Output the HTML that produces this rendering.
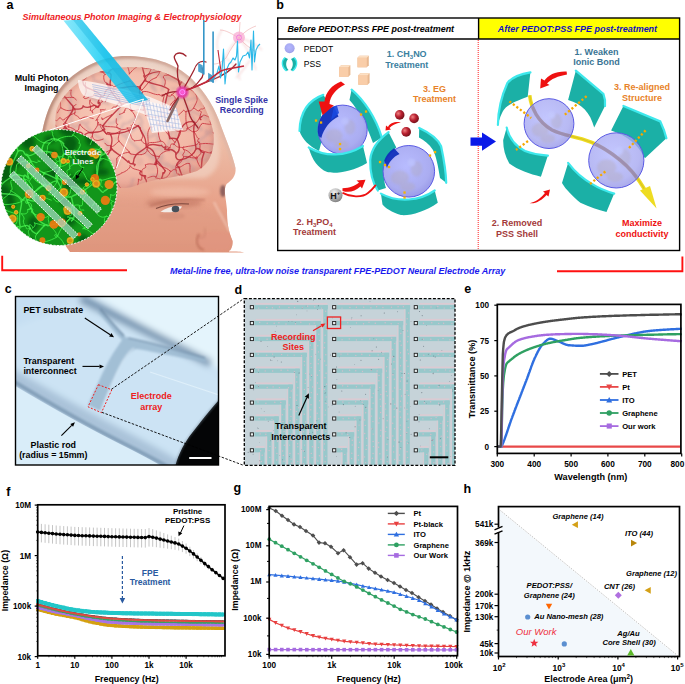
<!DOCTYPE html>
<html><head><meta charset="utf-8"><style>
html,body{margin:0;padding:0;background:#fff;}
body{width:685px;height:684px;overflow:hidden;}
svg{display:block;font-family:"Liberation Sans",sans-serif;}
</style></head><body>
<svg width="685" height="684" viewBox="0 0 685 684" font-family="Liberation Sans, sans-serif">
<defs>
<radialGradient id="sph" cx="0.45" cy="0.4" r="0.62"><stop offset="0" stop-color="#b4b8ff"/><stop offset="0.75" stop-color="#a6a8f0"/><stop offset="1" stop-color="#9494e6"/></radialGradient>
<radialGradient id="redball" cx="0.35" cy="0.35" r="0.7"><stop offset="0" stop-color="#f08080"/><stop offset="0.5" stop-color="#b82030"/><stop offset="1" stop-color="#701018"/></radialGradient>
<radialGradient id="grayball" cx="0.4" cy="0.3" r="0.75"><stop offset="0" stop-color="#f0f0f0"/><stop offset="0.6" stop-color="#b0b0b0"/><stop offset="1" stop-color="#7a7a7a"/></radialGradient>
<radialGradient id="neuron" cx="0.5" cy="0.5" r="0.5"><stop offset="0" stop-color="#ff60e0"/><stop offset="0.6" stop-color="#e040a0"/><stop offset="1" stop-color="#e040a0" stop-opacity="0"/></radialGradient>
<linearGradient id="cbg" x1="0" y1="0" x2="1" y2="1"><stop offset="0" stop-color="#c6e0f4"/><stop offset="0.5" stop-color="#cfe6f6"/><stop offset="1" stop-color="#b8d4ea"/></linearGradient>
<linearGradient id="beam" x1="0" y1="0" x2="1" y2="0"><stop offset="0" stop-color="#50dcf8" stop-opacity="0.8"/><stop offset="0.5" stop-color="#10ccf4"/><stop offset="1" stop-color="#14b8e6" stop-opacity="0.9"/></linearGradient>
<linearGradient id="skin" x1="0" y1="56" x2="0" y2="252" gradientUnits="userSpaceOnUse"><stop offset="0" stop-color="#e8d0c4"/><stop offset="0.45" stop-color="#edbca6"/><stop offset="0.72" stop-color="#e8a48c"/><stop offset="1" stop-color="#e0947a"/></linearGradient>
<linearGradient id="skinshade" x1="0" y1="0" x2="0" y2="1"><stop offset="0" stop-color="#b07a68" stop-opacity="0.25"/><stop offset="0.3" stop-color="#fff" stop-opacity="0"/></linearGradient>
<radialGradient id="brain" cx="0.45" cy="0.4" r="0.65"><stop offset="0" stop-color="#f8ccbc"/><stop offset="0.7" stop-color="#f2b8a6"/><stop offset="1" stop-color="#e6a090"/></radialGradient>
<linearGradient id="rimg" x1="0" y1="0" x2="1" y2="0"><stop offset="0" stop-color="#a87868"/><stop offset="0.5" stop-color="#c09080"/><stop offset="1" stop-color="#e0b8a8"/></linearGradient>
<filter id="blur3" x="-20%" y="-20%" width="140%" height="140%"><feGaussianBlur stdDeviation="3"/></filter>
<filter id="blur2" x="-20%" y="-20%" width="140%" height="140%"><feGaussianBlur stdDeviation="2"/></filter>
<filter id="blur05" x="-20%" y="-20%" width="140%" height="140%"><feGaussianBlur stdDeviation="0.6"/></filter>
<filter id="blur1" x="-20%" y="-20%" width="140%" height="140%"><feGaussianBlur stdDeviation="1"/></filter>
</defs>
<text x="6.4" y="9.3" font-size="12.5" font-weight="bold" text-anchor="start" fill="#000" >a</text>
<clipPath id="headclip"><path d="M70 252 C56 232,42 205,40 175 C38 140,44 108,62 86 C80 66,104 56,126 56 C150 56,174 62,192 79 C206 93,216 110,221 126 C227 142,233 156,235.5 168 C236.5 176,231 181,226.6 184 C223 190,226 197,227 210 C227 222,228 230,232.6 241 C233 246,231 250,229 251.5 C236 251.5,242 251.5,244 252.5 Z"/></clipPath>
<path d="M70 252 C56 232,42 205,40 175 C38 140,44 108,62 86 C80 66,104 56,126 56 C150 56,174 62,192 79 C206 93,216 110,221 126 C227 142,233 156,235.5 168 C236.5 176,231 181,226.6 184 C223 190,226 197,227 210 C227 222,228 230,232.6 241 C233 246,231 250,229 251.5 C236 251.5,242 251.5,244 252.5 Z" fill="url(#skin)"/>
<g clip-path="url(#headclip)">
<path d="M30 200 C30 140,40 100,62 80 C82 60,104 50,126 50 C150 50,176 56,196 76 C212 92,222 112,228 130 L240 130 L240 20 L20 20 L20 200 Z" fill="none"/>
<path d="M40 175 C38 140,44 108,62 86 C80 66,104 56,126 56 C150 56,174 62,192 79 C206 93,216 110,221 126 C227 142,233 156,235.5 168" fill="none" stroke="url(#rimg)" stroke-width="6" opacity="0.7" filter="url(#blur1)"/>
<path d="M52 120 C56 96,78 72,110 64 C140 58,170 66,190 84 C205 100,214 118,218 140 C222 160,218 172,205 178 L80 180 Z" fill="#f4dccf" opacity="0.55" filter="url(#blur2)"/>
<path d="M70 252 L70 200 C110 196,150 200,190 206 L232 215 L240 252 Z" fill="#dc9a84" opacity="0.35" filter="url(#blur3)"/>
<ellipse cx="174" cy="203" rx="28" ry="4.5" fill="#b86c58" opacity="0.5" filter="url(#blur2)"/>
<path d="M150 206 C165 200,185 198,205 200" fill="none" stroke="#a85a4a" stroke-width="1.5" opacity="0.5" filter="url(#blur1)"/>
<ellipse cx="180" cy="192" rx="30" ry="5" fill="#f4c4b0" opacity="0.5" filter="url(#blur2)"/>
<ellipse cx="172" cy="216" rx="13" ry="3.5" fill="#c98470" opacity="0.35" filter="url(#blur1)"/>
<path d="M160.5 211.8 C166 207.5,174 205.5,182 206.5 C180 211,172 213.5,160.5 211.8 Z" fill="#f2ece8"/>
<ellipse cx="175.5" cy="209" rx="3.8" ry="3.3" fill="#46505a"/>
<path d="M156 208.5 C164 205,176 203,189 204" fill="none" stroke="#6e3c34" stroke-width="1.1" opacity="0.85"/>
<ellipse cx="223" cy="191" rx="3" ry="6" fill="#6a4448" opacity="0.7" filter="url(#blur1)"/>
<path d="M214 202 C220 214,226 224,230 232" fill="none" stroke="#f6d0c0" stroke-width="2.5" opacity="0.55" filter="url(#blur1)"/>
<path d="M197 236 C196 244,199 249,206 250 C214 251,222 251,228 250 C232 246,233 240,231 234 C222 230,206 230,197 236 Z" fill="#e29480" opacity="0.6" filter="url(#blur1)"/>
<path d="M229 250.5 C236 250,241 251,244 252.5 L229 252.5 Z" fill="#f4d0c4"/>
<path d="M199 234 C195 241,197 248,204 250" fill="none" stroke="#b0604c" stroke-width="1.8" opacity="0.6" filter="url(#blur1)"/>
<path d="M205 228 C206 236,204 240,198 236" fill="none" stroke="#c07a66" stroke-width="2" opacity="0.3" filter="url(#blur1)"/>
</g>
<path d="M56 112 C62 92,84 74,110 69 C135 64,160 68,180 80 C198 92,209 110,213.5 133 C215 150,210 164,197 171 C178 178,155 178,135 186 C118 192,96 184,78 172 C62 160,53 135,56 112 Z" fill="url(#brain)"/>
<clipPath id="brainclip"><path d="M56 112 C62 92,84 74,110 69 C135 64,160 68,180 80 C198 92,209 110,213.5 133 C215 150,210 164,197 171 C178 178,155 178,135 186 C118 192,96 184,78 172 C62 160,53 135,56 112 Z"/></clipPath>
<g clip-path="url(#brainclip)">
<g fill="#c89090" opacity="0.2" filter="url(#blur1)"><ellipse cx="154.7" cy="157.5" rx="6.2" ry="4.8"/><ellipse cx="172.5" cy="178.8" rx="3.1" ry="3.4"/><ellipse cx="203.4" cy="146.6" rx="6.6" ry="2.3"/><ellipse cx="131.3" cy="99.1" rx="5.2" ry="3.7"/><ellipse cx="62.0" cy="95.6" rx="4.1" ry="4.7"/><ellipse cx="176.4" cy="88.8" rx="6.2" ry="2.4"/><ellipse cx="153.9" cy="85.0" rx="3.0" ry="4.6"/><ellipse cx="91.8" cy="95.4" rx="6.9" ry="4.6"/><ellipse cx="104.0" cy="183.5" rx="5.2" ry="4.0"/><ellipse cx="91.1" cy="181.0" rx="5.8" ry="4.9"/><ellipse cx="195.8" cy="105.3" rx="4.4" ry="2.5"/><ellipse cx="82.1" cy="77.7" rx="4.2" ry="3.8"/><ellipse cx="60.5" cy="150.0" rx="4.4" ry="2.9"/><ellipse cx="184.4" cy="126.7" rx="4.3" ry="3.4"/><ellipse cx="167.1" cy="76.7" rx="6.9" ry="2.1"/><ellipse cx="174.0" cy="169.7" rx="3.1" ry="4.4"/><ellipse cx="115.7" cy="138.3" rx="3.0" ry="2.1"/><ellipse cx="87.5" cy="182.7" rx="3.8" ry="4.3"/><ellipse cx="201.3" cy="181.2" rx="4.4" ry="3.1"/><ellipse cx="139.8" cy="161.5" rx="3.4" ry="4.2"/><ellipse cx="181.2" cy="171.4" rx="3.1" ry="4.8"/><ellipse cx="73.9" cy="110.2" rx="5.4" ry="4.8"/><ellipse cx="111.7" cy="179.1" rx="5.2" ry="2.9"/><ellipse cx="108.2" cy="90.9" rx="3.3" ry="2.4"/><ellipse cx="164.8" cy="187.6" rx="3.6" ry="2.1"/><ellipse cx="210.0" cy="133.0" rx="4.6" ry="2.7"/><ellipse cx="150.3" cy="167.5" rx="4.8" ry="3.3"/><ellipse cx="68.5" cy="178.1" rx="3.1" ry="3.5"/><ellipse cx="187.4" cy="85.4" rx="5.9" ry="4.8"/><ellipse cx="155.8" cy="163.0" rx="3.4" ry="3.3"/><ellipse cx="82.7" cy="169.7" rx="4.2" ry="3.4"/><ellipse cx="211.9" cy="170.6" rx="6.9" ry="3.4"/><ellipse cx="134.2" cy="156.1" rx="4.9" ry="2.9"/><ellipse cx="121.4" cy="87.3" rx="4.5" ry="5.0"/><ellipse cx="205.9" cy="144.0" rx="5.0" ry="3.0"/><ellipse cx="73.5" cy="102.1" rx="6.1" ry="4.6"/><ellipse cx="114.9" cy="162.8" rx="6.1" ry="4.1"/><ellipse cx="160.9" cy="159.6" rx="4.5" ry="4.1"/><ellipse cx="102.7" cy="127.3" rx="6.1" ry="4.1"/><ellipse cx="104.7" cy="181.6" rx="5.6" ry="3.7"/></g>
<g fill="none" stroke="#a88c98" stroke-width="3" opacity="0.28" filter="url(#blur1)"><path d="M96.0 178.7C92.0 177.9 92.6 187.3 95.0 187.8"/><path d="M192.9 66.8C192.3 68.8 188.8 77.5 186.3 83.6"/><path d="M203.2 98.6C202.6 94.2 187.2 102.5 186.4 97.8"/><path d="M186.4 97.8C183.3 96.0 184.9 102.2 186.2 97.6"/><path d="M157.9 174.4C155.7 179.4 156.0 174.0 150.0 175.9"/><path d="M163.7 179.4C166.8 178.4 162.4 190.6 158.3 190.7"/><path d="M158.3 190.7C154.2 193.8 158.0 188.0 154.4 191.3"/><path d="M154.4 191.3C151.3 186.6 152.2 189.5 153.5 191.1"/><path d="M162.2 163.0C167.0 167.4 169.7 167.6 166.4 162.4"/><path d="M176.4 183.2C173.8 175.2 176.3 174.2 174.4 169.0"/><path d="M176.4 183.2C168.1 178.8 172.2 181.7 163.7 179.4"/><path d="M166.4 162.4C165.0 163.6 175.8 168.3 174.4 169.0"/><path d="M160.3 160.4C150.3 156.8 149.4 153.6 139.4 151.0"/><path d="M160.3 160.4C161.5 157.4 157.6 166.9 162.2 163.0"/><path d="M184.0 189.5C185.0 187.2 178.9 188.2 176.4 183.2"/><path d="M131.0 187.6C133.7 180.3 129.8 178.6 135.0 179.6"/><path d="M153.5 191.1C153.1 197.0 151.4 191.1 146.4 194.7"/><path d="M127.7 190.2C133.7 187.8 125.0 187.2 131.0 187.6"/><path d="M157.0 91.4C150.2 87.8 149.4 78.8 150.0 77.1"/><path d="M150.0 77.1C148.9 71.9 151.3 74.9 152.6 70.9"/><path d="M161.9 77.6C165.4 81.0 162.0 88.6 161.7 90.8"/><path d="M161.9 77.6C161.4 75.1 152.8 69.5 153.8 71.1"/><path d="M153.8 71.1C155.8 75.5 154.9 71.8 152.6 70.9"/><path d="M134.9 97.3C127.2 90.7 123.5 84.4 123.3 79.8"/><path d="M152.6 70.9C152.2 67.8 144.9 66.8 144.9 60.5"/><path d="M144.9 60.5C145.1 57.3 139.8 67.4 135.5 65.0"/><path d="M135.1 99.4C127.9 99.8 126.5 101.0 117.4 103.5"/><path d="M109.2 103.3C106.7 105.2 102.4 99.2 105.5 100.9"/><path d="M109.4 84.2C107.9 89.8 111.1 93.1 105.5 100.9"/><path d="M165.8 126.9C164.4 126.6 162.2 121.8 167.7 126.8"/><path d="M156.9 133.8C157.0 142.6 161.8 142.2 163.0 147.9"/><path d="M174.1 127.2C168.7 135.1 172.2 141.4 166.1 147.8"/><path d="M163.3 148.1C160.1 146.7 163.5 152.3 163.0 147.9"/><path d="M139.5 150.8C147.5 153.4 153.3 147.7 163.0 147.9"/><path d="M139.5 150.8C140.0 147.9 138.6 153.9 139.5 150.6"/><path d="M148.0 136.2C146.5 140.0 155.8 132.8 156.9 133.8"/><path d="M160.3 160.4C164.2 151.9 159.8 152.1 163.3 148.1"/><path d="M139.4 151.0C135.9 146.4 137.6 146.3 139.5 150.8"/><path d="M82.4 167.4C79.9 165.3 73.0 159.6 73.7 162.9"/><path d="M82.4 167.4C87.5 167.2 93.5 169.2 99.4 167.4"/><path d="M73.7 162.9C76.2 164.4 70.5 158.0 71.3 160.5"/><path d="M75.0 129.7C67.6 137.1 73.2 141.3 66.1 149.7"/><path d="M106.3 165.1C110.4 164.2 109.1 154.9 105.4 156.7"/><path d="M79.7 181.4C80.1 175.7 84.7 174.4 82.4 167.4"/><path d="M63.7 184.1C69.4 181.1 69.6 170.5 73.7 162.9"/><path d="M96.0 178.7C96.6 171.3 99.1 174.9 99.4 167.4"/><path d="M75.3 127.2C70.6 124.9 70.7 123.4 72.5 123.9"/><path d="M75.3 127.2C74.4 126.1 72.8 128.3 75.0 129.7"/><path d="M72.2 123.8C70.7 120.7 69.6 121.5 72.5 123.9"/><path d="M107.4 165.7C103.7 168.1 102.7 168.2 106.3 165.1"/><path d="M156.0 70.1C159.3 62.0 159.9 65.2 167.9 58.3"/><path d="M186.3 83.6C178.0 80.1 171.9 79.4 161.9 77.6"/><path d="M135.1 99.4C133.3 103.0 135.8 102.4 135.4 99.7"/><path d="M147.4 100.0C145.5 104.4 145.3 102.2 138.4 102.6"/><path d="M135.4 99.7C139.1 98.3 137.9 104.5 138.4 102.6"/><path d="M166.0 111.4C165.1 113.8 168.2 106.6 162.1 107.8"/><path d="M162.1 107.8C159.3 110.7 163.2 104.5 164.1 102.4"/><path d="M164.1 102.4C170.6 97.4 169.2 96.3 172.5 98.0"/><path d="M182.5 97.8C175.5 101.7 174.4 96.9 172.5 98.0"/><path d="M156.4 116.0C161.5 111.6 160.2 112.2 162.1 107.8"/><path d="M186.4 97.8C183.0 103.4 188.8 105.8 186.5 108.4"/><path d="M175.6 127.1C179.3 122.2 181.3 127.3 178.1 125.4"/><path d="M156.4 116.0C154.7 112.4 142.9 107.6 140.9 109.9"/><path d="M140.9 109.9C138.1 103.0 137.2 108.2 138.4 102.6"/><path d="M116.6 60.8C119.7 57.2 117.9 56.1 125.5 60.2"/><path d="M110.2 67.6C114.4 69.9 115.4 66.4 112.0 68.3"/><path d="M117.6 78.5C116.8 79.4 112.4 70.9 112.0 68.3"/><path d="M75.3 127.2C82.6 122.7 79.9 120.1 85.7 123.9"/><path d="M105.4 156.7C110.8 153.4 104.1 150.6 108.7 144.6"/><path d="M85.7 123.9C89.4 134.9 102.7 137.6 108.7 144.6"/><path d="M93.5 74.3C92.0 73.4 94.6 79.5 93.0 79.7"/><path d="M93.5 74.3C90.6 70.5 80.6 66.1 70.9 63.8"/><path d="M70.3 65.4C70.4 77.7 64.7 80.1 68.7 87.9"/><path d="M109.4 84.2C108.5 82.4 94.3 82.2 93.0 79.7"/><path d="M105.5 100.9C104.8 103.9 100.1 101.9 98.0 101.7"/><path d="M98.0 101.7C88.7 94.9 90.7 98.0 84.2 89.1"/><path d="M72.5 123.9C69.9 117.3 69.5 100.8 71.3 90.0"/><path d="M85.7 123.9C84.8 125.6 90.7 119.9 86.4 123.5"/><path d="M95.3 70.4C95.7 69.5 89.4 77.4 93.5 74.3"/><path d="M37.5 89.6C49.1 85.1 62.3 87.5 68.7 87.9"/><path d="M175.6 127.1C176.2 126.8 180.3 127.4 175.8 128.0"/><path d="M166.1 147.8C171.0 153.0 167.2 148.0 172.7 150.5"/><path d="M175.8 128.0C175.8 134.2 177.6 139.2 172.7 150.5"/><path d="M174.4 169.0C178.1 163.8 181.5 160.1 186.0 159.4"/><path d="M191.0 171.7C193.9 169.8 195.2 165.7 191.8 169.5"/><path d="M186.0 159.4C184.5 159.0 190.4 162.0 191.8 169.5"/><path d="M139.5 150.6C132.3 141.8 132.1 143.8 124.4 135.6"/><path d="M148.0 136.2C141.0 128.6 142.3 132.6 140.5 123.5"/><path d="M140.5 123.5C139.0 124.7 129.5 133.4 124.4 135.6"/><path d="M140.5 123.5C143.4 124.0 141.8 121.5 139.6 115.5"/><path d="M118.3 117.9C120.4 115.4 117.6 113.6 121.4 118.1"/><path d="M118.3 117.9C115.8 120.7 115.6 123.4 108.7 123.3"/><path d="M125.5 123.0C120.0 124.3 121.3 133.5 121.5 134.4"/><path d="M108.7 123.3C109.7 122.3 107.2 122.2 108.6 123.4"/><path d="M117.4 103.5C120.9 105.8 118.0 115.5 118.3 117.9"/><path d="M139.6 115.5C131.8 122.1 125.4 124.3 125.5 123.0"/><path d="M124.4 135.6C122.4 133.1 126.1 136.9 121.5 134.4"/><path d="M175.8 154.0C178.1 152.4 184.0 152.1 185.1 154.8"/><path d="M186.0 159.4C189.6 161.2 186.1 159.0 185.3 155.5"/><path d="M185.1 154.8C180.5 153.0 183.8 157.6 185.3 155.5"/><path d="M185.3 155.5C190.3 161.2 199.5 158.8 207.6 159.0"/><path d="M216.0 161.5C217.2 160.8 209.2 158.3 210.1 157.6"/><path d="M210.1 157.6C205.0 161.4 206.5 162.8 207.6 159.0"/><path d="M216.9 112.6C223.0 111.8 226.6 108.2 228.5 113.5"/><path d="M215.3 138.9C211.4 143.5 213.4 149.7 209.4 155.5"/><path d="M209.4 155.5C207.3 155.5 196.5 152.2 196.0 145.6"/><path d="M207.3 133.1C205.6 129.3 206.2 129.7 210.2 134.1"/><path d="M207.3 133.1C208.5 137.0 197.6 138.0 196.1 145.3"/><path d="M196.1 145.3C196.5 142.8 200.2 144.7 196.0 145.6"/><path d="M228.5 113.5C222.5 117.9 213.2 122.4 210.2 134.1"/><path d="M210.1 157.6C208.1 159.2 213.0 155.2 209.4 155.5"/><path d="M186.1 152.8C191.6 151.8 191.3 145.0 196.0 145.6"/><path d="M187.0 108.8C193.5 118.6 196.5 125.3 202.2 130.1"/><path d="M187.0 108.8C197.2 112.6 202.1 116.5 207.1 118.9"/><path d="M186.5 108.4C188.6 108.6 191.0 105.5 187.0 108.8"/><path d="M187.1 130.5C192.1 126.4 193.4 125.5 202.2 130.1"/><path d="M207.3 133.1C206.7 128.0 206.5 136.6 206.1 131.3"/></g>
<g fill="none" stroke="#c82c3a" stroke-width="0.95" opacity="0.85" stroke-linecap="round"><path d="M218.0 109.7C216.4 116.0 213.6 115.5 211.9 118.4"/><path d="M218.0 109.7C213.8 109.0 215.8 110.4 213.1 107.3"/><path d="M204.5 108.1C199.5 111.3 202.6 106.0 199.3 110.5"/><path d="M199.3 110.5C203.4 113.1 201.0 110.5 200.5 114.7"/><path d="M211.9 118.4C205.0 115.4 203.1 113.5 201.8 116.7"/><path d="M256.9 105.4C243.5 109.6 231.1 109.4 218.0 109.7"/><path d="M213.1 107.3C212.1 101.2 206.8 99.9 206.3 90.2"/><path d="M206.3 90.2C212.2 90.6 211.2 85.5 215.9 86.4"/><path d="M142.0 92.8C141.4 95.2 141.4 95.8 142.4 91.9"/><path d="M142.0 92.8C138.6 96.2 146.5 104.1 143.8 110.1"/><path d="M142.4 91.9C147.2 89.4 154.6 95.9 159.2 94.6"/><path d="M151.2 194.3C157.7 191.5 153.7 182.6 159.5 179.7"/><path d="M147.7 178.1C147.9 178.2 153.0 174.8 156.2 176.8"/><path d="M156.2 176.8C154.4 178.6 155.5 177.5 159.7 178.8"/><path d="M162.1 178.3C167.7 180.4 171.5 183.4 171.6 189.4"/><path d="M54.6 120.2C59.1 120.5 54.7 122.5 59.6 117.8"/><path d="M67.3 132.1C66.4 128.8 64.8 125.5 68.7 127.0"/><path d="M67.3 132.1C63.3 134.0 62.3 133.9 61.3 135.4"/><path d="M64.2 122.0C65.6 124.3 70.1 122.8 68.7 127.0"/><path d="M61.3 135.4C63.6 131.6 58.3 133.7 60.6 130.0"/><path d="M53.2 122.6C51.1 127.1 56.8 125.1 54.0 125.1"/><path d="M54.0 125.1C51.3 122.5 58.7 125.1 55.4 128.3"/><path d="M64.2 119.5C60.7 121.6 61.9 116.7 59.6 117.8"/><path d="M60.6 130.0C55.4 127.2 57.6 131.7 55.4 128.3"/><path d="M211.9 118.4C209.9 123.7 209.0 118.5 211.1 124.3"/><path d="M201.4 124.3C201.1 121.7 206.8 124.9 211.1 124.3"/><path d="M159.2 123.8C167.5 133.8 170.9 137.7 174.9 142.4"/><path d="M159.2 123.8C160.8 120.6 164.4 128.1 172.7 125.3"/><path d="M174.9 142.4C180.6 134.8 179.9 134.7 180.8 131.0"/><path d="M180.8 131.0C176.7 133.1 172.0 127.6 172.7 125.3"/><path d="M200.5 114.7C199.4 121.1 193.6 126.1 187.7 128.3"/><path d="M201.4 124.3C197.7 128.1 199.5 132.0 193.7 131.5"/><path d="M193.7 131.5C194.0 133.3 190.3 130.4 187.7 128.3"/><path d="M187.7 128.3C188.3 129.2 184.3 129.4 187.7 128.3"/><path d="M147.1 149.3C148.2 152.8 142.4 154.7 141.4 154.6"/><path d="M147.1 149.3C150.6 154.4 151.8 156.1 159.2 156.5"/><path d="M145.4 165.0C148.7 162.7 153.8 164.7 155.6 164.5"/><path d="M159.2 156.5C161.9 156.8 153.9 159.4 157.1 163.3"/><path d="M157.1 163.3C154.2 161.1 159.3 165.4 155.6 164.5"/><path d="M156.2 176.8C159.1 171.3 157.1 166.2 155.6 164.5"/><path d="M162.1 178.3C167.3 179.2 170.7 172.6 170.4 171.2"/><path d="M170.4 171.2C164.5 165.7 161.5 168.6 157.1 163.3"/><path d="M199.3 110.5C199.0 113.4 193.6 106.4 193.4 108.3"/><path d="M187.7 128.3C185.3 120.4 185.9 118.0 186.0 111.4"/><path d="M193.4 108.3C189.4 112.1 192.3 110.0 186.0 111.4"/><path d="M190.2 74.8C184.5 80.9 186.8 82.1 184.3 88.1"/><path d="M184.3 88.1C184.3 87.2 191.6 88.3 195.8 94.1"/><path d="M195.8 94.1C195.4 90.8 195.6 94.3 200.9 92.8"/><path d="M200.9 92.8C203.7 93.2 206.9 94.8 206.1 90.2"/><path d="M206.3 90.2C203.8 90.0 203.6 86.3 206.1 90.2"/><path d="M189.6 73.1C191.5 71.1 188.2 73.0 190.2 74.8"/><path d="M204.5 108.1C203.5 103.9 204.2 97.1 200.9 92.8"/><path d="M193.4 108.3C197.4 100.3 198.4 100.6 195.8 94.1"/><path d="M134.6 189.8C140.5 199.4 143.5 203.1 149.5 208.9"/><path d="M105.7 225.2C113.3 216.6 115.8 202.0 121.3 188.6"/><path d="M134.6 189.8C138.4 187.4 138.8 180.5 138.4 179.3"/><path d="M138.4 179.3C143.4 181.8 141.1 179.1 142.0 175.6"/><path d="M145.4 165.0C147.5 170.2 141.7 166.3 141.7 171.9"/><path d="M142.0 175.6C142.3 176.5 141.7 169.4 141.7 171.9"/><path d="M106.8 187.0C102.9 202.1 103.4 211.1 105.7 225.2"/><path d="M106.8 187.0C105.7 180.1 110.5 180.6 112.2 174.7"/><path d="M121.3 188.6C120.5 187.9 116.5 183.6 114.2 175.7"/><path d="M114.2 175.7C115.0 176.6 120.4 174.1 121.8 173.0"/><path d="M141.7 171.9C138.3 168.4 133.1 170.7 130.2 165.9"/><path d="M121.8 173.0C122.3 173.5 131.2 168.5 130.2 165.9"/><path d="M141.4 154.6C135.5 154.6 134.3 154.9 130.7 153.8"/><path d="M106.8 187.0C101.3 189.3 98.0 193.7 89.9 196.3"/><path d="M57.4 112.9C60.1 107.7 60.0 108.8 60.8 107.8"/><path d="M47.7 96.2C54.7 95.2 54.7 95.0 58.5 98.9"/><path d="M58.5 98.9C61.8 105.1 59.9 103.4 60.8 107.8"/><path d="M68.7 87.8C70.4 82.9 67.5 80.2 63.5 82.1"/><path d="M61.1 136.4C61.8 136.8 66.2 136.4 67.2 141.2"/><path d="M67.2 141.2C67.4 138.6 71.6 133.4 76.8 133.1"/><path d="M129.2 151.8C125.3 147.2 121.7 144.9 119.0 141.1"/><path d="M120.8 129.8C124.1 129.4 128.0 129.5 127.3 128.1"/><path d="M134.5 140.8C130.0 138.5 132.2 135.5 127.3 128.1"/><path d="M119.0 141.1C117.9 141.2 117.5 138.4 120.1 131.1"/><path d="M58.2 139.7C47.2 135.9 43.8 134.3 33.8 134.5"/><path d="M60.9 136.5C55.8 137.7 48.9 133.4 47.4 133.1"/><path d="M51.0 150.5C49.6 144.5 57.3 146.6 58.2 139.7"/><path d="M61.1 136.4C58.0 136.5 63.1 136.5 60.9 136.5"/><path d="M55.4 128.3C50.3 126.4 46.9 127.8 47.4 133.1"/><path d="M54.0 125.1C51.6 128.3 46.0 127.9 46.3 133.1"/><path d="M123.1 103.8C125.9 106.8 117.5 99.5 119.6 102.6"/><path d="M124.4 112.2C124.2 113.8 123.3 110.8 124.8 110.6"/><path d="M124.4 112.2C122.2 113.7 117.3 115.2 119.5 114.3"/><path d="M119.6 102.6C115.8 103.7 119.0 104.8 115.9 107.0"/><path d="M198.8 138.7C194.9 143.0 201.2 142.6 198.9 142.1"/><path d="M199.7 144.1C200.5 142.7 199.9 142.8 198.9 142.1"/><path d="M199.7 144.1C208.3 142.0 215.2 145.8 218.0 143.7"/><path d="M218.0 143.7C218.9 139.1 217.9 139.1 213.1 132.3"/><path d="M193.7 131.5C197.5 136.0 196.3 138.1 198.8 138.7"/><path d="M234.2 160.8C222.8 153.3 210.7 154.8 200.6 150.1"/><path d="M200.6 150.1C198.2 151.7 201.4 144.8 199.7 144.1"/><path d="M206.1 174.8C203.5 169.8 199.0 168.2 196.7 159.0"/><path d="M200.6 150.1C200.9 154.9 201.9 151.7 196.7 158.2"/><path d="M196.7 159.0C198.6 156.8 195.9 154.9 196.7 158.2"/><path d="M143.6 110.3C136.4 108.4 138.9 110.9 131.7 110.5"/><path d="M133.6 123.0C136.6 119.4 136.2 115.9 131.5 110.8"/><path d="M131.7 110.5C128.2 111.4 133.6 107.1 131.5 110.8"/><path d="M132.6 100.3C129.6 103.5 129.4 107.1 131.7 110.5"/><path d="M132.6 100.3C132.2 101.4 138.3 95.5 142.0 92.8"/><path d="M143.8 110.1C142.6 108.5 144.9 110.7 143.6 110.3"/><path d="M124.8 110.6C125.4 106.8 127.2 107.1 131.5 110.8"/><path d="M132.9 124.5C132.3 127.2 135.3 119.9 133.6 123.0"/><path d="M132.6 100.3C133.0 98.1 129.5 102.1 123.1 103.8"/><path d="M141.3 140.0C144.7 133.8 140.7 135.1 140.2 127.4"/><path d="M141.3 140.0C143.2 145.2 148.2 143.6 147.9 144.1"/><path d="M148.1 144.0C148.5 135.9 146.0 132.8 150.4 126.9"/><path d="M134.5 140.8C138.1 140.2 137.1 140.9 141.3 140.0"/><path d="M127.3 128.1C130.8 127.4 133.8 129.8 131.1 125.2"/><path d="M132.9 124.5C133.2 122.4 140.9 128.7 140.2 127.4"/><path d="M129.2 151.8C128.1 150.3 130.8 153.0 129.4 152.8"/><path d="M147.1 149.3C148.4 149.6 145.1 143.8 147.9 144.1"/><path d="M130.7 153.8C133.6 156.5 126.2 149.6 129.4 152.8"/><path d="M180.7 66.7C179.3 63.9 176.3 64.1 173.7 68.0"/><path d="M175.0 91.7C178.5 91.5 180.2 89.1 184.3 88.1"/><path d="M173.7 68.0C175.3 72.4 169.7 68.3 172.8 73.0"/><path d="M159.2 94.6C162.0 96.8 160.5 94.0 164.5 94.5"/><path d="M164.5 94.5C161.1 105.1 163.7 111.7 157.3 122.4"/><path d="M150.4 126.9C154.7 128.8 154.5 123.0 157.5 122.7"/><path d="M160.5 141.0C156.4 131.8 159.6 129.2 158.4 123.6"/><path d="M160.5 141.0C154.7 144.2 148.8 140.7 148.1 144.0"/><path d="M158.4 123.6C154.8 121.7 159.6 124.5 157.5 122.7"/><path d="M189.2 163.4C191.8 166.1 187.8 172.6 191.6 174.7"/><path d="M199.7 176.5C200.3 179.4 197.6 174.8 191.6 174.7"/><path d="M176.2 170.0C175.5 169.9 177.1 176.3 178.8 174.2"/><path d="M176.2 170.0C174.4 168.1 175.5 167.4 176.8 167.7"/><path d="M189.2 163.4C184.2 162.4 181.4 168.6 176.8 167.7"/><path d="M191.6 174.7C190.0 175.0 180.5 176.4 178.8 174.2"/><path d="M118.9 52.4C123.9 51.6 132.5 58.8 139.1 61.6"/><path d="M119.7 59.2C126.7 65.3 128.6 65.5 129.4 73.9"/><path d="M129.4 73.9C134.8 67.8 132.3 70.2 138.8 65.6"/><path d="M139.1 61.6C135.7 64.0 136.0 66.2 138.8 65.6"/><path d="M79.7 188.4C78.3 181.4 83.2 179.0 81.7 174.1"/><path d="M89.7 195.5C90.5 189.3 96.8 187.1 94.7 180.8"/><path d="M94.7 180.8C90.7 180.4 87.7 179.7 81.7 174.1"/><path d="M110.8 173.5C115.4 169.9 117.6 166.1 116.7 158.8"/><path d="M110.8 173.5C112.1 176.7 108.3 172.9 105.3 172.3"/><path d="M105.3 172.3C107.5 171.3 104.2 168.8 104.5 171.3"/><path d="M104.5 171.3C106.8 165.9 98.6 160.2 99.6 158.2"/><path d="M99.6 158.2C101.7 159.3 103.6 151.3 110.9 150.2"/><path d="M112.2 174.7C114.0 171.7 107.8 173.6 110.8 173.5"/><path d="M129.4 152.8C128.5 151.1 117.8 154.3 116.7 158.8"/><path d="M82.0 165.5C90.3 165.3 94.5 167.6 104.5 171.3"/><path d="M93.5 152.8C94.0 154.9 100.1 156.2 99.6 158.2"/><path d="M111.2 146.3C112.4 144.0 107.3 147.9 104.9 143.2"/><path d="M111.2 146.3C108.8 144.0 114.6 151.4 110.9 150.2"/><path d="M119.0 141.1C116.6 143.0 112.0 148.5 111.2 146.3"/><path d="M93.5 152.8C90.4 148.6 91.3 151.1 90.6 151.9"/><path d="M80.7 160.5C82.8 163.1 78.8 161.1 82.0 165.5"/><path d="M80.7 160.5C79.8 161.8 82.8 158.2 83.7 155.4"/><path d="M90.6 151.9C86.4 153.3 83.2 156.4 83.7 155.4"/><path d="M105.2 74.2C107.2 76.1 100.3 71.0 102.9 72.1"/><path d="M99.7 61.6C97.5 65.0 101.6 72.3 102.9 72.1"/><path d="M58.5 98.9C66.3 96.9 70.8 97.4 73.5 97.6"/><path d="M68.7 87.8C66.3 91.2 68.1 89.8 71.3 90.2"/><path d="M73.5 97.6C70.0 97.8 70.5 91.2 71.3 90.2"/><path d="M73.6 181.3C74.7 180.4 75.1 177.5 77.5 173.4"/><path d="M68.5 145.7C70.7 149.9 76.3 147.8 76.2 146.9"/><path d="M83.7 155.4C82.9 150.5 79.2 149.4 76.2 146.9"/><path d="M51.0 150.5C56.0 149.9 57.2 152.3 58.8 155.7"/><path d="M67.2 141.2C68.0 141.1 66.8 143.4 68.5 145.7"/><path d="M58.8 155.7C58.3 152.7 63.5 153.1 63.1 153.8"/><path d="M120.1 131.1C116.0 133.9 109.6 135.7 106.3 134.1"/><path d="M120.2 128.9C115.1 124.9 106.0 128.6 100.0 124.4"/><path d="M106.3 134.1C100.9 128.7 99.4 124.6 100.0 124.4"/><path d="M77.0 130.7C73.5 134.9 76.3 132.4 76.9 133.1"/><path d="M77.0 130.7C80.1 131.2 78.0 125.1 79.9 124.4"/><path d="M79.9 124.4C80.3 126.5 90.0 134.1 92.7 133.2"/><path d="M76.9 133.1C79.4 135.3 75.5 134.4 80.6 137.0"/><path d="M80.6 137.0C84.9 134.5 85.7 138.4 89.8 138.9"/><path d="M89.8 138.9C93.2 138.9 88.7 139.1 92.3 136.0"/><path d="M92.3 136.0C92.8 133.9 92.6 131.3 92.7 133.2"/><path d="M68.7 127.0C75.3 128.4 75.9 132.2 77.0 130.7"/><path d="M76.2 146.9C78.7 141.2 75.8 138.3 80.6 137.0"/><path d="M90.6 151.9C91.9 146.2 93.5 142.1 89.8 138.9"/><path d="M103.2 139.1C96.6 141.9 93.0 140.3 92.3 136.0"/><path d="M100.0 124.4C99.8 124.4 96.8 126.6 98.0 122.7"/><path d="M98.0 122.7C98.7 127.0 91.4 132.3 92.7 133.2"/><path d="M129.8 80.8C122.4 83.5 121.9 82.5 113.9 87.1"/><path d="M105.2 74.2C102.3 73.4 103.7 84.1 106.8 83.1"/><path d="M113.9 87.1C112.8 84.2 110.5 86.4 106.8 83.1"/><path d="M170.4 171.2C173.1 173.2 170.4 168.0 176.2 170.0"/><path d="M159.2 156.5C159.7 153.6 166.4 150.0 169.2 150.6"/><path d="M176.8 167.7C174.8 167.4 175.2 167.2 176.4 165.2"/><path d="M174.9 142.4C171.8 146.7 175.3 143.5 174.3 144.3"/><path d="M180.8 131.0C184.1 131.6 187.5 131.2 187.7 128.3"/><path d="M198.9 142.1C197.4 146.7 190.8 145.1 182.5 147.6"/><path d="M174.3 144.3C177.6 148.7 180.0 146.7 182.5 147.6"/><path d="M160.5 141.0C166.9 141.7 163.3 147.2 170.0 147.6"/><path d="M158.4 123.6C160.5 124.4 160.9 122.1 159.2 123.8"/><path d="M174.3 144.3C169.4 142.4 171.0 146.5 170.0 147.6"/><path d="M169.2 150.6C165.9 151.2 170.0 146.5 170.0 147.6"/><path d="M129.8 80.8C132.4 81.2 133.3 89.1 140.2 88.3"/><path d="M151.5 67.3C148.6 69.7 142.4 68.6 138.8 65.6"/><path d="M151.7 67.5C148.4 77.6 140.8 83.7 140.2 88.3"/><path d="M119.6 102.6C121.3 95.0 113.7 93.8 113.8 91.7"/><path d="M113.9 87.1C110.4 91.8 116.4 89.4 113.8 91.7"/><path d="M141.7 90.4C141.8 86.1 136.9 92.2 140.2 88.3"/><path d="M164.2 86.3C163.9 86.9 167.5 80.3 163.4 77.6"/><path d="M156.1 77.7C160.1 72.8 160.4 71.6 158.5 70.3"/><path d="M175.0 91.7C171.3 95.7 176.8 91.3 171.8 94.6"/><path d="M172.8 73.0C167.2 77.6 162.9 72.9 163.4 77.6"/><path d="M166.5 94.1C166.7 97.5 173.0 96.2 171.8 94.6"/><path d="M164.5 94.5C168.7 93.9 162.4 92.0 166.5 94.1"/><path d="M141.7 90.4C148.2 83.7 148.8 79.8 156.1 77.7"/><path d="M168.8 65.1C169.5 63.7 166.7 67.4 163.8 63.9"/><path d="M163.8 63.9C159.7 63.7 163.4 68.0 158.0 68.1"/><path d="M158.0 68.1C152.6 71.7 153.3 67.9 151.7 67.5"/><path d="M168.9 112.5C167.1 109.4 170.8 102.7 174.3 100.8"/><path d="M168.9 112.5C167.4 112.8 174.6 114.5 174.4 118.5"/><path d="M174.4 118.5C175.0 118.9 184.5 109.2 183.8 110.2"/><path d="M171.8 94.6C174.6 95.8 176.9 98.7 174.3 100.8"/><path d="M172.7 125.3C174.4 121.9 175.1 123.0 174.4 118.5"/><path d="M186.0 111.4C185.3 113.8 186.0 110.8 183.8 110.2"/><path d="M195.1 181.4C187.1 183.8 181.7 182.5 179.0 181.8"/><path d="M178.8 174.2C181.0 179.0 181.3 177.1 179.0 181.8"/><path d="M140.4 57.6C141.4 59.8 146.9 56.9 150.2 62.2"/><path d="M151.5 67.3C152.8 66.2 153.6 61.3 150.2 62.2"/><path d="M116.4 118.8C116.4 120.2 115.4 124.9 117.7 124.3"/><path d="M111.7 114.6C109.2 116.6 108.0 115.8 102.6 119.5"/><path d="M115.9 107.0C110.6 106.4 113.7 108.9 111.1 109.5"/><path d="M120.2 128.9C116.1 130.0 115.9 123.9 117.7 124.3"/><path d="M93.8 95.0C94.7 98.0 86.8 95.7 88.6 97.1"/><path d="M88.6 97.1C84.9 100.8 82.0 96.8 84.1 96.8"/><path d="M84.1 96.8C88.5 89.2 84.7 89.3 85.5 82.6"/><path d="M102.9 72.1C96.2 71.1 93.6 71.2 91.4 71.7"/><path d="M195.3 157.7C193.6 159.3 185.4 155.1 183.8 156.8"/><path d="M195.3 157.7C189.3 154.6 190.9 151.1 183.5 149.4"/><path d="M183.5 149.4C187.5 152.8 180.0 153.6 183.8 156.8"/><path d="M196.7 158.2C192.7 156.8 197.3 160.8 195.3 157.7"/><path d="M176.4 165.2C181.9 162.1 180.4 162.4 183.8 156.8"/><path d="M182.5 147.6C185.1 146.0 182.0 146.3 183.5 149.4"/><path d="M87.8 68.9C85.3 66.8 85.8 69.3 88.3 69.9"/><path d="M88.3 69.9C86.2 77.3 86.4 79.7 83.3 80.2"/><path d="M78.2 79.4C76.5 81.2 80.5 78.1 83.3 80.2"/><path d="M73.5 97.6C77.8 100.1 73.5 98.1 76.3 100.0"/><path d="M76.8 161.6C70.2 164.7 67.6 166.8 60.3 164.5"/><path d="M68.8 167.9C65.1 163.4 66.2 164.2 60.3 164.5"/><path d="M77.5 173.4C75.5 169.9 72.3 171.3 70.9 173.4"/><path d="M58.8 155.7C55.1 156.0 58.3 159.7 58.9 161.2"/><path d="M90.1 100.1C88.3 105.3 91.6 104.0 90.4 110.2"/><path d="M64.2 119.5C67.0 116.4 74.2 113.0 74.8 113.0"/><path d="M80.3 119.1C76.2 113.4 72.8 116.1 74.8 113.0"/><path d="M60.8 107.8C68.0 112.2 68.6 110.3 74.9 109.6"/><path d="M74.8 113.0C72.6 113.4 76.2 114.3 74.9 109.6"/><path d="M74.9 109.6C73.2 109.0 72.4 105.7 76.0 104.6"/><path d="M113.8 91.7C107.5 94.2 106.8 98.5 105.4 101.8"/><path d="M93.8 95.0C96.5 94.6 100.8 97.4 102.3 101.7"/><path d="M90.4 110.2C90.5 108.3 92.6 113.7 92.7 113.0"/><path d="M80.3 119.1C86.2 115.1 88.0 117.6 93.2 118.5"/><path d="M90.1 100.1C88.4 102.3 94.6 104.4 95.8 106.9"/><path d="M92.7 113.0C91.7 107.2 93.5 112.1 95.8 106.9"/><path d="M102.3 101.7C99.1 104.7 97.2 104.7 98.4 106.6"/><path d="M95.8 106.9C100.3 105.7 98.1 110.2 98.4 106.6"/><path d="M105.3 109.6C104.7 110.6 101.4 109.0 100.5 109.7"/><path d="M100.5 109.7C102.0 112.3 100.8 113.1 96.1 120.3"/><path d="M97.9 122.1C95.8 120.4 100.5 118.1 96.1 120.3"/><path d="M102.6 119.5C100.4 115.6 102.8 118.7 102.3 119.6"/><path d="M98.0 122.7C99.1 122.9 98.9 122.8 97.9 122.1"/></g>
<g fill="none" stroke="#b82030" stroke-width="1.4" opacity="0.8" stroke-linecap="round"><path d="M202.6 91.2C203.1 89.3 197.0 91.4 199.3 86.3"/><path d="M64.6 124.6C65.0 125.8 61.9 120.8 65.2 127.9"/><path d="M65.2 127.9C65.1 123.6 66.5 126.4 61.9 130.5"/><path d="M83.1 106.1C90.7 111.0 93.9 101.3 97.2 107.3"/><path d="M98.4 103.4C98.0 100.0 103.0 104.4 97.2 107.3"/><path d="M101.4 96.4C95.9 103.9 98.8 101.7 98.4 103.4"/><path d="M101.4 96.4C95.0 87.6 83.4 90.6 82.7 81.1"/><path d="M72.5 105.6C72.5 111.4 84.3 109.0 83.1 106.1"/><path d="M72.5 105.6C68.7 101.4 58.5 91.3 58.4 84.6"/><path d="M70.5 83.9C62.9 89.2 67.1 83.3 58.4 84.6"/><path d="M64.6 124.6C66.7 116.9 75.8 110.6 72.5 105.6"/><path d="M176.9 49.0C186.0 60.2 183.0 72.1 186.2 82.8"/><path d="M201.6 116.7C198.0 118.9 201.7 120.0 200.7 119.5"/><path d="M194.6 123.7C196.9 121.6 190.2 120.8 186.2 122.9"/><path d="M168.7 89.5C164.0 84.9 154.8 85.5 144.6 80.3"/><path d="M180.1 83.3C179.6 77.8 174.0 80.1 162.2 70.3"/><path d="M162.2 70.3C161.1 72.3 149.3 71.5 145.2 76.6"/><path d="M145.2 76.6C140.9 72.7 148.4 82.3 144.6 80.3"/><path d="M176.9 49.0C176.1 50.7 164.2 60.7 162.2 70.3"/><path d="M186.2 82.8C180.2 77.8 180.2 87.9 180.1 83.3"/><path d="M57.5 142.9C65.3 146.6 64.2 156.4 72.0 154.8"/><path d="M57.5 142.9C56.2 142.0 45.9 156.4 45.3 157.1"/><path d="M48.8 159.3C60.7 159.9 62.7 159.1 70.9 157.5"/><path d="M70.9 157.5C69.0 157.0 69.0 158.9 72.0 154.8"/><path d="M69.2 188.4C76.4 175.8 73.8 176.4 74.5 167.8"/><path d="M74.5 167.8C74.3 161.4 71.0 166.4 70.9 157.5"/><path d="M110.7 87.3C106.0 82.8 105.3 82.3 109.9 88.4"/><path d="M110.7 87.3C116.3 91.8 132.3 83.0 140.4 87.5"/><path d="M109.9 88.4C111.8 93.9 114.6 95.5 122.0 105.0"/><path d="M145.2 113.2C146.1 105.2 136.5 98.6 140.4 87.5"/><path d="M101.4 96.4C107.5 97.2 101.2 90.6 109.9 88.4"/><path d="M102.6 126.3C105.2 121.7 112.6 114.5 122.0 105.0"/><path d="M108.0 72.8C100.0 70.0 100.8 74.7 100.7 68.5"/><path d="M108.0 72.8C116.5 64.7 130.3 50.6 133.4 46.7"/><path d="M145.2 76.6C141.3 69.5 142.9 54.4 133.4 46.7"/><path d="M144.6 80.3C143.5 83.4 136.5 88.9 140.4 87.5"/><path d="M110.7 87.3C108.0 80.3 114.8 72.9 108.0 72.8"/><path d="M169.8 116.5C171.3 115.8 167.9 110.6 164.8 116.2"/><path d="M168.7 89.5C166.3 98.5 164.1 105.8 163.7 115.8"/><path d="M163.7 115.8C154.8 118.0 155.7 118.1 145.9 115.2"/><path d="M194.6 123.7C191.9 130.7 195.4 142.0 196.1 148.8"/><path d="M186.2 122.9C178.1 128.0 179.9 136.2 177.0 139.0"/><path d="M196.1 148.8C194.3 154.0 188.9 158.2 180.6 159.8"/><path d="M180.6 159.8C181.4 160.0 174.5 160.9 176.0 153.9"/><path d="M176.0 153.9C177.7 152.8 182.2 149.8 177.0 139.0"/><path d="M203.8 180.9C201.6 170.2 199.8 162.7 204.1 152.6"/><path d="M244.4 142.8C238.5 148.9 221.6 144.6 210.8 152.5"/><path d="M196.1 148.8C201.2 146.6 199.5 153.0 204.1 152.6"/><path d="M187.9 179.9C182.0 181.0 179.7 168.4 178.8 167.0"/><path d="M180.6 159.8C175.8 164.4 175.8 165.8 178.8 167.0"/><path d="M165.2 170.7C163.0 176.7 163.4 171.4 163.1 172.9"/><path d="M165.2 170.7C159.6 163.4 158.0 161.2 156.4 160.5"/><path d="M140.7 171.1C136.5 176.3 148.7 176.6 144.8 175.7"/><path d="M165.6 205.3C158.9 199.8 165.6 188.6 162.0 184.9"/><path d="M162.0 184.9C157.5 178.6 162.2 181.6 163.1 172.9"/><path d="M102.5 162.2C100.8 160.9 111.8 152.9 110.6 147.7"/><path d="M90.2 163.5C87.9 153.6 87.9 154.4 81.3 143.7"/><path d="M110.6 147.7C114.2 136.9 109.7 132.6 107.8 132.6"/><path d="M103.2 129.7C99.7 135.1 86.5 128.9 83.8 136.5"/><path d="M103.2 129.7C106.0 132.1 105.9 135.3 107.8 132.6"/><path d="M83.8 136.5C80.2 137.1 79.7 142.8 81.3 143.7"/><path d="M108.1 181.0C101.1 169.5 104.5 170.6 102.5 162.2"/><path d="M128.1 162.0C117.0 151.7 116.4 154.6 110.6 147.7"/><path d="M74.5 167.8C75.6 161.6 90.2 165.4 90.2 163.5"/><path d="M72.0 154.8C77.4 153.8 78.5 142.3 81.3 143.7"/><path d="M133.2 163.3C134.1 152.4 140.1 153.0 146.3 147.3"/><path d="M133.2 163.3C127.6 165.4 129.7 158.4 128.1 162.0"/><path d="M138.3 125.7C144.6 137.7 145.7 136.7 146.3 147.3"/><path d="M138.3 125.7C132.9 128.4 122.8 136.0 107.8 132.6"/><path d="M65.2 127.9C76.7 136.0 81.1 127.7 83.8 136.5"/><path d="M102.6 126.3C104.2 128.7 106.1 130.3 103.2 129.7"/><path d="M156.4 160.5C156.9 165.1 152.9 166.5 156.4 160.5"/><path d="M176.0 153.9C176.7 155.2 175.5 149.1 168.3 149.2"/><path d="M133.2 163.3C129.7 164.6 137.7 163.2 134.3 165.7"/><path d="M156.4 160.5C154.1 150.4 151.8 148.2 146.5 147.3"/><path d="M164.9 119.2C166.8 130.4 168.3 127.6 169.7 138.6"/><path d="M161.4 145.4C164.4 149.1 167.0 148.1 165.3 146.7"/><path d="M164.8 116.2C164.0 115.8 164.8 115.4 164.9 119.2"/><path d="M146.5 147.3C151.0 141.1 160.3 147.1 161.4 145.4"/><path d="M177.0 139.0C177.4 141.6 178.0 137.3 169.7 138.6"/><path d="M168.3 149.2C161.4 150.4 167.3 148.4 165.3 146.7"/><path d="M148.9 185.2C143.8 179.4 148.8 183.8 144.6 177.5"/><path d="M144.8 175.7C139.4 174.7 148.6 176.9 144.6 177.5"/><path d="M162.0 184.9C156.3 186.5 154.4 187.4 148.9 185.2"/></g>
<path d="M56 112 C62 92,84 74,110 69 C135 64,160 68,180 80 C198 92,209 110,213.5 133 C215 150,210 164,197 171 C178 178,155 178,135 186 C118 192,96 184,78 172 C62 160,53 135,56 112 Z" fill="none" stroke="#d08878" stroke-width="4" opacity="0.5" filter="url(#blur2)"/>
</g>
<path d="M78 80 C100 82,128 90,150 97 L176 108 L183 130 L152 133 L146 115 C128 108,104 100,84 96 C80 92,78 86,78 80 Z" fill="#ffffff" opacity="0.7"/>
<g stroke="#7c9ad8" stroke-width="0.55" fill="none" opacity="0.85"><path d="M92.0 84.5 C112 88.0,132 94.0,150 99.0"/><path d="M92.5 86.7 C112 90.2,132 96.0,150 100.6"/><path d="M93.0 88.9 C112 92.4,132 98.0,150 102.2"/><path d="M93.5 91.1 C112 94.6,132 100.0,150 103.8"/><path d="M94.0 93.3 C112 96.8,132 102.0,150 105.4"/><path d="M94.5 95.5 C112 99.0,132 104.0,150 107.0"/></g>
<path d="M143 100 L176 108 L182 128 L154 132 Z" fill="#ffffff" opacity="0.55"/>
<g stroke="#7c9ad8" stroke-width="0.5" fill="none" opacity="0.75"><path d="M146.0 101.0 L152.0 131.5"/><path d="M149.4 101.8 L155.0 131.2"/><path d="M152.8 102.6 L158.0 130.9"/><path d="M156.2 103.4 L161.0 130.6"/><path d="M159.6 104.2 L164.0 130.3"/><path d="M163.0 105.0 L167.0 130.0"/><path d="M166.4 105.8 L170.0 129.7"/><path d="M169.8 106.6 L173.0 129.4"/><path d="M173.2 107.4 L176.0 129.1"/><path d="M176.6 108.2 L179.0 128.8"/><path d="M145.0 104 L177.0 111.0"/><path d="M146.2 109 L178.2 115.4"/><path d="M147.4 114 L179.4 119.8"/><path d="M148.6 119 L180.6 124.2"/><path d="M149.8 124 L181.8 128.6"/></g>
<path d="M63.4 20.4 L81.7 19.4 L148 100 L130 104 Z" fill="url(#beam)" opacity="0.85"/>
<path d="M73 20 L81.7 19.4 L148 100 L139 102 Z" fill="#08a8d8" opacity="0.3"/>
<line x1="143.5" y1="99" x2="50" y2="130" stroke="#fff" stroke-width="1"/>
<line x1="143.5" y1="99" x2="116.5" y2="168" stroke="#fff" stroke-width="1"/>
<line x1="178" y1="99" x2="167.5" y2="121" stroke="#8a6866" stroke-width="2.6" stroke-linecap="round"/>
<g fill="none" stroke="#a0242e" stroke-width="1.3" stroke-linecap="round"><path d="M182 92 C178 82,176 74,178 66 C176 60,172 58,176 54 C180 52,184 54,186 56"/><path d="M182 92 C186 84,190 78,194 70 C196 64,200 60,206 62"/><path d="M182 92 C190 90,196 86,200 80 C204 76,204 72,202 68"/><path d="M182 92 C192 88,202 84,212 80 C222 76,230 72,236 64"/><path d="M182 92 C174 91,168 92,162 96"/><path d="M182 92 C184 100,188 108,190 116 C192 122,196 124,198 128"/><path d="M182 92 C178 98,174 102,170 110"/></g>
<circle cx="182.3" cy="92.2" r="7.5" fill="url(#neuron)"/>
<circle cx="182.3" cy="92.2" r="2.6" fill="none" stroke="#ff90ff" stroke-width="1"/>
<g opacity="0.45" stroke="#e89090" stroke-width="1" fill="none"><path d="M239 38 C232 34,226 30,220 30 M239 38 C244 32,250 28,256 26 M239 38 C234 44,230 50,226 58 M239 38 C244 44,250 48,256 52 M239 38 L240 22 M226 58 C222 62,218 64,214 64"/></g>
<g opacity="0.35" stroke="#e8a0a0" stroke-width="1.4" fill="none" filter="url(#blur1)"><path d="M239 38 C232 44,226 52,222 66 C220 72,218 78,214 82 M239 38 C246 46,252 56,256 70 M239 38 C248 40,256 44,262 50 M226 58 C232 62,238 70,240 80 M250 60 C246 66,242 72,236 78 M222 30 C218 36,216 44,218 50"/></g>
<circle cx="239" cy="37.5" r="6" fill="#f8a8d0" opacity="0.7"/>
<circle cx="239" cy="37.5" r="2.5" fill="none" stroke="#f060e0" stroke-width="0.8" opacity="0.8"/>
<path d="M198.2 62.9 L202.6 65.2 L204 74.6 L198.2 71.6 Z" fill="#3a98c8" opacity="0.9"/>
<path d="M208.1 72.8 L211.9 75.1 L213.7 82.7 L208.1 80.7 Z" fill="#3a98c8" opacity="0.9"/>
<g fill="none" stroke="#3596c8" stroke-width="1.6"><path d="M203.8 74.6 L203.8 19.9"/><path d="M213.1 82.7 L213.1 31.6"/></g>
<g fill="none" stroke="#2ab8e8" stroke-width="1.1" stroke-linejoin="round"><path d="M213.5 79 L217 73 L219 66 L220.5 78 L222 70 L223.5 49 L225 84 L226.5 70 L229 64 L231 62 L233 58 L235 60 L236.5 56 L237.5 41 L238.5 72 L240 62 L243 56 L246 55 L248 52 L249.5 58 L251 40 L252 70 L253.5 31 L254.5 62 L256 50 L258 46 L260 44"/></g>
<path d="M186 90 C194 88,200 85,206 82 C212 78,216 74,221 71 C228 68,236 68,244 66" fill="none" stroke="#c0283a" stroke-width="1.6"/>
<path d="M221 71 C220 64,219 58,218 50" fill="none" stroke="#c0283a" stroke-width="1.1"/>
<clipPath id="gclip"><circle cx="59" cy="187.5" r="58"/></clipPath>
<g clip-path="url(#gclip)">
<rect x="0" y="128" width="120" height="120" fill="#12961a"/>
<g fill="#054808" opacity="0.7" filter="url(#blur2)"><ellipse cx="54.6" cy="172.7" rx="4.8" ry="7.3"/><ellipse cx="0.8" cy="187.8" rx="9.4" ry="3.4"/><ellipse cx="65.4" cy="201.1" rx="4.2" ry="4.9"/><ellipse cx="83.0" cy="181.9" rx="8.4" ry="3.8"/><ellipse cx="28.1" cy="142.0" rx="7.0" ry="7.6"/><ellipse cx="69.7" cy="219.6" rx="6.3" ry="6.7"/><ellipse cx="12.0" cy="163.1" rx="8.0" ry="6.6"/><ellipse cx="49.8" cy="139.3" rx="5.6" ry="4.0"/><ellipse cx="33.2" cy="223.7" rx="5.2" ry="7.4"/><ellipse cx="103.8" cy="135.4" rx="6.3" ry="5.5"/><ellipse cx="2.8" cy="178.7" rx="9.4" ry="3.6"/><ellipse cx="70.4" cy="143.2" rx="7.5" ry="7.5"/><ellipse cx="24.0" cy="130.0" rx="4.5" ry="5.7"/><ellipse cx="2.1" cy="138.9" rx="7.0" ry="7.6"/><ellipse cx="49.6" cy="175.6" rx="7.8" ry="3.5"/><ellipse cx="68.4" cy="149.2" rx="7.7" ry="7.8"/><ellipse cx="6.4" cy="193.9" rx="7.6" ry="3.7"/><ellipse cx="31.7" cy="245.4" rx="10.0" ry="3.6"/><ellipse cx="83.2" cy="240.3" rx="5.4" ry="6.1"/><ellipse cx="5.1" cy="171.8" rx="8.0" ry="6.0"/><ellipse cx="91.4" cy="139.1" rx="6.1" ry="7.3"/><ellipse cx="68.9" cy="181.8" rx="6.4" ry="7.9"/><ellipse cx="67.8" cy="131.1" rx="8.8" ry="4.6"/><ellipse cx="51.2" cy="154.0" rx="6.7" ry="4.6"/><ellipse cx="10.5" cy="202.7" rx="4.6" ry="6.9"/><ellipse cx="3.0" cy="220.3" rx="8.8" ry="5.5"/><ellipse cx="83.7" cy="158.0" rx="8.4" ry="5.1"/><ellipse cx="27.3" cy="241.8" rx="6.4" ry="4.9"/><ellipse cx="101.5" cy="172.2" rx="8.0" ry="3.9"/><ellipse cx="99.5" cy="159.3" rx="4.3" ry="7.9"/></g>
<g fill="none" stroke="#44f44c" stroke-width="0.9" opacity="0.9"><path d="M16.6 164.7C18.6 162.8 25.9 158.2 36.8 162.7"/><path d="M37.5 160.0C42.3 164.5 40.2 158.5 36.8 162.7"/><path d="M26.6 132.0C32.0 127.1 38.0 126.6 50.8 129.1"/><path d="M50.9 125.1C54.8 130.1 54.4 124.1 50.8 129.1"/><path d="M16.6 164.7C15.8 171.3 16.2 176.9 9.5 176.1"/><path d="M45.1 226.1C43.4 225.0 33.8 223.3 33.9 222.4"/><path d="M33.9 222.4C37.9 224.6 30.7 230.6 32.6 227.3"/><path d="M49.2 224.7C56.6 232.7 55.0 231.3 57.7 236.1"/><path d="M49.2 224.7C48.5 217.2 47.2 221.7 49.7 214.5"/><path d="M57.7 236.1C59.3 230.4 65.7 222.0 70.2 217.8"/><path d="M70.2 217.8C66.3 216.1 66.2 218.1 69.5 215.8"/><path d="M57.8 236.5C49.4 241.8 42.4 241.9 37.9 243.6"/><path d="M57.8 236.5C53.0 231.1 54.5 239.4 57.7 236.1"/><path d="M37.9 243.6C34.8 238.0 34.3 235.9 38.3 232.8"/><path d="M31.2 212.1C42.1 218.4 46.3 219.2 49.7 214.5"/><path d="M74.9 119.3C79.7 128.0 72.3 135.5 72.6 135.7"/><path d="M90.2 144.9C96.1 133.0 90.8 125.4 96.6 116.6"/><path d="M78.8 143.2C82.3 138.7 68.8 132.7 72.6 135.7"/><path d="M22.7 236.2C22.7 234.8 21.3 244.2 27.8 239.6"/><path d="M27.8 239.6C26.4 237.1 26.6 241.2 34.0 247.9"/><path d="M30.6 228.4C27.1 222.5 31.8 224.7 32.6 227.3"/><path d="M30.6 228.4C25.1 232.5 32.0 234.7 27.8 239.6"/><path d="M37.9 243.6C36.3 241.9 34.2 240.9 34.0 247.9"/><path d="M71.9 253.4C64.1 252.4 66.4 242.1 57.8 236.5"/><path d="M84.8 229.1C88.1 228.1 94.3 238.5 103.9 236.6"/><path d="M53.4 198.5C57.7 203.9 59.2 202.4 63.9 197.1"/><path d="M69.5 215.8C73.6 216.8 70.6 207.1 71.3 210.1"/><path d="M71.3 210.1C73.3 210.6 71.4 199.5 63.9 197.1"/><path d="M126.8 196.2C127.1 196.5 123.9 193.7 116.8 192.0"/><path d="M119.4 177.8C121.6 175.0 124.4 183.3 119.4 177.8"/><path d="M26.6 132.0C40.1 137.7 37.0 144.1 50.3 142.9"/><path d="M46.0 154.1C49.4 145.1 44.9 148.3 50.3 142.9"/><path d="M50.8 129.1C55.0 137.5 49.9 129.8 54.6 139.1"/><path d="M50.3 142.9C45.9 146.2 48.5 144.1 54.6 139.1"/><path d="M72.6 135.7C72.3 137.5 67.4 134.4 58.0 139.2"/><path d="M54.6 139.1C53.7 143.8 60.1 138.8 58.0 139.2"/><path d="M70.2 217.8C69.3 215.6 80.9 224.4 84.6 227.9"/><path d="M84.8 229.1C86.1 224.4 83.0 231.6 84.6 228.0"/><path d="M84.6 227.9C78.7 232.0 88.5 223.0 84.6 228.0"/><path d="M98.5 179.6C104.0 182.4 110.1 175.2 119.4 177.8"/><path d="M98.5 179.6C105.6 177.3 96.8 186.2 103.0 187.3"/><path d="M116.8 192.0C114.8 192.1 116.8 197.1 110.3 194.6"/><path d="M117.4 213.3C111.6 210.8 117.1 212.0 110.9 212.7"/><path d="M108.3 227.0C103.7 228.0 103.2 215.7 106.5 216.4"/><path d="M110.9 212.7C107.5 214.4 112.8 217.7 106.5 216.4"/><path d="M110.9 212.7C111.4 209.3 113.4 206.0 110.7 202.9"/><path d="M106.5 216.4C107.6 214.0 103.5 220.8 97.2 214.2"/><path d="M110.3 194.6C112.1 197.3 107.4 202.4 109.3 198.9"/><path d="M110.7 202.9C115.2 199.3 114.2 203.7 109.3 198.9"/><path d="M22.7 236.2C21.5 230.4 24.9 231.6 21.1 231.8"/><path d="M1.7 230.4C0.5 223.5 3.9 230.4 11.4 224.8"/><path d="M30.6 228.4C27.6 229.0 25.9 229.4 26.3 227.7"/><path d="M31.2 212.1C35.2 207.4 30.6 208.3 27.6 209.5"/><path d="M26.3 227.7C18.9 217.2 28.4 222.2 21.3 213.6"/><path d="M27.6 209.5C29.2 216.3 19.3 213.2 21.3 213.6"/><path d="M11.4 224.8C14.2 226.8 18.4 224.0 17.2 215.1"/><path d="M119.4 177.8C120.3 175.3 118.5 171.0 115.9 161.6"/><path d="M98.5 179.6C103.1 178.1 98.7 183.7 97.0 178.6"/><path d="M100.2 158.9C103.1 156.6 108.6 162.2 115.9 161.6"/><path d="M100.2 158.9C104.9 157.9 98.8 163.1 99.9 159.5"/><path d="M97.0 178.6C96.9 166.4 95.1 166.3 99.9 159.5"/><path d="M98.1 150.1C102.9 145.1 110.5 144.9 108.6 140.0"/><path d="M95.8 211.3C101.3 213.6 96.4 203.5 94.8 202.9"/><path d="M85.0 196.0C79.7 204.4 85.7 206.0 79.0 205.9"/><path d="M94.4 202.4C92.1 208.0 90.7 206.3 94.8 202.9"/><path d="M79.0 205.9C81.3 212.9 79.6 209.1 84.2 210.2"/><path d="M71.3 210.1C69.3 203.4 82.4 204.8 79.0 205.9"/><path d="M63.9 197.1C68.7 196.3 70.6 195.4 71.2 186.3"/><path d="M71.2 186.3C77.8 187.8 81.6 190.5 83.3 188.6"/><path d="M83.3 188.6C83.9 186.9 88.6 193.3 85.0 196.0"/><path d="M83.3 188.6C83.0 184.7 90.8 187.8 91.3 181.0"/><path d="M17.2 215.1C10.8 210.4 1.4 212.0 2.0 203.7"/><path d="M12.5 180.0C7.6 179.4 15.3 190.9 10.5 190.6"/><path d="M12.5 180.0C18.7 180.2 26.2 177.2 29.1 181.5"/><path d="M10.5 190.6C20.8 196.2 24.2 202.1 23.5 200.0"/><path d="M29.1 181.5C34.4 189.7 32.3 185.1 32.4 194.0"/><path d="M32.4 194.0C37.3 192.6 34.0 200.5 32.2 196.6"/><path d="M32.2 196.6C25.3 200.1 26.6 204.8 28.2 202.4"/><path d="M28.2 202.4C24.3 206.3 26.6 198.8 23.5 200.0"/><path d="M9.5 176.1C15.2 182.1 16.1 180.6 12.5 180.0"/><path d="M-1.4 201.7C3.8 198.3 12.4 192.5 10.5 190.6"/><path d="M38.1 169.5C35.1 174.1 33.3 174.5 29.1 181.5"/><path d="M2.0 203.7C4.0 205.8 21.2 203.6 23.5 200.0"/><path d="M45.5 187.2C48.9 182.7 38.5 182.2 44.0 173.5"/><path d="M45.5 187.2C42.6 183.7 39.5 186.2 32.4 194.0"/><path d="M43.2 172.7C39.2 171.3 48.5 176.2 44.0 173.5"/><path d="M51.7 200.3C42.8 197.7 40.0 192.3 32.2 196.6"/><path d="M27.6 209.5C33.5 210.2 32.3 202.3 28.2 202.4"/><path d="M45.5 187.2C50.6 190.7 48.0 185.4 50.5 190.4"/><path d="M55.6 179.1C59.1 180.2 55.2 185.5 50.5 190.4"/><path d="M53.4 198.5C57.3 195.5 54.4 193.9 52.8 196.0"/><path d="M52.8 196.0C46.4 191.3 48.7 197.3 50.5 190.4"/><path d="M67.0 179.9C60.1 185.6 59.0 174.8 61.1 179.6"/><path d="M61.1 179.6C65.5 181.4 64.2 179.2 58.8 179.1"/><path d="M60.0 166.3C58.9 171.9 54.9 162.7 58.4 165.5"/><path d="M60.0 166.3C57.8 175.5 62.5 174.2 67.4 177.0"/><path d="M67.4 177.0C72.3 172.2 71.6 173.9 67.4 178.1"/><path d="M56.9 167.1C51.7 169.8 54.0 162.5 58.4 165.5"/><path d="M91.3 181.0C85.8 183.4 85.7 172.5 81.0 170.7"/><path d="M81.0 170.7C72.5 169.8 77.4 181.1 67.4 178.1"/><path d="M52.8 196.0C61.3 185.2 63.2 187.5 61.1 179.6"/><path d="M55.6 179.1C60.8 174.3 54.1 174.7 58.8 179.1"/><path d="M43.2 172.7C48.3 171.3 50.7 171.9 56.9 167.1"/><path d="M46.0 154.1C51.9 149.7 47.4 153.0 54.4 157.5"/><path d="M58.0 139.2C60.6 140.3 63.0 146.9 63.3 153.6"/><path d="M63.3 153.6C62.8 160.2 53.7 154.4 54.4 157.5"/><path d="M58.4 165.5C54.6 158.5 54.1 166.7 57.5 161.4"/><path d="M54.4 157.5C60.7 158.8 51.0 157.8 57.5 161.4"/><path d="M68.6 159.9C68.0 154.3 68.5 156.9 70.6 156.0"/><path d="M68.6 159.9C67.9 156.6 62.8 165.4 68.3 163.1"/><path d="M73.7 154.2C71.7 150.2 69.2 156.1 70.6 156.0"/><path d="M73.7 154.2C75.8 163.1 78.6 156.7 80.5 163.7"/><path d="M80.5 163.7C81.5 165.5 82.8 159.3 79.9 165.7"/><path d="M79.9 165.7C80.1 162.4 67.7 164.1 69.9 169.0"/><path d="M69.9 169.0C68.6 164.8 70.4 161.1 68.3 163.1"/><path d="M63.3 153.6C67.8 154.9 73.7 160.4 70.6 156.0"/><path d="M57.5 161.4C59.2 161.3 65.5 158.8 68.6 159.9"/><path d="M60.0 166.3C59.1 164.9 61.0 168.7 68.3 163.1"/><path d="M78.8 143.2C83.0 142.6 78.0 151.7 73.7 154.2"/><path d="M81.0 170.7C85.1 164.0 85.6 170.8 79.9 165.7"/><path d="M67.4 177.0C68.8 171.4 63.7 171.3 69.9 169.0"/></g>
<g fill="none" stroke="#52ff5a" stroke-width="1.4" opacity="0.7"><path d="M71.0 221.2C76.5 216.2 70.5 216.5 65.4 224.1"/><path d="M65.4 224.1C67.6 220.0 56.1 224.5 48.1 225.7"/><path d="M48.1 225.7C44.1 223.5 45.6 224.7 36.4 234.0"/><path d="M19.7 227.2C12.2 223.5 18.6 233.6 20.3 227.2"/><path d="M36.4 234.0C24.8 227.9 33.5 222.5 20.3 227.2"/><path d="M103.8 191.4C107.0 189.7 111.5 186.0 119.2 178.6"/><path d="M103.8 191.4C102.0 195.8 96.7 181.5 91.2 185.2"/><path d="M91.2 185.2C102.0 174.4 93.6 171.1 102.2 153.3"/><path d="M119.2 178.6C118.6 176.1 107.3 159.1 106.5 152.7"/><path d="M106.5 152.7C99.2 157.2 97.2 156.2 102.2 153.3"/><path d="M71.0 221.2C78.3 218.5 71.4 200.0 71.5 196.7"/><path d="M71.5 196.7C78.5 193.0 77.8 195.5 91.2 185.2"/><path d="M57.2 180.9C60.4 175.8 53.0 171.9 57.1 179.1"/><path d="M57.2 180.9C49.7 180.9 47.6 188.8 45.8 184.7"/><path d="M57.1 179.1C43.3 171.9 34.6 170.7 31.4 162.6"/><path d="M45.8 184.7C34.9 185.3 30.4 169.6 27.5 173.7"/><path d="M31.4 162.6C27.6 161.0 27.8 165.7 27.5 173.7"/><path d="M94.0 149.1C95.9 149.2 100.9 148.6 102.2 153.3"/><path d="M28.3 155.4C22.7 151.5 30.7 158.0 31.4 162.6"/><path d="M28.3 155.4C32.6 157.3 44.4 145.5 40.8 151.1"/><path d="M57.1 179.1C52.4 172.8 60.3 174.0 60.2 165.7"/><path d="M60.2 165.7C61.2 152.9 52.7 151.3 40.8 151.1"/><path d="M71.5 196.7C59.3 198.9 66.1 194.0 57.2 180.9"/><path d="M94.0 149.1C80.6 158.0 76.6 145.2 69.2 153.3"/><path d="M60.2 165.7C63.1 161.1 60.7 151.4 69.2 153.3"/><path d="M69.2 153.3C66.3 143.9 64.0 150.1 62.9 143.1"/><path d="M11.0 177.2C6.0 180.8 -0.3 183.3 -2.7 192.9"/><path d="M11.0 177.2C14.8 170.2 24.0 179.0 25.2 174.9"/><path d="M25.2 174.9C19.9 179.0 28.8 181.0 32.3 193.9"/><path d="M-2.7 192.9C9.2 195.1 16.2 192.5 20.7 199.4"/><path d="M20.7 199.4C22.9 203.3 26.7 191.5 26.2 199.4"/><path d="M26.2 199.4C34.8 201.5 37.1 203.4 32.3 193.9"/><path d="M-7.6 193.9C-9.2 194.3 3.3 191.1 -2.7 192.9"/><path d="M10.6 139.3C18.7 143.4 17.7 154.2 18.2 150.7"/><path d="M18.2 150.7C12.5 165.0 8.5 166.3 11.0 177.2"/><path d="M18.2 150.7C27.1 149.2 21.6 155.6 28.3 155.4"/><path d="M27.5 173.7C29.7 181.1 29.6 179.6 25.2 174.9"/><path d="M45.8 184.7C39.1 186.6 36.6 191.3 32.3 193.9"/><path d="M20.3 227.2C16.7 211.0 24.3 205.0 20.7 199.4"/><path d="M48.1 225.7C34.7 222.2 29.9 204.9 26.2 199.4"/><path d="M43.3 144.6C45.8 139.2 54.4 139.6 50.7 139.2"/><path d="M62.9 143.1C66.3 146.5 58.7 136.5 50.7 139.2"/><path d="M40.8 151.1C43.2 154.2 40.4 151.2 43.3 144.6"/></g>
<g opacity="0.92"><circle cx="61.5" cy="222.8" r="4.5" fill="#f06a10"/><circle cx="61.5" cy="222.8" r="3.4" fill="none" stroke="#f0d020" stroke-width="0.8"/><circle cx="82.4" cy="192.1" r="2.7" fill="#f07a10"/><circle cx="82.4" cy="192.1" r="2.0" fill="none" stroke="#f0d020" stroke-width="0.8"/><circle cx="94.9" cy="178.3" r="4.2" fill="#f06a10"/><circle cx="80.0" cy="213.3" r="2.4" fill="#f07a10"/><circle cx="80.0" cy="213.3" r="1.8" fill="none" stroke="#f0d020" stroke-width="0.8"/><circle cx="92.2" cy="152.6" r="4.3" fill="#f08a18"/><circle cx="92.2" cy="152.6" r="3.2" fill="none" stroke="#f0d020" stroke-width="0.8"/><circle cx="16.1" cy="212.3" r="2.2" fill="#e89018"/><circle cx="16.1" cy="212.3" r="1.6" fill="none" stroke="#f0d020" stroke-width="0.8"/><circle cx="109.1" cy="184.5" r="4.6" fill="#f08a18"/><circle cx="48.6" cy="188.2" r="2.9" fill="#e89018"/><circle cx="48.6" cy="188.2" r="2.2" fill="none" stroke="#f0d020" stroke-width="0.8"/><circle cx="42.4" cy="240.3" r="3.0" fill="#f07a10"/><circle cx="29.2" cy="194.0" r="4.5" fill="#f06a10"/><circle cx="29.2" cy="194.0" r="3.4" fill="none" stroke="#f0d020" stroke-width="0.8"/><circle cx="9.3" cy="161.7" r="3.9" fill="#f08a18"/><circle cx="9.3" cy="161.7" r="3.0" fill="none" stroke="#f0d020" stroke-width="0.8"/><circle cx="37.1" cy="170.0" r="2.4" fill="#f07a10"/><circle cx="67.9" cy="161.3" r="2.0" fill="#f06a10"/><circle cx="67.9" cy="161.3" r="1.5" fill="none" stroke="#f0d020" stroke-width="0.8"/><circle cx="86.9" cy="184.5" r="2.1" fill="#f08a18"/><circle cx="86.9" cy="184.5" r="1.6" fill="none" stroke="#f0d020" stroke-width="0.8"/><circle cx="66.3" cy="208.9" r="3.0" fill="#e89018"/><circle cx="66.3" cy="208.9" r="2.3" fill="none" stroke="#f0d020" stroke-width="0.8"/><circle cx="79.1" cy="234.3" r="2.1" fill="#f06a10"/><circle cx="12.6" cy="218.7" r="4.2" fill="#e89018"/><circle cx="12.6" cy="218.7" r="3.1" fill="none" stroke="#f0d020" stroke-width="0.8"/><circle cx="63.8" cy="192.4" r="4.5" fill="#f08a18"/><circle cx="63.8" cy="192.4" r="3.4" fill="none" stroke="#f0d020" stroke-width="0.8"/><circle cx="32.2" cy="148.8" r="2.8" fill="#e89018"/><circle cx="32.2" cy="148.8" r="2.1" fill="none" stroke="#f0d020" stroke-width="0.8"/><circle cx="96.0" cy="155.6" r="3.1" fill="#e89018"/><circle cx="96.0" cy="155.6" r="2.3" fill="none" stroke="#f0d020" stroke-width="0.8"/><circle cx="54.4" cy="155.1" r="3.3" fill="#f08a18"/><circle cx="70.2" cy="240.6" r="3.5" fill="#e89018"/><circle cx="70.2" cy="240.6" r="2.6" fill="none" stroke="#f0d020" stroke-width="0.8"/><circle cx="28.3" cy="166.0" r="2.4" fill="#f08a18"/><circle cx="28.3" cy="166.0" r="1.8" fill="none" stroke="#f0d020" stroke-width="0.8"/><circle cx="42.5" cy="198.0" r="3.3" fill="#f07a10"/><circle cx="42.5" cy="198.0" r="2.5" fill="none" stroke="#f0d020" stroke-width="0.8"/><circle cx="67.6" cy="211.0" r="4.0" fill="#e89018"/><circle cx="67.6" cy="211.0" r="3.0" fill="none" stroke="#f0d020" stroke-width="0.8"/><circle cx="64.6" cy="182.1" r="2.8" fill="#f08a18"/><circle cx="96.2" cy="183.7" r="4.0" fill="#f08a18"/><circle cx="96.2" cy="183.7" r="3.0" fill="none" stroke="#f0d020" stroke-width="0.8"/><circle cx="13.2" cy="206.7" r="2.0" fill="#f07a10"/><circle cx="13.2" cy="206.7" r="1.5" fill="none" stroke="#f0d020" stroke-width="0.8"/><circle cx="105.3" cy="200.4" r="4.6" fill="#f07a10"/><circle cx="53.9" cy="224.4" r="4.4" fill="#f07a10"/><circle cx="92.5" cy="179.2" r="2.2" fill="#f07a10"/><circle cx="92.5" cy="179.2" r="1.6" fill="none" stroke="#f0d020" stroke-width="0.8"/><circle cx="63.4" cy="161.0" r="2.9" fill="#e89018"/><circle cx="63.4" cy="161.0" r="2.2" fill="none" stroke="#f0d020" stroke-width="0.8"/><circle cx="40.7" cy="217.1" r="4.2" fill="#f07a10"/></g>
<rect x="0" y="-3.2" width="90.8" height="6.4" fill="#a8dcc8" fill-opacity="0.7" stroke="#fff" stroke-width="0.9" stroke-dasharray="1.6,1" transform="translate(34.5,147.5) rotate(44.46)"/>
<rect x="0" y="-3.2" width="98.7" height="6.4" fill="#a8dcc8" fill-opacity="0.7" stroke="#fff" stroke-width="0.9" stroke-dasharray="1.6,1" transform="translate(19,158) rotate(43.89)"/>
<rect x="0" y="-3.2" width="90.0" height="6.4" fill="#a8dcc8" fill-opacity="0.7" stroke="#fff" stroke-width="0.9" stroke-dasharray="1.6,1" transform="translate(11.5,173.6) rotate(44.50)"/>
</g>
<circle cx="59" cy="187.5" r="58" fill="none" stroke="#fff" stroke-width="1" stroke-dasharray="2,1.5"/>
<text x="82.9" y="154.8" font-size="8" font-weight="bold" text-anchor="middle" fill="#f2f2f2" >Electrode</text>
<text x="82.9" y="164.0" font-size="8" font-weight="bold" text-anchor="middle" fill="#f2f2f2" >Lines</text>
<line x1="82.9" y1="168.1" x2="77.5" y2="176.5" stroke="#000" stroke-width="1"/><path d="M75.7 179.4 L75.9 174.6 L79.6 176.8 Z" fill="#000"/>
<text x="22.5" y="20.0" font-size="9" font-weight="bold" text-anchor="start" fill="#ee1c24" font-style="italic" >Simultaneous Photon Imaging &amp; Electrophysiology</text>
<text x="41.5" y="80.7" font-size="8.9" font-weight="bold" text-anchor="middle" fill="#000" >Multi Photon</text>
<text x="41.5" y="91.0" font-size="8.9" font-weight="bold" text-anchor="middle" fill="#000" >Imaging</text>
<text x="241.6" y="102.6" font-size="8.9" font-weight="bold" text-anchor="middle" fill="#3333a8" >Single Spike</text>
<text x="241.8" y="113.4" font-size="8.9" font-weight="bold" text-anchor="middle" fill="#3333a8" >Recording</text>
<text x="276.3" y="9.0" font-size="12.5" font-weight="bold" text-anchor="start" fill="#000" >b</text>
<rect x="478.6" y="18" width="201" height="21" fill="#ffff00"/>
<rect x="277.7" y="18" width="401.9" height="232.5" fill="none" stroke="#000" stroke-width="1.4"/>
<line x1="277.7" y1="39" x2="679.6" y2="39" stroke="#000" stroke-width="1.4"/>
<line x1="478.6" y1="18" x2="478.6" y2="39" stroke="#000" stroke-width="1.4"/>
<line x1="478.2" y1="40" x2="478.2" y2="250" stroke="#ff2020" stroke-width="1" stroke-dasharray="1,1"/>
<text x="287.4" y="31.9" font-size="8.95" font-weight="bold" text-anchor="start" fill="#000" font-style="italic" >Before PEDOT:PSS FPE post-treatment</text>
<text x="497.8" y="31.9" font-size="8.95" font-weight="bold" text-anchor="start" fill="#1010c0" font-style="italic" >After PEDOT:PSS FPE post-treatment</text>
<circle cx="289.6" cy="48.3" r="5" fill="url(#sph)"/>
<path d="M285 57.5 C281 61,281.5 67,286.5 71 L288.5 70 C285.5 66.5,285.5 62,288 59 Z" fill="#1bb0a6"/><path d="M285 57.5 C281 61,281.5 67,286.5 71" fill="none" stroke="#3ee8ec" stroke-width="1.3"/>
<path d="M294 57.5 C298 61,297.5 67,292.5 71 L290.5 70 C293.5 66.5,293.5 62,291 59 Z" fill="#1bb0a6"/><path d="M294 57.5 C298 61,297.5 67,292.5 71" fill="none" stroke="#3ee8ec" stroke-width="1.3"/>
<text x="303.7" y="52.1" font-size="8.6" font-weight="normal" text-anchor="start" fill="#000" >PEDOT</text>
<text x="303.7" y="67.0" font-size="8.6" font-weight="normal" text-anchor="start" fill="#000" >PSS</text>
<text x="406.7" y="57.4" font-size="9" font-weight="bold" text-anchor="middle" fill="#3a80a0">1. CH<tspan font-size="6" dy="2">3</tspan><tspan dy="-2">NO</tspan></text>
<text x="406.7" y="68.3" font-size="9" font-weight="bold" text-anchor="middle" fill="#3a80a0" >Treatment</text>
<text x="434.4" y="92.2" font-size="9" font-weight="bold" text-anchor="middle" fill="#e8822a" >3. EG</text>
<text x="434.4" y="102.4" font-size="9" font-weight="bold" text-anchor="middle" fill="#e8822a" >Treatment</text>
<text x="314.6" y="225.3" font-size="9" font-weight="bold" text-anchor="middle" fill="#a33a3a">2. H<tspan font-size="6" dy="2">3</tspan><tspan dy="-2">PO</tspan><tspan font-size="6" dy="2">4</tspan></text>
<text x="314.6" y="235.0" font-size="9" font-weight="bold" text-anchor="middle" fill="#a33a3a" >Treatment</text>
<text x="596.5" y="54.6" font-size="9" font-weight="bold" text-anchor="middle" fill="#3a7595" >1. Weaken</text>
<text x="596.5" y="65.2" font-size="9" font-weight="bold" text-anchor="middle" fill="#3a7595" >Ionic Bond</text>
<text x="642.1" y="90.2" font-size="9" font-weight="bold" text-anchor="middle" fill="#e8822a" >3. Re-aligned</text>
<text x="642.1" y="100.8" font-size="9" font-weight="bold" text-anchor="middle" fill="#e8822a" >Structure</text>
<text x="517.1" y="226.1" font-size="9" font-weight="bold" text-anchor="middle" fill="#a33a3a" >2. Removed</text>
<text x="517.1" y="236.8" font-size="9" font-weight="bold" text-anchor="middle" fill="#a33a3a" >PSS Shell</text>
<text x="642.0" y="226.1" font-size="9" font-weight="bold" text-anchor="middle" fill="#ee1111" >Maximize</text>
<text x="642.0" y="236.8" font-size="9" font-weight="bold" text-anchor="middle" fill="#ee1111" >conductivity</text>
<path d="M339.1 67.3 L341.1 65.3 L350.40000000000003 65.3 L350.40000000000003 74.8 L348.40000000000003 76.8 L339.1 76.8 Z" fill="#e8b890"/>
<rect x="339.1" y="67.3" width="9.3" height="9.5" fill="#f9cda8"/>
<path d="M339.1 67.3 L341.1 65.3 L350.40000000000003 65.3 L348.40000000000003 67.3 Z" fill="#fde0c4"/>
<path d="M357.5 57.8 L359.5 55.8 L368.8 55.8 L368.8 65.3 L366.8 67.3 L357.5 67.3 Z" fill="#e8b890"/>
<rect x="357.5" y="57.8" width="9.3" height="9.5" fill="#f9cda8"/>
<path d="M357.5 57.8 L359.5 55.8 L368.8 55.8 L366.8 57.8 Z" fill="#fde0c4"/>
<path d="M358.3 75.2 L360.3 73.2 L369.6 73.2 L369.6 82.7 L367.6 84.7 L358.3 84.7 Z" fill="#e8b890"/>
<rect x="358.3" y="75.2" width="9.3" height="9.5" fill="#f9cda8"/>
<path d="M358.3 75.2 L360.3 73.2 L369.6 73.2 L367.6 75.2 Z" fill="#fde0c4"/>
<circle cx="399.7" cy="114.9" r="4.8" fill="url(#redball)"/>
<circle cx="414.1" cy="118.4" r="4.8" fill="url(#redball)"/>
<circle cx="406.2" cy="131.9" r="4.8" fill="url(#redball)"/>
<path d="M351.6 89.6 C364 100,376 118,381.8 137.6 L373 143 C367 126,360 112,349.5 100 Z" fill="#1bb0a6"/><path d="M351.6 89.6 C364 100,376 118,381.8 137.6" fill="none" stroke="#3ee8ec" stroke-width="2.2" stroke-linecap="round"/>
<path d="M323.3 94.9 C309 100,300 112,299.5 131 C302 139,309 146,319 151 L322 140 C319 126,320 110,327 100 Z" fill="#1bb0a6"/><path d="M323.3 94.9 C309 100,300 112,299.5 131" fill="none" stroke="#3ee8ec" stroke-width="2.2" stroke-linecap="round"/>
<circle cx="342.6" cy="129.7" r="24.6" fill="url(#sph)" fill-opacity="0.95" stroke="#5a5ae4" stroke-width="1"/><clipPath id="sc1"><circle cx="342.6" cy="129.7" r="23.6"/></clipPath><g clip-path="url(#sc1)" filter="url(#blur1)" opacity="0.35"><ellipse cx="333.99" cy="135.85" rx="8.61" ry="6.888000000000001" fill="#b4a8b0"/><ellipse cx="349.98" cy="127.24" rx="5.412" ry="7.38" fill="#b0a8b8"/><ellipse cx="341.37" cy="144.45999999999998" rx="7.38" ry="4.428" fill="#b4aab4"/><circle cx="345.06" cy="121.08999999999999" r="3.69" fill="#c8d0ff"/></g>
<path d="M318.6 136 A24.6 24.6 0 0 1 334 106.6 L338.5 116.6 C330 121,324 128,321.3 138 Z" fill="#0c2cb8" opacity="0.92"/>
<path d="M334 106.6 A24.6 24.6 0 0 1 337 105.8 L339 113 C336 116,333 118,331 120 Z" fill="#1848e0" opacity="0.9"/>
<path d="M308.7 147.5 C325 157,345 157,363 146 L367 162.9 C352 172,335 174,327.2 172.1 C318 168,312 160,308.7 147.5 Z" fill="#1bb0a6"/><path d="M308.7 147.5 C325 157,345 157,363 146" fill="none" stroke="#3ee8ec" stroke-width="2.2" stroke-linecap="round"/>
<path d="M419.2 128 C430 133,438 139,441.1 146.3 C444 160,446 172,446.2 182.8 L440 178 C438 165,436 156,433 150 C429 144,424 140,419 137.5 Z" fill="#1bb0a6"/><path d="M419.2 128 C430 133,438 139,441.1 146.3 C444 160,446 172,446.2 182.8" fill="none" stroke="#3ee8ec" stroke-width="2.2" stroke-linecap="round"/>
<path d="M388.6 132.2 C378 140,371 150,370.2 160 C370 172,372 182,377.8 190.5 L386 188 C382 174,383 160,396.3 147.5 Z" fill="#1bb0a6"/><path d="M388.6 132.2 C378 140,371 150,370.2 160 C370 172,372 182,377.8 190.5" fill="none" stroke="#3ee8ec" stroke-width="2.2" stroke-linecap="round"/>
<circle cx="408.8" cy="171.3" r="25.8" fill="url(#sph)" fill-opacity="0.95" stroke="#5a5ae4" stroke-width="1"/><clipPath id="sc2"><circle cx="408.8" cy="171.3" r="24.8"/></clipPath><g clip-path="url(#sc2)" filter="url(#blur1)" opacity="0.35"><ellipse cx="399.77000000000004" cy="177.75" rx="9.03" ry="7.224000000000001" fill="#b4a8b0"/><ellipse cx="416.54" cy="168.72" rx="5.676" ry="7.74" fill="#b0a8b8"/><ellipse cx="407.51" cy="186.78" rx="7.74" ry="4.644" fill="#b4aab4"/><circle cx="411.38" cy="162.27" r="3.87" fill="#c8d0ff"/></g>
<path d="M384.2 160.5 A26.4 26.4 0 0 1 394 148.3 L399.5 154 C393 157,389 162,387 168 Z" fill="#0c2cb8" opacity="0.92"/>
<path d="M380.9 193.6 C398 203,420 201,434.7 190.5 L437.8 202.8 C425 212,410 216,400.9 215.1 C392 212,385 208,382.5 204.4 Z" fill="#1bb0a6"/><path d="M380.9 193.6 C398 203,420 201,434.7 190.5" fill="none" stroke="#3ee8ec" stroke-width="2.2" stroke-linecap="round"/>
<circle cx="335.5" cy="195.2" r="7" fill="url(#grayball)"/>
<text x="335.2" y="198.6" font-size="9" font-weight="bold" text-anchor="middle" fill="#111">H<tspan font-size="6" dy="-3.5">+</tspan></text>
<path d="M341 81.5 C332 85,325.5 92,324.5 101.5 L318.7 101.5 L322.6 115.3 L333.8 105.5 L329.5 104 C330 96,336 89,345 84.5 Z" fill="#ee1111"/>
<path d="M400.9 122.3 C394 121.5,390 123.5,388 127 L386 125.5 L385.5 130.5 L391 129.5 L389.5 128 C392 125,396 123.5,400.9 122.3 Z" fill="#ee1111"/>
<path d="M342.5 188.3 C350 188,355 186,359 182.5 L356.5 180.5 L365.5 179.8 L362 188.5 L360.5 186.5 C355 191.5,349 193,342.5 191 Z" fill="#ee1111"/>
<path d="M342.5 192.8 C350 197,362 198,368 193 C372 190,374 187,375.8 184.9" fill="none" stroke="#ee1111" stroke-width="1.8"/>
<rect x="314.9" y="119.4" width="2.3" height="2.3" fill="#f5b400"/>
<rect x="319.9" y="121.4" width="2.3" height="2.3" fill="#f5b400"/>
<rect x="359.9" y="113.4" width="2.3" height="2.3" fill="#f5b400"/>
<rect x="364.9" y="110.4" width="2.3" height="2.3" fill="#f5b400"/>
<rect x="338.9" y="142.9" width="2.3" height="2.3" fill="#f5b400"/>
<rect x="338.9" y="147.9" width="2.3" height="2.3" fill="#f5b400"/>
<rect x="378.9" y="160.9" width="2.3" height="2.3" fill="#f5b400"/>
<rect x="383.9" y="163.9" width="2.3" height="2.3" fill="#f5b400"/>
<rect x="387.9" y="165.9" width="2.3" height="2.3" fill="#f5b400"/>
<rect x="428.9" y="154.4" width="2.3" height="2.3" fill="#f5b400"/>
<rect x="433.9" y="150.9" width="2.3" height="2.3" fill="#f5b400"/>
<rect x="403.4" y="191.4" width="2.3" height="2.3" fill="#f5b400"/>
<rect x="403.4" y="196.4" width="2.3" height="2.3" fill="#f5b400"/>
<path d="M470.5 137.5 L482 137.5 L482 132.5 L496 141.6 L482 150.7 L482 145.7 L470.5 145.7 Z" fill="#0a1ae8"/>
<path d="M530.4 72.3 C520 74,512 77,507.5 82.8 C502 95,498 110,497.9 124.9 C500 116,503 110,505.8 107.4 C510 104,516 101,527.7 96.8 Z" fill="#1bb0a6"/><path d="M530.4 72.3 C520 74,512 77,507.5 82.8 C502 95,498 110,497.9 124.9" fill="none" stroke="#3ee8ec" stroke-width="2.2" stroke-linecap="round"/>
<path d="M575.8 70.7 L603.4 93.8 C605 98,605.5 102,605 106 L594.2 127.6 C590 112,582 104,568.1 99.9 Z" fill="#1bb0a6"/><path d="M575.8 70.7 L603.4 93.8 C605 98,605.5 102,605 106" fill="none" stroke="#3ee8ec" stroke-width="2.2" stroke-linecap="round"/>
<path d="M506.7 127.5 C509 138,515 146,525 151 C533 154,540 155,547.9 155.6 L540.9 176.7 C530 174,518 170,509.3 163.5 C505 156,503 148,503.2 140 Z" fill="#1bb0a6"/><path d="M506.7 127.5 C509 138,515 146,525 151 C533 154,540 155,547.9 155.6" fill="none" stroke="#3ee8ec" stroke-width="2.2" stroke-linecap="round"/>
<path d="M623.4 106 L660.3 121.4 C663 127,665 132,666.4 138.3 L644.9 158.3 C638 145,628 136,611.1 130.6 Z" fill="#1bb0a6"/><path d="M623.4 106 L660.3 121.4 C663 127,665 132,666.4 138.3" fill="none" stroke="#3ee8ec" stroke-width="2.2" stroke-linecap="round"/>
<path d="M568.1 162.9 C575 172,583 179,592.7 184.4 C600 189,607 191.5,614.2 193.6 L606.5 212 C598 210,590 207,580.4 202.8 C573 196,566 190,562 182.9 Z" fill="#1bb0a6"/><path d="M568.1 162.9 C575 172,583 179,592.7 184.4 C600 189,607 191.5,614.2 193.6" fill="none" stroke="#3ee8ec" stroke-width="2.2" stroke-linecap="round"/>
<path d="M529.7 95.3 C531 108,538 122,552 130 C562 135,572 136,582 139 C596 143,608 150,620 160 C630 168,638 178,645 190" fill="none" stroke="#eedc22" stroke-width="3.6"/>
<path d="M529.7 95.3 C531 108,538 122,552 130 C562 135,572 136,582 139 C596 143,608 150,620 160 C630 168,638 178,645 190" fill="none" stroke="#c8b020" stroke-width="1.2" opacity="0.5"/>
<circle cx="549" cy="123.6" r="24.9" fill="url(#sph)" fill-opacity="0.8" stroke="#5a5ae4" stroke-width="1"/><clipPath id="sc3"><circle cx="549" cy="123.6" r="23.9"/></clipPath><g clip-path="url(#sc3)" filter="url(#blur1)" opacity="0.35"><ellipse cx="540.285" cy="129.825" rx="8.714999999999998" ry="6.972" fill="#b4a8b0"/><ellipse cx="556.47" cy="121.11" rx="5.478" ry="7.469999999999999" fill="#b0a8b8"/><ellipse cx="547.755" cy="138.54" rx="7.469999999999999" ry="4.481999999999999" fill="#b4aab4"/><circle cx="551.49" cy="114.88499999999999" r="3.7349999999999994" fill="#c8d0ff"/></g>
<circle cx="616.3" cy="160.4" r="27.6" fill="url(#sph)" fill-opacity="0.8" stroke="#5a5ae4" stroke-width="1"/><clipPath id="sc4"><circle cx="616.3" cy="160.4" r="26.6"/></clipPath><g clip-path="url(#sc4)" filter="url(#blur1)" opacity="0.35"><ellipse cx="606.64" cy="167.3" rx="9.66" ry="7.7280000000000015" fill="#b4a8b0"/><ellipse cx="624.5799999999999" cy="157.64000000000001" rx="6.072" ry="8.28" fill="#b0a8b8"/><ellipse cx="614.92" cy="176.96" rx="8.28" ry="4.968" fill="#b4aab4"/><circle cx="619.06" cy="150.74" r="4.14" fill="#c8d0ff"/></g>
<g clip-path="url(#sc3)"><path d="M529.7 95.3 C531 108,538 122,552 130 C562 135,572 136,582 139 C596 143,608 150,620 160 C630 168,638 178,645 190" fill="none" stroke="#9078a0" stroke-width="3.4" opacity="0.6"/></g>
<g clip-path="url(#sc4)"><path d="M529.7 95.3 C531 108,538 122,552 130 C562 135,572 136,582 139 C596 143,608 150,620 160 C630 168,638 178,645 190" fill="none" stroke="#9078a0" stroke-width="3.4" opacity="0.6"/></g>
<path d="M640 190.5 L650 186 L656.6 208.4 Z" fill="#eedc22"/>
<path d="M509.4 101.3 L531.2 118" stroke="#f5a800" stroke-width="2.3" stroke-dasharray="2.2,2.2"/>
<path d="M564.8 114.7 L587.5 95.4" stroke="#f5a800" stroke-width="2.3" stroke-dasharray="2.2,2.2"/>
<path d="M528 141 L516 150" stroke="#f5a800" stroke-width="2.3" stroke-dasharray="2.2,2.2"/>
<path d="M629 148 L646 130" stroke="#f5a800" stroke-width="2.3" stroke-dasharray="2.2,2.2"/>
<path d="M590 184 L606 171" stroke="#f5a800" stroke-width="2.3" stroke-dasharray="2.2,2.2"/>
<path d="M566.6 71.5 C556 71,548 75,544.5 80.5 L541 78.5 L540.2 88.5 L549.5 85 L547 83.5 C551 79,558 76,567 74.5 Z" fill="#ee1111"/>
<path d="M529.6 203.2 C536 202,541 198,545 193 L543 191.5 L550 189.5 L548.5 196.5 L546.5 195 C542 200,536 204,529.6 203.2 Z" fill="#ee1111"/>
<path d="M2.2 255.8 L2.2 270.3 L127 270.3" fill="none" stroke="#ff1010" stroke-width="1.9"/>
<path d="M557 271.3 L682.4 271.3 L682.4 256.6" fill="none" stroke="#ff1010" stroke-width="1.9"/>
<text x="169.9" y="274.2" font-size="9.03" font-weight="bold" text-anchor="start" fill="#1a1aee" font-style="italic" >Metal-line free, ultra-low noise transparent FPE-PEDOT Neural Electrode Array</text>
<text x="4.8" y="292.8" font-size="12.5" font-weight="bold" text-anchor="start" fill="#000" >c</text>
<clipPath id="cclip"><rect x="15.5" y="296.5" width="203" height="168.5"/></clipPath>
<g clip-path="url(#cclip)">
<rect x="15.5" y="296.5" width="203" height="168.5" fill="#c9e0f2"/>
<g filter="url(#blur3)">
<path d="M84 290 L225 290 L225 372 Z" fill="#e4f4fc"/>
<path d="M84 300 L225 380 L225 420 L180 470 L120 470 L5 400 L5 330 Z" fill="#cde4f5" opacity="0.85"/>
<path d="M84 295 L212 360 L209 367 L78 302 Z" fill="#6f8daa" opacity="0.9"/>
<path d="M5 372 Q70 410 120 436 T 180 470" fill="none" stroke="#a6c0d6" stroke-width="14" opacity="0.9"/>
<path d="M5 290 L80 290 L60 310 L5 330 Z" fill="#c4ddf1" opacity="0.8"/>
</g>
<path d="M5 376 Q70 416 120 441.5 T 176 472" fill="none" stroke="#84a0ba" stroke-width="4" filter="url(#blur1)"/>
<path d="M5 380 Q70 419 120 444 T 172 474 L5 474 Z" fill="#d9edf9" filter="url(#blur05)"/>
<path d="M175 467 C178 455,184 443,192 433 C200 423,210 410,220 399 L222 467 Z" fill="#040506"/>
<path d="M175 467 C178 455,184 443,192 433 C200 423,210 410,220 399" fill="none" stroke="#6a7a88" stroke-width="1.2" opacity="0.7" filter="url(#blur1)"/>
<path d="M150 372 L222 396" stroke="#e6f4fc" stroke-width="1.2" opacity="0.7" filter="url(#blur05)"/>
<g filter="url(#blur1)">
<path d="M100 309 C108 318,116 328,124 336 L128 338 C140 340,160 345,205 358 L206 362 C170 356,146 350,136 349 C128 352,122 362,116 374 C110 388,104 400,100 411 L88 405 C94 392,100 378,106 366 C112 354,118 346,122 340 C114 332,106 322,98 312 Z" fill="#9bb8d0" opacity="0.85"/>
<path d="M104 404 C108 392,114 378,120 366 C124 358,128 352,134 348" fill="none" stroke="#d8eaf6" stroke-width="1.2" opacity="0.8"/>
<path d="M100 309 C108 318,116 328,124 336" fill="none" stroke="#5f7c98" stroke-width="2" opacity="0.7"/>
<path d="M128 338 C140 340,160 345,205 358" fill="none" stroke="#6f8ca8" stroke-width="1.5" opacity="0.8"/>
</g>
</g>
<rect x="15.5" y="296.5" width="203" height="168.5" fill="none" stroke="#000" stroke-width="1.4"/>
<line x1="189.2" y1="458" x2="211.5" y2="458" stroke="#fff" stroke-width="2"/>
<path d="M98.4 384.7 L111.8 389.8 L101.4 412.7 L88 406.8 Z" fill="none" stroke="#ee2020" stroke-width="1" stroke-dasharray="2,1.5"/>
<text x="23.4" y="313.0" font-size="8.9" font-weight="bold" text-anchor="start" fill="#000" >PET substrate</text>
<text x="23.4" y="363.6" font-size="8.9" font-weight="bold" text-anchor="start" fill="#000" >Transparent</text>
<text x="23.4" y="374.4" font-size="8.9" font-weight="bold" text-anchor="start" fill="#000" >interconnect</text>
<text x="53.3" y="447.6" font-size="8.9" font-weight="bold" text-anchor="middle" fill="#000" >Plastic rod</text>
<text x="53.3" y="458.1" font-size="8.9" font-weight="bold" text-anchor="middle" fill="#000" >(radius = 15mm)</text>
<text x="151.2" y="399.2" font-size="9" font-weight="bold" text-anchor="middle" fill="#ee2020" >Electrode</text>
<text x="151.2" y="410.2" font-size="9" font-weight="bold" text-anchor="middle" fill="#ee2020" >array</text>
<line x1="84.8" y1="318" x2="110.2" y2="334.7" stroke="#000" stroke-width="1.1"/><path d="M114 337.2 L109.1 336.4 L111.4 333.0 Z" fill="#000"/>
<line x1="82.5" y1="366.4" x2="99.5" y2="366.4" stroke="#000" stroke-width="1.1"/><path d="M104 366.4 L99.5 368.4 L99.5 364.4 Z" fill="#000"/>
<line x1="61.4" y1="435.7" x2="71.7" y2="425.4" stroke="#000" stroke-width="1.1"/><path d="M74.9 422.2 L73.1 426.8 L70.3 424.0 Z" fill="#000"/>
<line x1="111.4" y1="389.3" x2="244" y2="298.5" stroke="#000" stroke-width="0.9" stroke-dasharray="2.5,1.5"/>
<line x1="101.8" y1="412.3" x2="244" y2="465.5" stroke="#000" stroke-width="0.9" stroke-dasharray="2.5,1.5"/>
<text x="234.5" y="293.5" font-size="12.5" font-weight="bold" text-anchor="start" fill="#000" >d</text>
<clipPath id="dclip"><rect x="244.3" y="298.7" width="210.7" height="166.60000000000002"/></clipPath>
<g clip-path="url(#dclip)">
<rect x="244.3" y="298.7" width="210.7" height="166.60000000000002" fill="#c6d3d9"/>
<rect x="255.9" y="303.0" width="71.49999999999997" height="1.5" fill="#dccad2"/>
<rect x="254.4" y="305.09999999999997" width="73.49999999999997" height="4.2" fill="#98c8cb"/>
<rect x="323.29999999999995" y="305.09999999999997" width="4.2" height="163.10000000000002" fill="#98c8cb"/>
<rect x="321.7" y="309.2" width="1.3" height="163.10000000000002" fill="#dccad2" opacity="0.7"/>
<rect x="255.9" y="318.9" width="64.49999999999997" height="1.5" fill="#dccad2"/>
<rect x="254.4" y="320.99999999999994" width="66.49999999999997" height="4.2" fill="#98c8cb"/>
<rect x="316.29999999999995" y="320.99999999999994" width="4.2" height="147.20000000000005" fill="#98c8cb"/>
<rect x="314.7" y="325.09999999999997" width="1.3" height="147.20000000000005" fill="#dccad2" opacity="0.7"/>
<rect x="255.9" y="334.8" width="57.49999999999997" height="1.5" fill="#dccad2"/>
<rect x="254.4" y="336.9" width="59.49999999999997" height="4.2" fill="#98c8cb"/>
<rect x="309.29999999999995" y="336.9" width="4.2" height="131.3" fill="#98c8cb"/>
<rect x="307.7" y="341.0" width="1.3" height="131.3" fill="#dccad2" opacity="0.7"/>
<rect x="255.9" y="350.7" width="50.49999999999997" height="1.5" fill="#dccad2"/>
<rect x="254.4" y="352.79999999999995" width="52.49999999999997" height="4.2" fill="#98c8cb"/>
<rect x="302.29999999999995" y="352.79999999999995" width="4.2" height="115.40000000000003" fill="#98c8cb"/>
<rect x="300.7" y="356.9" width="1.3" height="115.40000000000003" fill="#dccad2" opacity="0.7"/>
<rect x="255.9" y="366.6" width="43.49999999999997" height="1.5" fill="#dccad2"/>
<rect x="254.4" y="368.7" width="45.49999999999997" height="4.2" fill="#98c8cb"/>
<rect x="295.29999999999995" y="368.7" width="4.2" height="99.5" fill="#98c8cb"/>
<rect x="293.7" y="372.8" width="1.3" height="99.5" fill="#dccad2" opacity="0.7"/>
<rect x="255.9" y="382.5" width="36.49999999999997" height="1.5" fill="#dccad2"/>
<rect x="254.4" y="384.59999999999997" width="38.49999999999997" height="4.2" fill="#98c8cb"/>
<rect x="288.29999999999995" y="384.59999999999997" width="4.2" height="83.60000000000002" fill="#98c8cb"/>
<rect x="286.7" y="388.7" width="1.3" height="83.60000000000002" fill="#dccad2" opacity="0.7"/>
<rect x="255.9" y="398.40000000000003" width="29.49999999999997" height="1.5" fill="#dccad2"/>
<rect x="254.4" y="400.5" width="31.49999999999997" height="4.2" fill="#98c8cb"/>
<rect x="281.29999999999995" y="400.5" width="4.2" height="67.69999999999999" fill="#98c8cb"/>
<rect x="279.7" y="404.6" width="1.3" height="67.69999999999999" fill="#dccad2" opacity="0.7"/>
<rect x="255.9" y="414.3" width="22.49999999999997" height="1.5" fill="#dccad2"/>
<rect x="254.4" y="416.4" width="24.49999999999997" height="4.2" fill="#98c8cb"/>
<rect x="274.29999999999995" y="416.4" width="4.2" height="51.80000000000001" fill="#98c8cb"/>
<rect x="272.7" y="420.5" width="1.3" height="51.80000000000001" fill="#dccad2" opacity="0.7"/>
<rect x="255.9" y="430.2" width="15.499999999999972" height="1.5" fill="#dccad2"/>
<rect x="254.4" y="432.29999999999995" width="17.49999999999997" height="4.2" fill="#98c8cb"/>
<rect x="267.29999999999995" y="432.29999999999995" width="4.2" height="35.900000000000034" fill="#98c8cb"/>
<rect x="265.7" y="436.4" width="1.3" height="35.900000000000034" fill="#dccad2" opacity="0.7"/>
<rect x="255.9" y="446.09999999999997" width="8.499999999999972" height="1.5" fill="#dccad2"/>
<rect x="254.4" y="448.19999999999993" width="10.499999999999972" height="4.2" fill="#98c8cb"/>
<rect x="260.29999999999995" y="448.19999999999993" width="4.2" height="20.000000000000057" fill="#98c8cb"/>
<rect x="258.7" y="452.29999999999995" width="1.3" height="20.000000000000057" fill="#dccad2" opacity="0.7"/>
<rect x="250.3" y="305.59999999999997" width="3.2" height="3.2" fill="#e8eeee" stroke="#222" stroke-width="0.9"/>
<rect x="250.3" y="321.49999999999994" width="3.2" height="3.2" fill="#e8eeee" stroke="#222" stroke-width="0.9"/>
<rect x="250.3" y="337.4" width="3.2" height="3.2" fill="#e8eeee" stroke="#222" stroke-width="0.9"/>
<rect x="250.3" y="353.29999999999995" width="3.2" height="3.2" fill="#e8eeee" stroke="#222" stroke-width="0.9"/>
<rect x="250.3" y="369.2" width="3.2" height="3.2" fill="#e8eeee" stroke="#222" stroke-width="0.9"/>
<rect x="250.3" y="385.09999999999997" width="3.2" height="3.2" fill="#e8eeee" stroke="#222" stroke-width="0.9"/>
<rect x="250.3" y="401.0" width="3.2" height="3.2" fill="#e8eeee" stroke="#222" stroke-width="0.9"/>
<rect x="250.3" y="416.9" width="3.2" height="3.2" fill="#e8eeee" stroke="#222" stroke-width="0.9"/>
<rect x="250.3" y="432.79999999999995" width="3.2" height="3.2" fill="#e8eeee" stroke="#222" stroke-width="0.9"/>
<rect x="250.3" y="448.69999999999993" width="3.2" height="3.2" fill="#e8eeee" stroke="#222" stroke-width="0.9"/>
<rect x="338.2" y="303.0" width="71.5" height="1.5" fill="#dccad2"/>
<rect x="336.7" y="305.09999999999997" width="73.5" height="4.2" fill="#98c8cb"/>
<rect x="405.59999999999997" y="305.09999999999997" width="4.2" height="163.10000000000002" fill="#98c8cb"/>
<rect x="404.0" y="309.2" width="1.3" height="163.10000000000002" fill="#dccad2" opacity="0.7"/>
<rect x="338.2" y="318.9" width="64.5" height="1.5" fill="#dccad2"/>
<rect x="336.7" y="320.99999999999994" width="66.5" height="4.2" fill="#98c8cb"/>
<rect x="398.59999999999997" y="320.99999999999994" width="4.2" height="147.20000000000005" fill="#98c8cb"/>
<rect x="397.0" y="325.09999999999997" width="1.3" height="147.20000000000005" fill="#dccad2" opacity="0.7"/>
<rect x="338.2" y="334.8" width="57.5" height="1.5" fill="#dccad2"/>
<rect x="336.7" y="336.9" width="59.5" height="4.2" fill="#98c8cb"/>
<rect x="391.59999999999997" y="336.9" width="4.2" height="131.3" fill="#98c8cb"/>
<rect x="390.0" y="341.0" width="1.3" height="131.3" fill="#dccad2" opacity="0.7"/>
<rect x="338.2" y="350.7" width="50.5" height="1.5" fill="#dccad2"/>
<rect x="336.7" y="352.79999999999995" width="52.5" height="4.2" fill="#98c8cb"/>
<rect x="384.59999999999997" y="352.79999999999995" width="4.2" height="115.40000000000003" fill="#98c8cb"/>
<rect x="383.0" y="356.9" width="1.3" height="115.40000000000003" fill="#dccad2" opacity="0.7"/>
<rect x="338.2" y="366.6" width="43.5" height="1.5" fill="#dccad2"/>
<rect x="336.7" y="368.7" width="45.5" height="4.2" fill="#98c8cb"/>
<rect x="377.59999999999997" y="368.7" width="4.2" height="99.5" fill="#98c8cb"/>
<rect x="376.0" y="372.8" width="1.3" height="99.5" fill="#dccad2" opacity="0.7"/>
<rect x="338.2" y="382.5" width="36.5" height="1.5" fill="#dccad2"/>
<rect x="336.7" y="384.59999999999997" width="38.5" height="4.2" fill="#98c8cb"/>
<rect x="370.59999999999997" y="384.59999999999997" width="4.2" height="83.60000000000002" fill="#98c8cb"/>
<rect x="369.0" y="388.7" width="1.3" height="83.60000000000002" fill="#dccad2" opacity="0.7"/>
<rect x="338.2" y="398.40000000000003" width="29.5" height="1.5" fill="#dccad2"/>
<rect x="336.7" y="400.5" width="31.5" height="4.2" fill="#98c8cb"/>
<rect x="363.59999999999997" y="400.5" width="4.2" height="67.69999999999999" fill="#98c8cb"/>
<rect x="362.0" y="404.6" width="1.3" height="67.69999999999999" fill="#dccad2" opacity="0.7"/>
<rect x="338.2" y="414.3" width="22.5" height="1.5" fill="#dccad2"/>
<rect x="336.7" y="416.4" width="24.5" height="4.2" fill="#98c8cb"/>
<rect x="356.59999999999997" y="416.4" width="4.2" height="51.80000000000001" fill="#98c8cb"/>
<rect x="355.0" y="420.5" width="1.3" height="51.80000000000001" fill="#dccad2" opacity="0.7"/>
<rect x="338.2" y="430.2" width="15.5" height="1.5" fill="#dccad2"/>
<rect x="336.7" y="432.29999999999995" width="17.5" height="4.2" fill="#98c8cb"/>
<rect x="349.59999999999997" y="432.29999999999995" width="4.2" height="35.900000000000034" fill="#98c8cb"/>
<rect x="348.0" y="436.4" width="1.3" height="35.900000000000034" fill="#dccad2" opacity="0.7"/>
<rect x="338.2" y="446.09999999999997" width="8.5" height="1.5" fill="#dccad2"/>
<rect x="336.7" y="448.19999999999993" width="10.5" height="4.2" fill="#98c8cb"/>
<rect x="342.59999999999997" y="448.19999999999993" width="4.2" height="20.000000000000057" fill="#98c8cb"/>
<rect x="341.0" y="452.29999999999995" width="1.3" height="20.000000000000057" fill="#dccad2" opacity="0.7"/>
<rect x="332.59999999999997" y="305.59999999999997" width="3.2" height="3.2" fill="#e8eeee" stroke="#222" stroke-width="0.9"/>
<rect x="332.59999999999997" y="321.49999999999994" width="3.2" height="3.2" fill="#e8eeee" stroke="#222" stroke-width="0.9"/>
<rect x="332.59999999999997" y="337.4" width="3.2" height="3.2" fill="#e8eeee" stroke="#222" stroke-width="0.9"/>
<rect x="332.59999999999997" y="353.29999999999995" width="3.2" height="3.2" fill="#e8eeee" stroke="#222" stroke-width="0.9"/>
<rect x="332.59999999999997" y="369.2" width="3.2" height="3.2" fill="#e8eeee" stroke="#222" stroke-width="0.9"/>
<rect x="332.59999999999997" y="385.09999999999997" width="3.2" height="3.2" fill="#e8eeee" stroke="#222" stroke-width="0.9"/>
<rect x="332.59999999999997" y="401.0" width="3.2" height="3.2" fill="#e8eeee" stroke="#222" stroke-width="0.9"/>
<rect x="332.59999999999997" y="416.9" width="3.2" height="3.2" fill="#e8eeee" stroke="#222" stroke-width="0.9"/>
<rect x="332.59999999999997" y="432.79999999999995" width="3.2" height="3.2" fill="#e8eeee" stroke="#222" stroke-width="0.9"/>
<rect x="332.59999999999997" y="448.69999999999993" width="3.2" height="3.2" fill="#e8eeee" stroke="#222" stroke-width="0.9"/>
<rect x="419.8" y="303.0" width="71.5" height="1.5" fill="#dccad2"/>
<rect x="418.3" y="305.09999999999997" width="73.5" height="4.2" fill="#98c8cb"/>
<rect x="487.2" y="305.09999999999997" width="4.2" height="163.10000000000002" fill="#98c8cb"/>
<rect x="485.6" y="309.2" width="1.3" height="163.10000000000002" fill="#dccad2" opacity="0.7"/>
<rect x="419.8" y="318.9" width="64.5" height="1.5" fill="#dccad2"/>
<rect x="418.3" y="320.99999999999994" width="66.5" height="4.2" fill="#98c8cb"/>
<rect x="480.2" y="320.99999999999994" width="4.2" height="147.20000000000005" fill="#98c8cb"/>
<rect x="478.6" y="325.09999999999997" width="1.3" height="147.20000000000005" fill="#dccad2" opacity="0.7"/>
<rect x="419.8" y="334.8" width="57.5" height="1.5" fill="#dccad2"/>
<rect x="418.3" y="336.9" width="59.5" height="4.2" fill="#98c8cb"/>
<rect x="473.2" y="336.9" width="4.2" height="131.3" fill="#98c8cb"/>
<rect x="471.6" y="341.0" width="1.3" height="131.3" fill="#dccad2" opacity="0.7"/>
<rect x="419.8" y="350.7" width="50.5" height="1.5" fill="#dccad2"/>
<rect x="418.3" y="352.79999999999995" width="52.5" height="4.2" fill="#98c8cb"/>
<rect x="466.2" y="352.79999999999995" width="4.2" height="115.40000000000003" fill="#98c8cb"/>
<rect x="464.6" y="356.9" width="1.3" height="115.40000000000003" fill="#dccad2" opacity="0.7"/>
<rect x="419.8" y="366.6" width="43.5" height="1.5" fill="#dccad2"/>
<rect x="418.3" y="368.7" width="45.5" height="4.2" fill="#98c8cb"/>
<rect x="459.2" y="368.7" width="4.2" height="99.5" fill="#98c8cb"/>
<rect x="457.6" y="372.8" width="1.3" height="99.5" fill="#dccad2" opacity="0.7"/>
<rect x="419.8" y="382.5" width="36.5" height="1.5" fill="#dccad2"/>
<rect x="418.3" y="384.59999999999997" width="38.5" height="4.2" fill="#98c8cb"/>
<rect x="452.2" y="384.59999999999997" width="4.2" height="83.60000000000002" fill="#98c8cb"/>
<rect x="450.6" y="388.7" width="1.3" height="83.60000000000002" fill="#dccad2" opacity="0.7"/>
<rect x="419.8" y="398.40000000000003" width="29.5" height="1.5" fill="#dccad2"/>
<rect x="418.3" y="400.5" width="31.5" height="4.2" fill="#98c8cb"/>
<rect x="445.2" y="400.5" width="4.2" height="67.69999999999999" fill="#98c8cb"/>
<rect x="443.6" y="404.6" width="1.3" height="67.69999999999999" fill="#dccad2" opacity="0.7"/>
<rect x="419.8" y="414.3" width="22.5" height="1.5" fill="#dccad2"/>
<rect x="418.3" y="416.4" width="24.5" height="4.2" fill="#98c8cb"/>
<rect x="438.2" y="416.4" width="4.2" height="51.80000000000001" fill="#98c8cb"/>
<rect x="436.6" y="420.5" width="1.3" height="51.80000000000001" fill="#dccad2" opacity="0.7"/>
<rect x="419.8" y="430.2" width="15.5" height="1.5" fill="#dccad2"/>
<rect x="418.3" y="432.29999999999995" width="17.5" height="4.2" fill="#98c8cb"/>
<rect x="431.2" y="432.29999999999995" width="4.2" height="35.900000000000034" fill="#98c8cb"/>
<rect x="429.6" y="436.4" width="1.3" height="35.900000000000034" fill="#dccad2" opacity="0.7"/>
<rect x="419.8" y="446.09999999999997" width="8.5" height="1.5" fill="#dccad2"/>
<rect x="418.3" y="448.19999999999993" width="10.5" height="4.2" fill="#98c8cb"/>
<rect x="424.2" y="448.19999999999993" width="4.2" height="20.000000000000057" fill="#98c8cb"/>
<rect x="422.6" y="452.29999999999995" width="1.3" height="20.000000000000057" fill="#dccad2" opacity="0.7"/>
<rect x="414.2" y="305.59999999999997" width="3.2" height="3.2" fill="#e8eeee" stroke="#222" stroke-width="0.9"/>
<rect x="414.2" y="321.49999999999994" width="3.2" height="3.2" fill="#e8eeee" stroke="#222" stroke-width="0.9"/>
<rect x="414.2" y="337.4" width="3.2" height="3.2" fill="#e8eeee" stroke="#222" stroke-width="0.9"/>
<rect x="414.2" y="353.29999999999995" width="3.2" height="3.2" fill="#e8eeee" stroke="#222" stroke-width="0.9"/>
<rect x="414.2" y="369.2" width="3.2" height="3.2" fill="#e8eeee" stroke="#222" stroke-width="0.9"/>
<rect x="414.2" y="385.09999999999997" width="3.2" height="3.2" fill="#e8eeee" stroke="#222" stroke-width="0.9"/>
<rect x="414.2" y="401.0" width="3.2" height="3.2" fill="#e8eeee" stroke="#222" stroke-width="0.9"/>
<rect x="414.2" y="416.9" width="3.2" height="3.2" fill="#e8eeee" stroke="#222" stroke-width="0.9"/>
<rect x="414.2" y="432.79999999999995" width="3.2" height="3.2" fill="#e8eeee" stroke="#222" stroke-width="0.9"/>
<rect x="414.2" y="448.69999999999993" width="3.2" height="3.2" fill="#e8eeee" stroke="#222" stroke-width="0.9"/>
<g fill="#e2bccc" opacity="0.8"><circle cx="325.7" cy="311.3" r="0.7"/><circle cx="324.9" cy="317.9" r="0.7"/><circle cx="326.0" cy="325.2" r="0.7"/><circle cx="326.3" cy="329.5" r="0.7"/><circle cx="325.2" cy="335.3" r="0.7"/><circle cx="324.7" cy="342.7" r="0.7"/><circle cx="324.3" cy="347.8" r="0.7"/><circle cx="325.8" cy="354.8" r="0.7"/><circle cx="324.7" cy="361.0" r="0.7"/><circle cx="326.1" cy="365.2" r="0.7"/><circle cx="326.1" cy="373.3" r="0.7"/><circle cx="325.0" cy="377.7" r="0.7"/><circle cx="326.5" cy="384.2" r="0.7"/><circle cx="324.4" cy="389.5" r="0.7"/><circle cx="326.2" cy="397.0" r="0.7"/><circle cx="326.1" cy="403.4" r="0.7"/><circle cx="325.5" cy="410.1" r="0.7"/><circle cx="325.1" cy="414.9" r="0.7"/><circle cx="326.2" cy="421.1" r="0.7"/><circle cx="326.3" cy="426.9" r="0.7"/><circle cx="325.9" cy="431.3" r="0.7"/><circle cx="324.7" cy="438.1" r="0.7"/><circle cx="324.4" cy="443.9" r="0.7"/><circle cx="324.4" cy="450.0" r="0.7"/><circle cx="325.7" cy="456.3" r="0.7"/><circle cx="325.1" cy="461.8" r="0.7"/><circle cx="258.7" cy="308.1" r="0.7"/><circle cx="266.8" cy="307.4" r="0.7"/><circle cx="272.4" cy="307.7" r="0.7"/><circle cx="279.4" cy="307.0" r="0.7"/><circle cx="288.9" cy="307.5" r="0.7"/><circle cx="294.6" cy="307.6" r="0.7"/><circle cx="302.4" cy="307.8" r="0.7"/><circle cx="307.6" cy="306.3" r="0.7"/><circle cx="314.8" cy="306.7" r="0.7"/><circle cx="321.5" cy="308.1" r="0.7"/><circle cx="319.3" cy="328.0" r="0.7"/><circle cx="318.8" cy="334.3" r="0.7"/><circle cx="319.4" cy="340.5" r="0.7"/><circle cx="317.8" cy="345.8" r="0.7"/><circle cx="318.5" cy="351.9" r="0.7"/><circle cx="318.6" cy="359.8" r="0.7"/><circle cx="318.2" cy="363.8" r="0.7"/><circle cx="319.6" cy="370.6" r="0.7"/><circle cx="317.4" cy="375.2" r="0.7"/><circle cx="317.5" cy="383.0" r="0.7"/><circle cx="319.1" cy="388.4" r="0.7"/><circle cx="317.4" cy="394.2" r="0.7"/><circle cx="319.6" cy="400.7" r="0.7"/><circle cx="319.5" cy="407.7" r="0.7"/><circle cx="317.2" cy="413.3" r="0.7"/><circle cx="318.8" cy="418.7" r="0.7"/><circle cx="317.8" cy="425.0" r="0.7"/><circle cx="317.5" cy="430.4" r="0.7"/><circle cx="318.3" cy="438.0" r="0.7"/><circle cx="319.3" cy="441.9" r="0.7"/><circle cx="318.4" cy="447.6" r="0.7"/><circle cx="319.4" cy="455.7" r="0.7"/><circle cx="317.9" cy="461.0" r="0.7"/><circle cx="259.7" cy="322.4" r="0.7"/><circle cx="267.2" cy="323.2" r="0.7"/><circle cx="274.2" cy="323.2" r="0.7"/><circle cx="278.9" cy="322.7" r="0.7"/><circle cx="286.0" cy="324.0" r="0.7"/><circle cx="295.5" cy="323.8" r="0.7"/><circle cx="300.8" cy="322.2" r="0.7"/><circle cx="309.5" cy="324.0" r="0.7"/><circle cx="314.2" cy="323.1" r="0.7"/><circle cx="310.4" cy="345.3" r="0.7"/><circle cx="312.0" cy="349.4" r="0.7"/><circle cx="311.3" cy="356.6" r="0.7"/><circle cx="310.8" cy="363.6" r="0.7"/><circle cx="311.2" cy="367.6" r="0.7"/><circle cx="311.5" cy="375.2" r="0.7"/><circle cx="310.7" cy="379.9" r="0.7"/><circle cx="312.6" cy="386.9" r="0.7"/><circle cx="311.3" cy="392.6" r="0.7"/><circle cx="310.5" cy="397.7" r="0.7"/><circle cx="311.0" cy="404.8" r="0.7"/><circle cx="310.8" cy="409.7" r="0.7"/><circle cx="310.4" cy="416.9" r="0.7"/><circle cx="310.7" cy="423.7" r="0.7"/><circle cx="312.3" cy="427.2" r="0.7"/><circle cx="310.8" cy="435.0" r="0.7"/><circle cx="310.7" cy="439.4" r="0.7"/><circle cx="312.4" cy="446.7" r="0.7"/><circle cx="311.3" cy="453.4" r="0.7"/><circle cx="312.1" cy="457.6" r="0.7"/><circle cx="310.4" cy="464.3" r="0.7"/><circle cx="259.2" cy="338.9" r="0.7"/><circle cx="267.1" cy="339.3" r="0.7"/><circle cx="274.9" cy="338.2" r="0.7"/><circle cx="280.1" cy="338.7" r="0.7"/><circle cx="288.5" cy="338.5" r="0.7"/><circle cx="293.5" cy="338.9" r="0.7"/><circle cx="301.2" cy="338.6" r="0.7"/><circle cx="307.6" cy="339.8" r="0.7"/><circle cx="304.3" cy="361.5" r="0.7"/><circle cx="304.5" cy="365.1" r="0.7"/><circle cx="305.6" cy="373.4" r="0.7"/><circle cx="305.5" cy="379.7" r="0.7"/><circle cx="305.2" cy="383.4" r="0.7"/><circle cx="304.4" cy="389.5" r="0.7"/><circle cx="304.2" cy="395.1" r="0.7"/><circle cx="304.1" cy="403.9" r="0.7"/><circle cx="303.8" cy="409.3" r="0.7"/><circle cx="304.3" cy="414.2" r="0.7"/><circle cx="305.5" cy="421.9" r="0.7"/><circle cx="304.5" cy="427.1" r="0.7"/><circle cx="303.6" cy="431.8" r="0.7"/><circle cx="305.5" cy="438.6" r="0.7"/><circle cx="304.5" cy="445.1" r="0.7"/><circle cx="303.3" cy="450.7" r="0.7"/><circle cx="304.4" cy="457.5" r="0.7"/><circle cx="303.6" cy="463.8" r="0.7"/><circle cx="258.1" cy="354.3" r="0.7"/><circle cx="266.7" cy="355.3" r="0.7"/><circle cx="272.6" cy="354.1" r="0.7"/><circle cx="281.6" cy="354.4" r="0.7"/><circle cx="287.7" cy="355.1" r="0.7"/><circle cx="294.2" cy="355.1" r="0.7"/><circle cx="301.5" cy="355.8" r="0.7"/><circle cx="296.7" cy="376.9" r="0.7"/><circle cx="296.8" cy="382.0" r="0.7"/><circle cx="297.8" cy="387.7" r="0.7"/><circle cx="297.0" cy="395.1" r="0.7"/><circle cx="296.4" cy="400.2" r="0.7"/><circle cx="298.6" cy="407.8" r="0.7"/><circle cx="296.4" cy="411.4" r="0.7"/><circle cx="296.8" cy="419.6" r="0.7"/><circle cx="298.3" cy="425.4" r="0.7"/><circle cx="297.1" cy="429.3" r="0.7"/><circle cx="298.2" cy="436.9" r="0.7"/><circle cx="297.7" cy="443.8" r="0.7"/><circle cx="297.8" cy="446.8" r="0.7"/><circle cx="298.2" cy="453.7" r="0.7"/><circle cx="297.8" cy="461.6" r="0.7"/><circle cx="258.3" cy="370.0" r="0.7"/><circle cx="265.2" cy="370.9" r="0.7"/><circle cx="272.7" cy="371.0" r="0.7"/><circle cx="281.1" cy="370.2" r="0.7"/><circle cx="287.8" cy="370.3" r="0.7"/><circle cx="294.4" cy="371.6" r="0.7"/><circle cx="291.2" cy="391.0" r="0.7"/><circle cx="290.2" cy="397.5" r="0.7"/><circle cx="289.2" cy="405.0" r="0.7"/><circle cx="290.7" cy="409.5" r="0.7"/><circle cx="291.0" cy="416.4" r="0.7"/><circle cx="290.2" cy="420.7" r="0.7"/><circle cx="289.4" cy="429.3" r="0.7"/><circle cx="291.4" cy="434.3" r="0.7"/><circle cx="291.2" cy="440.4" r="0.7"/><circle cx="289.6" cy="445.1" r="0.7"/><circle cx="289.9" cy="453.4" r="0.7"/><circle cx="291.1" cy="459.3" r="0.7"/><circle cx="291.4" cy="463.3" r="0.7"/><circle cx="258.6" cy="385.9" r="0.7"/><circle cx="267.2" cy="387.5" r="0.7"/><circle cx="273.1" cy="386.9" r="0.7"/><circle cx="279.4" cy="387.6" r="0.7"/><circle cx="288.5" cy="387.7" r="0.7"/><circle cx="284.1" cy="409.2" r="0.7"/><circle cx="282.3" cy="414.8" r="0.7"/><circle cx="283.0" cy="421.4" r="0.7"/><circle cx="284.1" cy="427.2" r="0.7"/><circle cx="284.1" cy="431.4" r="0.7"/><circle cx="284.1" cy="436.9" r="0.7"/><circle cx="284.3" cy="445.2" r="0.7"/><circle cx="282.7" cy="451.0" r="0.7"/><circle cx="283.3" cy="455.5" r="0.7"/><circle cx="284.1" cy="461.3" r="0.7"/><circle cx="258.0" cy="402.0" r="0.7"/><circle cx="265.9" cy="403.3" r="0.7"/><circle cx="274.8" cy="402.2" r="0.7"/><circle cx="280.8" cy="402.4" r="0.7"/><circle cx="277.6" cy="424.1" r="0.7"/><circle cx="277.5" cy="428.8" r="0.7"/><circle cx="277.5" cy="435.0" r="0.7"/><circle cx="277.5" cy="441.3" r="0.7"/><circle cx="275.5" cy="447.8" r="0.7"/><circle cx="276.9" cy="453.4" r="0.7"/><circle cx="276.7" cy="460.0" r="0.7"/><circle cx="259.1" cy="418.7" r="0.7"/><circle cx="265.7" cy="418.9" r="0.7"/><circle cx="271.9" cy="419.4" r="0.7"/><circle cx="269.5" cy="440.6" r="0.7"/><circle cx="270.0" cy="446.4" r="0.7"/><circle cx="269.1" cy="450.6" r="0.7"/><circle cx="269.8" cy="457.4" r="0.7"/><circle cx="269.0" cy="464.9" r="0.7"/><circle cx="260.1" cy="434.0" r="0.7"/><circle cx="265.8" cy="434.2" r="0.7"/><circle cx="262.2" cy="455.2" r="0.7"/><circle cx="261.5" cy="461.6" r="0.7"/><circle cx="260.7" cy="450.7" r="0.7"/><circle cx="408.7" cy="313.0" r="0.7"/><circle cx="407.2" cy="318.8" r="0.7"/><circle cx="406.5" cy="324.1" r="0.7"/><circle cx="407.5" cy="330.9" r="0.7"/><circle cx="408.1" cy="336.6" r="0.7"/><circle cx="407.6" cy="341.8" r="0.7"/><circle cx="407.6" cy="349.9" r="0.7"/><circle cx="408.4" cy="353.7" r="0.7"/><circle cx="406.7" cy="360.7" r="0.7"/><circle cx="408.0" cy="366.2" r="0.7"/><circle cx="408.5" cy="373.5" r="0.7"/><circle cx="408.1" cy="377.9" r="0.7"/><circle cx="407.0" cy="383.3" r="0.7"/><circle cx="407.1" cy="390.6" r="0.7"/><circle cx="408.5" cy="395.4" r="0.7"/><circle cx="407.5" cy="403.1" r="0.7"/><circle cx="407.0" cy="409.3" r="0.7"/><circle cx="407.7" cy="413.9" r="0.7"/><circle cx="408.1" cy="419.2" r="0.7"/><circle cx="408.3" cy="427.5" r="0.7"/><circle cx="406.8" cy="432.5" r="0.7"/><circle cx="406.9" cy="440.1" r="0.7"/><circle cx="407.7" cy="443.4" r="0.7"/><circle cx="407.1" cy="451.7" r="0.7"/><circle cx="407.6" cy="457.6" r="0.7"/><circle cx="408.1" cy="464.2" r="0.7"/><circle cx="342.0" cy="308.1" r="0.7"/><circle cx="349.9" cy="307.4" r="0.7"/><circle cx="356.4" cy="307.2" r="0.7"/><circle cx="363.7" cy="307.3" r="0.7"/><circle cx="370.9" cy="307.7" r="0.7"/><circle cx="376.6" cy="306.7" r="0.7"/><circle cx="382.9" cy="307.5" r="0.7"/><circle cx="391.5" cy="307.2" r="0.7"/><circle cx="398.1" cy="306.7" r="0.7"/><circle cx="403.4" cy="306.8" r="0.7"/><circle cx="400.2" cy="328.1" r="0.7"/><circle cx="400.8" cy="333.5" r="0.7"/><circle cx="400.1" cy="341.2" r="0.7"/><circle cx="401.2" cy="345.3" r="0.7"/><circle cx="400.5" cy="352.7" r="0.7"/><circle cx="400.5" cy="357.7" r="0.7"/><circle cx="400.5" cy="365.8" r="0.7"/><circle cx="400.9" cy="371.2" r="0.7"/><circle cx="401.6" cy="377.4" r="0.7"/><circle cx="400.4" cy="381.1" r="0.7"/><circle cx="400.3" cy="389.4" r="0.7"/><circle cx="401.5" cy="396.0" r="0.7"/><circle cx="400.5" cy="401.3" r="0.7"/><circle cx="400.8" cy="406.9" r="0.7"/><circle cx="400.0" cy="411.8" r="0.7"/><circle cx="400.5" cy="417.2" r="0.7"/><circle cx="400.3" cy="425.1" r="0.7"/><circle cx="400.5" cy="429.6" r="0.7"/><circle cx="400.6" cy="435.5" r="0.7"/><circle cx="401.0" cy="441.2" r="0.7"/><circle cx="400.4" cy="448.8" r="0.7"/><circle cx="399.6" cy="455.0" r="0.7"/><circle cx="399.8" cy="460.5" r="0.7"/><circle cx="340.4" cy="322.9" r="0.7"/><circle cx="347.8" cy="322.8" r="0.7"/><circle cx="356.5" cy="322.9" r="0.7"/><circle cx="363.5" cy="323.8" r="0.7"/><circle cx="369.0" cy="322.3" r="0.7"/><circle cx="375.3" cy="323.2" r="0.7"/><circle cx="385.2" cy="322.8" r="0.7"/><circle cx="391.2" cy="323.7" r="0.7"/><circle cx="398.2" cy="323.6" r="0.7"/><circle cx="394.8" cy="343.6" r="0.7"/><circle cx="392.5" cy="349.5" r="0.7"/><circle cx="392.8" cy="357.0" r="0.7"/><circle cx="393.9" cy="361.7" r="0.7"/><circle cx="394.2" cy="369.3" r="0.7"/><circle cx="392.9" cy="374.8" r="0.7"/><circle cx="394.3" cy="379.3" r="0.7"/><circle cx="394.5" cy="387.9" r="0.7"/><circle cx="392.8" cy="391.1" r="0.7"/><circle cx="393.2" cy="399.0" r="0.7"/><circle cx="394.8" cy="404.2" r="0.7"/><circle cx="394.2" cy="409.2" r="0.7"/><circle cx="394.2" cy="416.9" r="0.7"/><circle cx="392.7" cy="423.3" r="0.7"/><circle cx="394.5" cy="428.8" r="0.7"/><circle cx="392.8" cy="436.0" r="0.7"/><circle cx="394.4" cy="440.0" r="0.7"/><circle cx="393.5" cy="446.1" r="0.7"/><circle cx="393.7" cy="452.0" r="0.7"/><circle cx="394.5" cy="459.5" r="0.7"/><circle cx="392.8" cy="465.9" r="0.7"/><circle cx="342.1" cy="339.7" r="0.7"/><circle cx="349.3" cy="338.9" r="0.7"/><circle cx="356.4" cy="339.9" r="0.7"/><circle cx="362.0" cy="339.6" r="0.7"/><circle cx="369.8" cy="339.0" r="0.7"/><circle cx="376.5" cy="339.5" r="0.7"/><circle cx="383.0" cy="339.7" r="0.7"/><circle cx="391.7" cy="338.2" r="0.7"/><circle cx="387.6" cy="359.6" r="0.7"/><circle cx="386.6" cy="366.7" r="0.7"/><circle cx="386.4" cy="371.0" r="0.7"/><circle cx="387.5" cy="377.4" r="0.7"/><circle cx="386.0" cy="385.3" r="0.7"/><circle cx="386.3" cy="391.5" r="0.7"/><circle cx="387.2" cy="395.7" r="0.7"/><circle cx="385.5" cy="403.7" r="0.7"/><circle cx="385.7" cy="409.1" r="0.7"/><circle cx="386.7" cy="415.2" r="0.7"/><circle cx="387.2" cy="420.8" r="0.7"/><circle cx="386.7" cy="427.3" r="0.7"/><circle cx="385.7" cy="431.6" r="0.7"/><circle cx="387.2" cy="437.8" r="0.7"/><circle cx="386.9" cy="444.3" r="0.7"/><circle cx="386.8" cy="450.2" r="0.7"/><circle cx="387.3" cy="455.9" r="0.7"/><circle cx="387.2" cy="461.7" r="0.7"/><circle cx="341.0" cy="354.1" r="0.7"/><circle cx="347.8" cy="354.1" r="0.7"/><circle cx="355.8" cy="355.4" r="0.7"/><circle cx="361.8" cy="354.3" r="0.7"/><circle cx="369.7" cy="355.3" r="0.7"/><circle cx="378.1" cy="354.9" r="0.7"/><circle cx="383.0" cy="354.1" r="0.7"/><circle cx="379.0" cy="375.5" r="0.7"/><circle cx="378.9" cy="380.8" r="0.7"/><circle cx="379.8" cy="387.6" r="0.7"/><circle cx="380.8" cy="394.5" r="0.7"/><circle cx="380.2" cy="399.2" r="0.7"/><circle cx="380.6" cy="406.3" r="0.7"/><circle cx="380.6" cy="412.5" r="0.7"/><circle cx="379.6" cy="418.1" r="0.7"/><circle cx="378.9" cy="423.0" r="0.7"/><circle cx="380.8" cy="430.2" r="0.7"/><circle cx="380.5" cy="436.0" r="0.7"/><circle cx="378.7" cy="442.7" r="0.7"/><circle cx="378.6" cy="447.2" r="0.7"/><circle cx="379.9" cy="453.7" r="0.7"/><circle cx="380.9" cy="459.2" r="0.7"/><circle cx="342.5" cy="371.0" r="0.7"/><circle cx="349.6" cy="370.3" r="0.7"/><circle cx="355.8" cy="370.7" r="0.7"/><circle cx="362.5" cy="371.5" r="0.7"/><circle cx="371.2" cy="370.4" r="0.7"/><circle cx="377.1" cy="371.0" r="0.7"/><circle cx="373.3" cy="393.5" r="0.7"/><circle cx="372.0" cy="397.3" r="0.7"/><circle cx="373.1" cy="403.2" r="0.7"/><circle cx="371.9" cy="408.9" r="0.7"/><circle cx="371.5" cy="416.1" r="0.7"/><circle cx="372.9" cy="421.6" r="0.7"/><circle cx="372.1" cy="428.8" r="0.7"/><circle cx="373.2" cy="434.1" r="0.7"/><circle cx="373.1" cy="441.5" r="0.7"/><circle cx="373.4" cy="446.6" r="0.7"/><circle cx="373.1" cy="453.5" r="0.7"/><circle cx="372.5" cy="458.3" r="0.7"/><circle cx="373.1" cy="465.4" r="0.7"/><circle cx="342.7" cy="385.8" r="0.7"/><circle cx="347.7" cy="386.3" r="0.7"/><circle cx="356.4" cy="386.8" r="0.7"/><circle cx="362.1" cy="385.9" r="0.7"/><circle cx="370.3" cy="387.1" r="0.7"/><circle cx="366.8" cy="408.1" r="0.7"/><circle cx="365.7" cy="412.8" r="0.7"/><circle cx="364.6" cy="419.9" r="0.7"/><circle cx="365.3" cy="425.4" r="0.7"/><circle cx="364.7" cy="433.5" r="0.7"/><circle cx="366.5" cy="438.3" r="0.7"/><circle cx="366.8" cy="445.6" r="0.7"/><circle cx="366.1" cy="449.4" r="0.7"/><circle cx="364.6" cy="456.9" r="0.7"/><circle cx="365.6" cy="462.6" r="0.7"/><circle cx="342.9" cy="402.0" r="0.7"/><circle cx="349.0" cy="402.9" r="0.7"/><circle cx="355.7" cy="401.8" r="0.7"/><circle cx="362.2" cy="402.3" r="0.7"/><circle cx="359.1" cy="425.1" r="0.7"/><circle cx="358.3" cy="430.6" r="0.7"/><circle cx="358.2" cy="437.3" r="0.7"/><circle cx="359.5" cy="442.2" r="0.7"/><circle cx="358.6" cy="447.4" r="0.7"/><circle cx="358.3" cy="455.4" r="0.7"/><circle cx="358.5" cy="460.0" r="0.7"/><circle cx="343.2" cy="418.8" r="0.7"/><circle cx="348.8" cy="418.3" r="0.7"/><circle cx="354.8" cy="418.2" r="0.7"/><circle cx="352.3" cy="440.3" r="0.7"/><circle cx="352.3" cy="445.0" r="0.7"/><circle cx="351.8" cy="453.2" r="0.7"/><circle cx="351.6" cy="458.5" r="0.7"/><circle cx="350.8" cy="465.3" r="0.7"/><circle cx="342.0" cy="433.9" r="0.7"/><circle cx="347.7" cy="434.5" r="0.7"/><circle cx="344.8" cy="454.6" r="0.7"/><circle cx="345.9" cy="463.0" r="0.7"/><circle cx="341.6" cy="449.5" r="0.7"/><circle cx="490.1" cy="312.7" r="0.7"/><circle cx="489.8" cy="318.7" r="0.7"/><circle cx="488.8" cy="325.7" r="0.7"/><circle cx="490.5" cy="329.9" r="0.7"/><circle cx="489.4" cy="336.4" r="0.7"/><circle cx="490.3" cy="342.7" r="0.7"/><circle cx="490.2" cy="349.8" r="0.7"/><circle cx="488.8" cy="355.6" r="0.7"/><circle cx="489.1" cy="362.0" r="0.7"/><circle cx="489.3" cy="367.7" r="0.7"/><circle cx="488.8" cy="372.1" r="0.7"/><circle cx="489.5" cy="380.2" r="0.7"/><circle cx="489.3" cy="383.6" r="0.7"/><circle cx="489.4" cy="390.2" r="0.7"/><circle cx="489.4" cy="396.8" r="0.7"/><circle cx="489.2" cy="402.2" r="0.7"/><circle cx="488.6" cy="409.3" r="0.7"/><circle cx="489.5" cy="413.9" r="0.7"/><circle cx="490.0" cy="419.3" r="0.7"/><circle cx="489.9" cy="427.3" r="0.7"/><circle cx="490.0" cy="432.4" r="0.7"/><circle cx="489.7" cy="439.7" r="0.7"/><circle cx="490.5" cy="444.7" r="0.7"/><circle cx="488.2" cy="450.7" r="0.7"/><circle cx="489.5" cy="457.8" r="0.7"/><circle cx="490.2" cy="462.5" r="0.7"/><circle cx="423.4" cy="307.1" r="0.7"/><circle cx="431.0" cy="307.0" r="0.7"/><circle cx="437.8" cy="306.5" r="0.7"/><circle cx="444.2" cy="308.1" r="0.7"/><circle cx="450.8" cy="307.6" r="0.7"/><circle cx="458.7" cy="307.9" r="0.7"/><circle cx="466.4" cy="307.9" r="0.7"/><circle cx="471.9" cy="306.8" r="0.7"/><circle cx="480.0" cy="307.7" r="0.7"/><circle cx="487.4" cy="306.3" r="0.7"/><circle cx="481.3" cy="329.0" r="0.7"/><circle cx="483.3" cy="336.1" r="0.7"/><circle cx="482.9" cy="340.4" r="0.7"/><circle cx="481.3" cy="347.0" r="0.7"/><circle cx="483.2" cy="352.4" r="0.7"/><circle cx="482.8" cy="359.8" r="0.7"/><circle cx="481.2" cy="365.5" r="0.7"/><circle cx="481.8" cy="370.2" r="0.7"/><circle cx="481.4" cy="376.7" r="0.7"/><circle cx="482.5" cy="383.5" r="0.7"/><circle cx="481.5" cy="387.3" r="0.7"/><circle cx="483.2" cy="395.0" r="0.7"/><circle cx="481.7" cy="401.8" r="0.7"/><circle cx="481.4" cy="406.5" r="0.7"/><circle cx="481.7" cy="411.9" r="0.7"/><circle cx="481.1" cy="419.5" r="0.7"/><circle cx="483.3" cy="425.1" r="0.7"/><circle cx="481.5" cy="430.4" r="0.7"/><circle cx="481.9" cy="436.9" r="0.7"/><circle cx="482.6" cy="442.4" r="0.7"/><circle cx="481.7" cy="449.6" r="0.7"/><circle cx="481.6" cy="454.3" r="0.7"/><circle cx="482.3" cy="459.8" r="0.7"/><circle cx="423.5" cy="323.2" r="0.7"/><circle cx="431.8" cy="322.7" r="0.7"/><circle cx="438.7" cy="323.4" r="0.7"/><circle cx="443.6" cy="323.2" r="0.7"/><circle cx="451.9" cy="323.6" r="0.7"/><circle cx="456.9" cy="323.3" r="0.7"/><circle cx="465.3" cy="323.9" r="0.7"/><circle cx="471.7" cy="323.7" r="0.7"/><circle cx="479.6" cy="322.8" r="0.7"/><circle cx="475.6" cy="344.9" r="0.7"/><circle cx="475.7" cy="351.2" r="0.7"/><circle cx="475.7" cy="357.5" r="0.7"/><circle cx="475.6" cy="363.7" r="0.7"/><circle cx="475.7" cy="367.9" r="0.7"/><circle cx="475.2" cy="374.7" r="0.7"/><circle cx="475.9" cy="379.3" r="0.7"/><circle cx="474.8" cy="387.2" r="0.7"/><circle cx="474.5" cy="391.4" r="0.7"/><circle cx="475.4" cy="399.9" r="0.7"/><circle cx="475.4" cy="405.7" r="0.7"/><circle cx="476.1" cy="409.8" r="0.7"/><circle cx="476.1" cy="416.4" r="0.7"/><circle cx="476.0" cy="423.2" r="0.7"/><circle cx="474.9" cy="427.3" r="0.7"/><circle cx="476.4" cy="433.4" r="0.7"/><circle cx="476.4" cy="441.6" r="0.7"/><circle cx="475.8" cy="447.9" r="0.7"/><circle cx="476.4" cy="453.4" r="0.7"/><circle cx="475.0" cy="459.4" r="0.7"/><circle cx="474.1" cy="464.6" r="0.7"/><circle cx="423.2" cy="339.3" r="0.7"/><circle cx="430.8" cy="339.2" r="0.7"/><circle cx="438.3" cy="339.9" r="0.7"/><circle cx="443.1" cy="338.5" r="0.7"/><circle cx="449.9" cy="339.8" r="0.7"/><circle cx="458.5" cy="339.8" r="0.7"/><circle cx="464.5" cy="338.1" r="0.7"/><circle cx="473.3" cy="339.8" r="0.7"/><circle cx="467.8" cy="360.1" r="0.7"/><circle cx="467.4" cy="367.7" r="0.7"/><circle cx="467.8" cy="372.4" r="0.7"/><circle cx="467.3" cy="379.6" r="0.7"/><circle cx="467.4" cy="384.3" r="0.7"/><circle cx="468.7" cy="391.1" r="0.7"/><circle cx="469.4" cy="396.2" r="0.7"/><circle cx="468.9" cy="401.4" r="0.7"/><circle cx="468.1" cy="407.2" r="0.7"/><circle cx="468.3" cy="414.1" r="0.7"/><circle cx="469.4" cy="419.0" r="0.7"/><circle cx="468.0" cy="426.2" r="0.7"/><circle cx="469.4" cy="433.5" r="0.7"/><circle cx="467.3" cy="439.0" r="0.7"/><circle cx="468.4" cy="445.8" r="0.7"/><circle cx="468.0" cy="450.1" r="0.7"/><circle cx="467.6" cy="455.3" r="0.7"/><circle cx="469.1" cy="462.3" r="0.7"/><circle cx="423.8" cy="355.2" r="0.7"/><circle cx="430.6" cy="353.9" r="0.7"/><circle cx="438.2" cy="354.4" r="0.7"/><circle cx="443.2" cy="355.0" r="0.7"/><circle cx="450.0" cy="355.4" r="0.7"/><circle cx="457.4" cy="354.3" r="0.7"/><circle cx="466.4" cy="354.6" r="0.7"/><circle cx="460.5" cy="377.5" r="0.7"/><circle cx="460.1" cy="383.4" r="0.7"/><circle cx="460.4" cy="387.2" r="0.7"/><circle cx="460.7" cy="393.3" r="0.7"/><circle cx="461.7" cy="398.9" r="0.7"/><circle cx="460.1" cy="407.2" r="0.7"/><circle cx="460.7" cy="411.8" r="0.7"/><circle cx="460.5" cy="417.0" r="0.7"/><circle cx="461.9" cy="424.4" r="0.7"/><circle cx="461.9" cy="430.2" r="0.7"/><circle cx="462.0" cy="436.3" r="0.7"/><circle cx="460.4" cy="442.3" r="0.7"/><circle cx="462.4" cy="446.9" r="0.7"/><circle cx="462.0" cy="455.4" r="0.7"/><circle cx="461.4" cy="460.2" r="0.7"/><circle cx="424.7" cy="369.9" r="0.7"/><circle cx="430.2" cy="370.6" r="0.7"/><circle cx="437.9" cy="370.8" r="0.7"/><circle cx="445.5" cy="369.9" r="0.7"/><circle cx="450.0" cy="371.0" r="0.7"/><circle cx="457.0" cy="370.4" r="0.7"/><circle cx="454.6" cy="392.3" r="0.7"/><circle cx="453.9" cy="399.7" r="0.7"/><circle cx="454.4" cy="404.1" r="0.7"/><circle cx="454.6" cy="409.0" r="0.7"/><circle cx="454.8" cy="417.3" r="0.7"/><circle cx="454.7" cy="423.0" r="0.7"/><circle cx="454.8" cy="427.3" r="0.7"/><circle cx="454.2" cy="433.4" r="0.7"/><circle cx="453.9" cy="440.1" r="0.7"/><circle cx="454.1" cy="445.0" r="0.7"/><circle cx="454.1" cy="452.7" r="0.7"/><circle cx="454.0" cy="457.2" r="0.7"/><circle cx="455.3" cy="462.9" r="0.7"/><circle cx="424.3" cy="385.9" r="0.7"/><circle cx="429.1" cy="387.2" r="0.7"/><circle cx="438.2" cy="386.8" r="0.7"/><circle cx="444.6" cy="386.8" r="0.7"/><circle cx="450.8" cy="385.9" r="0.7"/><circle cx="446.9" cy="408.6" r="0.7"/><circle cx="447.9" cy="415.2" r="0.7"/><circle cx="447.8" cy="421.5" r="0.7"/><circle cx="447.5" cy="425.7" r="0.7"/><circle cx="447.5" cy="431.2" r="0.7"/><circle cx="447.7" cy="437.3" r="0.7"/><circle cx="446.4" cy="445.1" r="0.7"/><circle cx="447.0" cy="450.9" r="0.7"/><circle cx="447.5" cy="457.0" r="0.7"/><circle cx="448.1" cy="463.5" r="0.7"/><circle cx="424.3" cy="402.8" r="0.7"/><circle cx="430.7" cy="401.7" r="0.7"/><circle cx="438.6" cy="403.3" r="0.7"/><circle cx="443.6" cy="402.0" r="0.7"/><circle cx="440.8" cy="423.4" r="0.7"/><circle cx="439.9" cy="428.5" r="0.7"/><circle cx="441.2" cy="436.2" r="0.7"/><circle cx="440.1" cy="440.9" r="0.7"/><circle cx="440.6" cy="446.6" r="0.7"/><circle cx="440.9" cy="453.1" r="0.7"/><circle cx="440.1" cy="459.5" r="0.7"/><circle cx="422.9" cy="418.9" r="0.7"/><circle cx="431.1" cy="418.6" r="0.7"/><circle cx="436.1" cy="417.6" r="0.7"/><circle cx="432.5" cy="440.3" r="0.7"/><circle cx="433.7" cy="445.2" r="0.7"/><circle cx="433.7" cy="451.9" r="0.7"/><circle cx="433.2" cy="457.2" r="0.7"/><circle cx="433.9" cy="462.7" r="0.7"/><circle cx="423.1" cy="434.0" r="0.7"/><circle cx="430.8" cy="434.4" r="0.7"/><circle cx="426.7" cy="454.4" r="0.7"/><circle cx="426.0" cy="462.1" r="0.7"/><circle cx="421.8" cy="449.9" r="0.7"/></g>
<g fill="#3a4450" opacity="0.55"><circle cx="288.8" cy="321.6" r="0.38"/><circle cx="313.4" cy="300.0" r="0.52"/><circle cx="281.3" cy="362.0" r="0.51"/><circle cx="349.7" cy="437.5" r="0.54"/><circle cx="259.5" cy="442.3" r="0.31"/><circle cx="248.2" cy="452.2" r="0.56"/><circle cx="365.6" cy="394.2" r="0.51"/><circle cx="332.3" cy="317.9" r="0.31"/><circle cx="312.7" cy="432.2" r="0.49"/><circle cx="419.6" cy="451.9" r="0.33"/><circle cx="422.2" cy="339.2" r="0.48"/><circle cx="354.7" cy="364.6" r="0.39"/><circle cx="315.8" cy="354.2" r="0.35"/><circle cx="351.9" cy="317.7" r="0.45"/><circle cx="435.2" cy="356.9" r="0.52"/><circle cx="416.9" cy="434.5" r="0.37"/><circle cx="275.2" cy="331.6" r="0.48"/><circle cx="404.5" cy="407.9" r="0.35"/><circle cx="407.1" cy="381.0" r="0.53"/><circle cx="404.4" cy="373.5" r="0.58"/><circle cx="363.2" cy="404.5" r="0.49"/><circle cx="426.4" cy="403.2" r="0.35"/><circle cx="258.7" cy="372.4" r="0.39"/><circle cx="302.2" cy="308.1" r="0.45"/><circle cx="309.7" cy="374.0" r="0.32"/><circle cx="419.5" cy="311.5" r="0.56"/><circle cx="424.5" cy="401.2" r="0.45"/><circle cx="341.8" cy="391.0" r="0.54"/><circle cx="433.1" cy="373.6" r="0.54"/><circle cx="381.6" cy="352.3" r="0.44"/><circle cx="276.1" cy="309.0" r="0.33"/><circle cx="433.7" cy="355.9" r="0.51"/><circle cx="350.6" cy="327.4" r="0.37"/><circle cx="336.5" cy="371.9" r="0.46"/><circle cx="277.7" cy="360.8" r="0.38"/><circle cx="330.4" cy="355.1" r="0.48"/><circle cx="410.6" cy="406.5" r="0.32"/><circle cx="264.2" cy="411.7" r="0.39"/><circle cx="396.8" cy="408.1" r="0.57"/><circle cx="428.3" cy="354.2" r="0.47"/><circle cx="274.1" cy="357.0" r="0.59"/><circle cx="391.5" cy="364.0" r="0.48"/><circle cx="441.9" cy="350.3" r="0.41"/><circle cx="411.1" cy="434.2" r="0.50"/><circle cx="419.0" cy="421.8" r="0.51"/><circle cx="355.2" cy="406.3" r="0.43"/><circle cx="320.5" cy="359.1" r="0.35"/><circle cx="289.4" cy="456.6" r="0.45"/><circle cx="292.0" cy="321.6" r="0.32"/><circle cx="422.2" cy="315.6" r="0.53"/><circle cx="420.3" cy="445.9" r="0.31"/><circle cx="315.3" cy="426.4" r="0.34"/><circle cx="323.7" cy="325.7" r="0.55"/><circle cx="406.8" cy="433.5" r="0.35"/><circle cx="336.5" cy="367.1" r="0.50"/><circle cx="294.3" cy="372.7" r="0.39"/><circle cx="402.0" cy="373.5" r="0.46"/><circle cx="309.5" cy="433.4" r="0.44"/><circle cx="420.3" cy="360.0" r="0.58"/><circle cx="451.7" cy="375.6" r="0.38"/><circle cx="324.8" cy="386.6" r="0.59"/><circle cx="416.4" cy="432.2" r="0.34"/><circle cx="297.0" cy="405.5" r="0.56"/><circle cx="361.1" cy="315.8" r="0.55"/><circle cx="423.6" cy="346.2" r="0.53"/><circle cx="301.8" cy="449.5" r="0.34"/><circle cx="336.5" cy="456.4" r="0.37"/><circle cx="339.4" cy="356.9" r="0.31"/><circle cx="255.5" cy="382.3" r="0.37"/><circle cx="453.8" cy="361.2" r="0.31"/><circle cx="440.4" cy="438.5" r="0.49"/><circle cx="411.0" cy="321.6" r="0.39"/><circle cx="419.1" cy="414.7" r="0.34"/><circle cx="393.0" cy="373.4" r="0.30"/><circle cx="261.0" cy="341.3" r="0.55"/><circle cx="359.9" cy="419.9" r="0.46"/><circle cx="267.7" cy="346.7" r="0.39"/><circle cx="254.4" cy="368.6" r="0.54"/><circle cx="340.6" cy="317.2" r="0.57"/><circle cx="370.0" cy="301.4" r="0.45"/><circle cx="295.3" cy="322.6" r="0.43"/><circle cx="373.8" cy="338.8" r="0.42"/><circle cx="384.3" cy="313.0" r="0.59"/><circle cx="258.6" cy="386.3" r="0.45"/><circle cx="452.5" cy="391.0" r="0.42"/><circle cx="343.4" cy="404.6" r="0.59"/><circle cx="297.7" cy="301.4" r="0.54"/><circle cx="316.9" cy="420.8" r="0.49"/><circle cx="406.9" cy="421.2" r="0.40"/><circle cx="253.6" cy="389.7" r="0.54"/><circle cx="281.2" cy="428.5" r="0.44"/><circle cx="390.8" cy="403.9" r="0.54"/><circle cx="257.6" cy="428.0" r="0.44"/><circle cx="306.1" cy="306.0" r="0.36"/><circle cx="253.1" cy="454.2" r="0.45"/><circle cx="452.7" cy="389.2" r="0.38"/><circle cx="403.0" cy="330.5" r="0.41"/><circle cx="408.8" cy="442.9" r="0.40"/><circle cx="270.5" cy="360.0" r="0.57"/><circle cx="400.9" cy="447.7" r="0.42"/><circle cx="449.5" cy="381.4" r="0.45"/><circle cx="439.1" cy="385.2" r="0.54"/><circle cx="397.5" cy="311.8" r="0.48"/><circle cx="417.6" cy="389.6" r="0.40"/><circle cx="261.2" cy="408.8" r="0.39"/><circle cx="371.3" cy="369.7" r="0.51"/><circle cx="318.4" cy="305.8" r="0.56"/><circle cx="318.6" cy="465.0" r="0.38"/><circle cx="450.8" cy="456.6" r="0.32"/><circle cx="378.6" cy="359.2" r="0.54"/><circle cx="387.5" cy="457.4" r="0.34"/><circle cx="372.3" cy="428.9" r="0.31"/><circle cx="258.5" cy="428.4" r="0.41"/><circle cx="325.0" cy="393.2" r="0.48"/><circle cx="387.4" cy="456.8" r="0.41"/><circle cx="405.1" cy="394.3" r="0.46"/><circle cx="328.2" cy="406.9" r="0.37"/><circle cx="268.2" cy="421.3" r="0.45"/><circle cx="325.8" cy="392.3" r="0.38"/><circle cx="299.1" cy="373.0" r="0.60"/><circle cx="304.5" cy="451.4" r="0.45"/><circle cx="270.1" cy="440.8" r="0.44"/><circle cx="433.7" cy="372.9" r="0.33"/><circle cx="388.0" cy="439.6" r="0.40"/><circle cx="317.5" cy="309.5" r="0.46"/><circle cx="432.1" cy="440.5" r="0.51"/><circle cx="439.7" cy="404.9" r="0.54"/><circle cx="351.5" cy="318.9" r="0.36"/><circle cx="273.6" cy="430.4" r="0.31"/><circle cx="361.0" cy="360.2" r="0.54"/><circle cx="360.5" cy="400.7" r="0.33"/><circle cx="309.5" cy="465.2" r="0.52"/><circle cx="355.1" cy="426.8" r="0.55"/><circle cx="259.8" cy="460.7" r="0.49"/><circle cx="339.1" cy="412.0" r="0.40"/><circle cx="429.3" cy="428.7" r="0.49"/><circle cx="282.6" cy="459.7" r="0.43"/><circle cx="436.2" cy="307.9" r="0.34"/><circle cx="276.5" cy="326.1" r="0.40"/><circle cx="393.8" cy="356.3" r="0.58"/><circle cx="432.9" cy="439.6" r="0.38"/><circle cx="378.1" cy="390.5" r="0.34"/><circle cx="308.1" cy="387.6" r="0.45"/><circle cx="279.8" cy="455.6" r="0.35"/><circle cx="383.1" cy="418.8" r="0.48"/><circle cx="421.8" cy="392.6" r="0.55"/><circle cx="250.3" cy="306.3" r="0.49"/><circle cx="365.8" cy="407.2" r="0.53"/><circle cx="332.1" cy="405.2" r="0.45"/><circle cx="376.4" cy="347.0" r="0.59"/><circle cx="346.1" cy="432.8" r="0.51"/><circle cx="307.0" cy="310.9" r="0.32"/><circle cx="336.9" cy="379.4" r="0.36"/><circle cx="372.1" cy="350.8" r="0.52"/><circle cx="399.0" cy="442.1" r="0.59"/><circle cx="271.9" cy="360.4" r="0.47"/><circle cx="311.5" cy="376.4" r="0.38"/><circle cx="296.5" cy="314.8" r="0.39"/><circle cx="325.2" cy="401.2" r="0.37"/><circle cx="426.6" cy="325.3" r="0.40"/></g>
</g>
<rect x="244.3" y="298.7" width="210.7" height="166.60000000000002" fill="none" stroke="#000" stroke-width="1.3" stroke-dasharray="3,1.6"/>
<rect x="327.4" y="317" width="13.2" height="11.5" fill="none" stroke="#ee2020" stroke-width="1.3"/>
<line x1="313" y1="330.8" x2="321.5" y2="325.8" stroke="#ee2020" stroke-width="1.3"/><path d="M325.4 323.5 L322.5 327.5 L320.5 324.0 Z" fill="#ee2020"/>
<text x="293.3" y="339.5" font-size="9" font-weight="bold" text-anchor="middle" fill="#ee2020" >Recording</text>
<text x="293.3" y="350.2" font-size="9" font-weight="bold" text-anchor="middle" fill="#ee2020" >Sites</text>
<line x1="298.8" y1="415.4" x2="306.8" y2="397.8" stroke="#000" stroke-width="1.2"/><path d="M308.9 393.2 L308.9 398.7 L304.8 396.8 Z" fill="#000"/>
<text x="300.7" y="428.8" font-size="9" font-weight="bold" text-anchor="middle" fill="#000" >Transparent</text>
<text x="300.7" y="439.5" font-size="9" font-weight="bold" text-anchor="middle" fill="#000" >Interconnects</text>
<line x1="429.8" y1="457.3" x2="448.3" y2="457.3" stroke="#000" stroke-width="2"/>
<text x="464.2" y="292.5" font-size="12.5" font-weight="bold" text-anchor="start" fill="#000" >e</text>
<line x1="497.3" y1="446.6" x2="680.4" y2="446.6" stroke="#e84848" stroke-width="2.2"/>
<polyline points="497.3,446.6 497.7,446.6 498.0,446.6 498.4,446.6 498.8,446.6 499.1,446.6 499.5,446.6 499.9,446.6 500.3,446.6 500.6,446.6 501.0,446.6 501.4,446.6 501.7,446.1 502.1,445.2 502.5,444.4 502.8,443.5 503.2,442.7 503.6,441.7 503.9,440.8 504.3,439.9 504.7,438.9 505.0,437.9 505.4,436.8 505.8,435.8 506.2,434.8 506.5,433.7 506.9,432.6 507.3,431.5 507.6,430.4 508.0,429.3 508.4,428.2 508.7,427.1 509.1,426.0 509.5,425.0 509.8,423.9 510.2,422.8 510.6,421.7 510.9,420.7 511.3,419.6 511.7,418.6 512.1,417.6 512.4,416.6 512.8,415.6 513.2,414.7 513.5,413.7 513.9,412.7 514.3,411.7 514.6,410.7 515.0,409.8 515.4,408.8 515.7,407.8 516.1,406.9 516.5,405.9 516.8,405.0 517.2,404.0 517.6,403.0 518.0,402.1 518.3,401.1 518.7,400.2 519.1,399.2 519.4,398.3 519.8,397.3 520.2,396.4 520.5,395.4 520.9,394.5 521.3,393.5 521.6,392.6 522.0,391.6 522.4,390.7 522.7,389.7 523.1,388.8 523.5,387.8 523.9,386.8 524.2,385.9 524.6,384.9 525.0,384.0 525.3,383.0 525.7,382.1 526.1,381.1 526.4,380.1 526.8,379.2 527.2,378.2 527.5,377.2 527.9,376.2 528.3,375.2 528.6,374.1 529.0,373.1 529.4,372.1 529.8,371.0 530.1,370.0 530.5,369.0 530.9,367.9 531.2,366.9 531.6,365.9 532.0,364.9 532.3,364.0 532.7,363.0 533.1,362.1 533.4,361.2 533.8,360.3 534.2,359.4 534.5,358.5 534.9,357.7 535.3,357.0 535.7,356.2 536.0,355.4 536.4,354.7 536.8,353.9 537.1,353.2 537.5,352.4 537.9,351.7 538.2,351.0 538.6,350.3 539.0,349.7 539.3,349.0 539.7,348.4 540.1,347.8 540.4,347.2 540.8,346.7 541.2,346.1 541.6,345.7 541.9,345.2 542.3,344.8 542.7,344.4 543.0,344.0 543.4,343.6 543.8,343.2 544.1,342.8 544.5,342.4 544.9,342.0 545.2,341.6 545.6,341.3 546.0,340.9 546.4,340.6 546.7,340.3 547.1,340.0 547.5,339.7 547.8,339.5 548.2,339.3 548.6,339.1 548.9,339.0 549.3,338.8 549.7,338.8 550.0,338.7 550.4,338.7 550.8,338.7 551.1,338.8 551.5,338.8 551.9,338.9 552.3,339.0 552.6,339.1 553.0,339.2 553.4,339.3 553.7,339.5 554.1,339.6 554.5,339.8 554.8,339.9 555.2,340.1 555.6,340.2 555.9,340.4 556.3,340.5 556.7,340.7 557.0,340.8 557.4,341.0 557.8,341.1 558.2,341.3 558.5,341.4 558.9,341.5 559.3,341.7 559.6,341.8 560.0,342.0 560.4,342.2 560.7,342.3 561.1,342.5 561.5,342.7 561.8,342.9 562.2,343.0 562.6,343.2 562.9,343.4 563.3,343.5 563.7,343.7 564.1,343.9 564.4,344.0 564.8,344.2 565.2,344.3 565.5,344.5 565.9,344.6 566.3,344.7 566.6,344.8 567.0,344.9 567.4,345.0 567.7,345.1 568.1,345.2 568.5,345.2 568.8,345.2 569.2,345.3 569.6,345.3 570.0,345.3 570.3,345.3 570.7,345.4 571.1,345.4 571.4,345.4 571.8,345.4 572.2,345.5 572.5,345.5 572.9,345.5 573.3,345.5 573.6,345.6 574.0,345.6 574.4,345.6 574.7,345.6 575.1,345.6 575.5,345.7 575.9,345.7 576.2,345.7 576.6,345.7 577.0,345.7 577.3,345.7 577.7,345.7 578.1,345.7 578.4,345.7 578.8,345.8 579.2,345.8 579.5,345.8 579.9,345.8 580.3,345.8 580.6,345.8 581.0,345.8 581.4,345.8 581.8,345.8 582.1,345.8 582.5,345.7 582.9,345.7 583.2,345.7 583.6,345.7 584.0,345.6 584.3,345.6 584.7,345.5 585.1,345.5 585.4,345.4 585.8,345.3 586.2,345.3 586.5,345.2 586.9,345.1 587.3,345.1 587.7,345.0 588.0,344.9 588.4,344.8 588.8,344.8 589.1,344.7 589.5,344.6 589.9,344.5 590.2,344.4 590.6,344.4 591.0,344.3 591.3,344.2 591.7,344.2 592.1,344.1 592.5,344.0 592.8,343.9 593.2,343.9 593.6,343.8 593.9,343.7 594.3,343.6 594.7,343.5 595.0,343.4 595.4,343.3 595.8,343.3 596.1,343.2 596.5,343.1 596.9,343.0 597.2,342.9 597.6,342.8 598.0,342.7 598.4,342.6 598.7,342.5 599.1,342.4 599.5,342.3 599.8,342.2 600.2,342.1 600.6,342.0 600.9,341.9 601.3,341.8 601.7,341.7 602.0,341.6 602.4,341.5 602.8,341.4 603.1,341.3 603.5,341.3 603.9,341.2 604.3,341.1 604.6,341.0 605.0,340.9 605.4,340.8 605.7,340.7 606.1,340.6 606.5,340.5 606.8,340.4 607.2,340.2 607.6,340.1 607.9,340.0 608.3,339.9 608.7,339.8 609.0,339.7 609.4,339.6 609.8,339.5 610.2,339.4 610.5,339.3 610.9,339.2 611.3,339.1 611.6,339.0 612.0,338.9 612.4,338.9 612.7,338.8 613.1,338.7 613.5,338.6 613.8,338.5 614.2,338.4 614.6,338.3 614.9,338.2 615.3,338.1 615.7,338.0 616.1,337.9 616.4,337.8 616.8,337.7 617.2,337.6 617.5,337.6 617.9,337.5 618.3,337.4 618.6,337.3 619.0,337.2 619.4,337.1 619.7,337.0 620.1,336.9 620.5,336.8 620.8,336.7 621.2,336.7 621.6,336.6 622.0,336.5 622.3,336.4 622.7,336.3 623.1,336.2 623.4,336.1 623.8,336.0 624.2,336.0 624.5,335.9 624.9,335.8 625.3,335.7 625.6,335.6 626.0,335.5 626.4,335.4 626.7,335.3 627.1,335.2 627.5,335.1 627.9,335.1 628.2,335.0 628.6,334.9 629.0,334.8 629.3,334.7 629.7,334.6 630.1,334.5 630.4,334.4 630.8,334.4 631.2,334.3 631.5,334.2 631.9,334.1 632.3,334.0 632.6,333.9 633.0,333.8 633.4,333.8 633.8,333.7 634.1,333.6 634.5,333.5 634.9,333.4 635.2,333.4 635.6,333.3 636.0,333.2 636.3,333.1 636.7,333.1 637.1,333.0 637.4,332.9 637.8,332.8 638.2,332.8 638.6,332.7 638.9,332.6 639.3,332.6 639.7,332.5 640.0,332.4 640.4,332.4 640.8,332.3 641.1,332.2 641.5,332.2 641.9,332.1 642.2,332.0 642.6,332.0 643.0,331.9 643.3,331.8 643.7,331.8 644.1,331.7 644.5,331.6 644.8,331.6 645.2,331.5 645.6,331.5 645.9,331.4 646.3,331.4 646.7,331.3 647.0,331.3 647.4,331.2 647.8,331.2 648.1,331.1 648.5,331.1 648.9,331.0 649.2,331.0 649.6,331.0 650.0,330.9 650.4,330.9 650.7,330.8 651.1,330.8 651.5,330.8 651.8,330.7 652.2,330.7 652.6,330.6 652.9,330.6 653.3,330.6 653.7,330.5 654.0,330.5 654.4,330.5 654.8,330.4 655.1,330.4 655.5,330.4 655.9,330.4 656.3,330.3 656.6,330.3 657.0,330.3 657.4,330.2 657.7,330.2 658.1,330.2 658.5,330.1 658.8,330.1 659.2,330.1 659.6,330.1 659.9,330.0 660.3,330.0 660.7,330.0 661.0,330.0 661.4,329.9 661.8,329.9 662.2,329.9 662.5,329.9 662.9,329.8 663.3,329.8 663.6,329.8 664.0,329.8 664.4,329.7 664.7,329.7 665.1,329.7 665.5,329.7 665.8,329.6 666.2,329.6 666.6,329.6 666.9,329.6 667.3,329.5 667.7,329.5 668.1,329.5 668.4,329.5 668.8,329.5 669.2,329.4 669.5,329.4 669.9,329.4 670.3,329.4 670.6,329.3 671.0,329.3 671.4,329.3 671.7,329.3 672.1,329.3 672.5,329.2 672.8,329.2 673.2,329.2 673.6,329.2 674.0,329.2 674.3,329.1 674.7,329.1 675.1,329.1 675.4,329.1 675.8,329.1 676.2,329.0 676.5,329.0 676.9,329.0 677.3,329.0 677.6,329.0 678.0,329.0 678.4,328.9 678.7,328.9 679.1,328.9 679.5,328.9 679.9,328.9 680.2,328.9 680.6,328.9 681.0,328.8 681.3,328.8 681.7,328.8" fill="none" stroke="#2f6fe0" stroke-width="2.4" stroke-linejoin="round"/>
<polyline points="497.3,446.6 497.7,446.6 498.0,446.6 498.4,446.6 498.8,446.6 499.1,446.6 499.5,446.6 499.9,446.6 500.3,446.6 500.6,446.6 501.0,446.6 501.4,446.6 501.7,432.1 502.1,411.2 502.5,399.4 502.8,389.7 503.2,383.0 503.6,378.7 503.9,375.5 504.3,373.1 504.7,370.9 505.0,368.9 505.4,367.2 505.8,365.7 506.2,364.6 506.5,363.8 506.9,363.3 507.3,362.8 507.6,362.4 508.0,362.1 508.4,361.8 508.7,361.5 509.1,361.2 509.5,360.9 509.8,360.6 510.2,360.3 510.6,360.0 510.9,359.7 511.3,359.4 511.7,359.1 512.1,358.8 512.4,358.5 512.8,358.2 513.2,357.9 513.5,357.6 513.9,357.3 514.3,357.0 514.6,356.7 515.0,356.4 515.4,356.2 515.7,355.9 516.1,355.6 516.5,355.4 516.8,355.1 517.2,354.9 517.6,354.7 518.0,354.5 518.3,354.2 518.7,354.0 519.1,353.8 519.4,353.6 519.8,353.4 520.2,353.2 520.5,353.0 520.9,352.8 521.3,352.6 521.6,352.4 522.0,352.2 522.4,352.1 522.7,351.9 523.1,351.7 523.5,351.5 523.9,351.3 524.2,351.2 524.6,351.0 525.0,350.8 525.3,350.7 525.7,350.5 526.1,350.3 526.4,350.2 526.8,350.0 527.2,349.9 527.5,349.7 527.9,349.6 528.3,349.4 528.6,349.3 529.0,349.1 529.4,349.0 529.8,348.8 530.1,348.7 530.5,348.6 530.9,348.4 531.2,348.3 531.6,348.2 532.0,348.0 532.3,347.9 532.7,347.8 533.1,347.6 533.4,347.5 533.8,347.4 534.2,347.2 534.5,347.1 534.9,347.0 535.3,346.9 535.7,346.7 536.0,346.6 536.4,346.5 536.8,346.4 537.1,346.3 537.5,346.1 537.9,346.0 538.2,345.9 538.6,345.8 539.0,345.7 539.3,345.6 539.7,345.4 540.1,345.3 540.4,345.2 540.8,345.1 541.2,345.0 541.6,344.9 541.9,344.8 542.3,344.7 542.7,344.6 543.0,344.5 543.4,344.4 543.8,344.3 544.1,344.2 544.5,344.1 544.9,344.0 545.2,343.9 545.6,343.8 546.0,343.7 546.4,343.6 546.7,343.6 547.1,343.5 547.5,343.4 547.8,343.3 548.2,343.2 548.6,343.1 548.9,343.0 549.3,343.0 549.7,342.9 550.0,342.8 550.4,342.7 550.8,342.7 551.1,342.6 551.5,342.5 551.9,342.4 552.3,342.4 552.6,342.3 553.0,342.2 553.4,342.1 553.7,342.1 554.1,342.0 554.5,341.9 554.8,341.9 555.2,341.8 555.6,341.7 555.9,341.7 556.3,341.6 556.7,341.5 557.0,341.5 557.4,341.4 557.8,341.3 558.2,341.3 558.5,341.2 558.9,341.1 559.3,341.1 559.6,341.0 560.0,341.0 560.4,340.9 560.7,340.8 561.1,340.8 561.5,340.7 561.8,340.6 562.2,340.6 562.6,340.5 562.9,340.5 563.3,340.4 563.7,340.3 564.1,340.3 564.4,340.2 564.8,340.2 565.2,340.1 565.5,340.0 565.9,340.0 566.3,339.9 566.6,339.9 567.0,339.8 567.4,339.7 567.7,339.7 568.1,339.6 568.5,339.5 568.8,339.5 569.2,339.4 569.6,339.4 570.0,339.3 570.3,339.2 570.7,339.2 571.1,339.1 571.4,339.1 571.8,339.0 572.2,338.9 572.5,338.9 572.9,338.8 573.3,338.8 573.6,338.7 574.0,338.7 574.4,338.6 574.7,338.5 575.1,338.5 575.5,338.4 575.9,338.4 576.2,338.3 576.6,338.3 577.0,338.2 577.3,338.2 577.7,338.1 578.1,338.1 578.4,338.1 578.8,338.0 579.2,338.0 579.5,337.9 579.9,337.9 580.3,337.9 580.6,337.8 581.0,337.8 581.4,337.8 581.8,337.7 582.1,337.7 582.5,337.7 582.9,337.6 583.2,337.6 583.6,337.6 584.0,337.5 584.3,337.5 584.7,337.5 585.1,337.4 585.4,337.4 585.8,337.4 586.2,337.3 586.5,337.3 586.9,337.3 587.3,337.3 587.7,337.2 588.0,337.2 588.4,337.2 588.8,337.1 589.1,337.1 589.5,337.1 589.9,337.1 590.2,337.0 590.6,337.0 591.0,337.0 591.3,337.0 591.7,336.9 592.1,336.9 592.5,336.9 592.8,336.8 593.2,336.8 593.6,336.8 593.9,336.8 594.3,336.8 594.7,336.7 595.0,336.7 595.4,336.7 595.8,336.7 596.1,336.6 596.5,336.6 596.9,336.6 597.2,336.6 597.6,336.5 598.0,336.5 598.4,336.5 598.7,336.5 599.1,336.5 599.5,336.4 599.8,336.4 600.2,336.4 600.6,336.4 600.9,336.4 601.3,336.3 601.7,336.3 602.0,336.3 602.4,336.3 602.8,336.3 603.1,336.2 603.5,336.2 603.9,336.2 604.3,336.2 604.6,336.2 605.0,336.2 605.4,336.1 605.7,336.1 606.1,336.1 606.5,336.1 606.8,336.1 607.2,336.1 607.6,336.0 607.9,336.0 608.3,336.0 608.7,336.0 609.0,336.0 609.4,336.0 609.8,335.9 610.2,335.9 610.5,335.9 610.9,335.9 611.3,335.9 611.6,335.9 612.0,335.9 612.4,335.8 612.7,335.8 613.1,335.8 613.5,335.8 613.8,335.8 614.2,335.8 614.6,335.8 614.9,335.8 615.3,335.7 615.7,335.7 616.1,335.7 616.4,335.7 616.8,335.7 617.2,335.7 617.5,335.7 617.9,335.6 618.3,335.6 618.6,335.6 619.0,335.6 619.4,335.6 619.7,335.6 620.1,335.6 620.5,335.6 620.8,335.6 621.2,335.5 621.6,335.5 622.0,335.5 622.3,335.5 622.7,335.5 623.1,335.5 623.4,335.5 623.8,335.5 624.2,335.4 624.5,335.4 624.9,335.4 625.3,335.4 625.6,335.4 626.0,335.4 626.4,335.4 626.7,335.4 627.1,335.4 627.5,335.4 627.9,335.3 628.2,335.3 628.6,335.3 629.0,335.3 629.3,335.3 629.7,335.3 630.1,335.3 630.4,335.3 630.8,335.3 631.2,335.3 631.5,335.2 631.9,335.2 632.3,335.2 632.6,335.2 633.0,335.2 633.4,335.2 633.8,335.2 634.1,335.2 634.5,335.2 634.9,335.2 635.2,335.1 635.6,335.1 636.0,335.1 636.3,335.1 636.7,335.1 637.1,335.1 637.4,335.1 637.8,335.1 638.2,335.1 638.6,335.1 638.9,335.0 639.3,335.0 639.7,335.0 640.0,335.0 640.4,335.0 640.8,335.0 641.1,335.0 641.5,335.0 641.9,335.0 642.2,335.0 642.6,335.0 643.0,334.9 643.3,334.9 643.7,334.9 644.1,334.9 644.5,334.9 644.8,334.9 645.2,334.9 645.6,334.9 645.9,334.9 646.3,334.9 646.7,334.8 647.0,334.8 647.4,334.8 647.8,334.8 648.1,334.8 648.5,334.8 648.9,334.8 649.2,334.8 649.6,334.8 650.0,334.8 650.4,334.8 650.7,334.7 651.1,334.7 651.5,334.7 651.8,334.7 652.2,334.7 652.6,334.7 652.9,334.7 653.3,334.7 653.7,334.7 654.0,334.7 654.4,334.6 654.8,334.6 655.1,334.6 655.5,334.6 655.9,334.6 656.3,334.6 656.6,334.6 657.0,334.6 657.4,334.6 657.7,334.6 658.1,334.6 658.5,334.6 658.8,334.5 659.2,334.5 659.6,334.5 659.9,334.5 660.3,334.5 660.7,334.5 661.0,334.5 661.4,334.5 661.8,334.5 662.2,334.5 662.5,334.5 662.9,334.4 663.3,334.4 663.6,334.4 664.0,334.4 664.4,334.4 664.7,334.4 665.1,334.4 665.5,334.4 665.8,334.4 666.2,334.4 666.6,334.4 666.9,334.4 667.3,334.3 667.7,334.3 668.1,334.3 668.4,334.3 668.8,334.3 669.2,334.3 669.5,334.3 669.9,334.3 670.3,334.3 670.6,334.3 671.0,334.3 671.4,334.3 671.7,334.2 672.1,334.2 672.5,334.2 672.8,334.2 673.2,334.2 673.6,334.2 674.0,334.2 674.3,334.2 674.7,334.2 675.1,334.2 675.4,334.2 675.8,334.2 676.2,334.2 676.5,334.1 676.9,334.1 677.3,334.1 677.6,334.1 678.0,334.1 678.4,334.1 678.7,334.1 679.1,334.1 679.5,334.1 679.9,334.1 680.2,334.1 680.6,334.1 681.0,334.1 681.3,334.1 681.7,334.0" fill="none" stroke="#2fa062" stroke-width="2.4" stroke-linejoin="round"/>
<polyline points="497.3,446.6 497.7,446.6 498.0,446.6 498.4,446.6 498.8,446.6 499.1,446.6 499.5,446.6 499.9,446.6 500.3,446.6 500.6,446.6 501.0,446.6 501.4,446.6 501.7,429.3 502.1,404.2 502.5,389.2 502.8,376.7 503.2,368.8 503.6,364.6 503.9,361.4 504.3,359.0 504.7,357.0 505.0,355.0 505.4,353.3 505.8,351.7 506.2,350.6 506.5,349.8 506.9,349.3 507.3,348.9 507.6,348.5 508.0,348.2 508.4,347.9 508.7,347.6 509.1,347.2 509.5,346.9 509.8,346.6 510.2,346.2 510.6,345.9 510.9,345.5 511.3,345.2 511.7,344.8 512.1,344.5 512.4,344.2 512.8,343.8 513.2,343.5 513.5,343.2 513.9,342.9 514.3,342.6 514.6,342.3 515.0,342.1 515.4,341.8 515.7,341.5 516.1,341.3 516.5,341.1 516.8,340.9 517.2,340.7 517.6,340.5 518.0,340.3 518.3,340.2 518.7,340.0 519.1,339.9 519.4,339.8 519.8,339.6 520.2,339.5 520.5,339.4 520.9,339.2 521.3,339.1 521.6,339.0 522.0,338.9 522.4,338.8 522.7,338.7 523.1,338.6 523.5,338.5 523.9,338.4 524.2,338.3 524.6,338.2 525.0,338.1 525.3,338.0 525.7,337.9 526.1,337.8 526.4,337.7 526.8,337.6 527.2,337.6 527.5,337.5 527.9,337.4 528.3,337.3 528.6,337.3 529.0,337.2 529.4,337.1 529.8,337.1 530.1,337.0 530.5,336.9 530.9,336.9 531.2,336.8 531.6,336.7 532.0,336.7 532.3,336.6 532.7,336.5 533.1,336.5 533.4,336.4 533.8,336.4 534.2,336.3 534.5,336.2 534.9,336.2 535.3,336.1 535.7,336.1 536.0,336.0 536.4,336.0 536.8,335.9 537.1,335.8 537.5,335.8 537.9,335.7 538.2,335.7 538.6,335.6 539.0,335.6 539.3,335.5 539.7,335.5 540.1,335.5 540.4,335.4 540.8,335.4 541.2,335.3 541.6,335.3 541.9,335.2 542.3,335.2 542.7,335.2 543.0,335.1 543.4,335.1 543.8,335.0 544.1,335.0 544.5,335.0 544.9,334.9 545.2,334.9 545.6,334.9 546.0,334.9 546.4,334.8 546.7,334.8 547.1,334.8 547.5,334.8 547.8,334.7 548.2,334.7 548.6,334.7 548.9,334.7 549.3,334.6 549.7,334.6 550.0,334.6 550.4,334.6 550.8,334.6 551.1,334.5 551.5,334.5 551.9,334.5 552.3,334.5 552.6,334.5 553.0,334.4 553.4,334.4 553.7,334.4 554.1,334.4 554.5,334.4 554.8,334.4 555.2,334.3 555.6,334.3 555.9,334.3 556.3,334.3 556.7,334.3 557.0,334.3 557.4,334.2 557.8,334.2 558.2,334.2 558.5,334.2 558.9,334.2 559.3,334.2 559.6,334.2 560.0,334.2 560.4,334.1 560.7,334.1 561.1,334.1 561.5,334.1 561.8,334.1 562.2,334.1 562.6,334.1 562.9,334.1 563.3,334.1 563.7,334.1 564.1,334.1 564.4,334.1 564.8,334.0 565.2,334.0 565.5,334.0 565.9,334.0 566.3,334.0 566.6,334.0 567.0,334.0 567.4,334.0 567.7,334.0 568.1,334.0 568.5,334.0 568.8,334.0 569.2,334.0 569.6,334.0 570.0,334.0 570.3,334.0 570.7,334.0 571.1,334.0 571.4,333.9 571.8,333.9 572.2,333.9 572.5,333.9 572.9,333.9 573.3,333.9 573.6,333.9 574.0,333.9 574.4,333.9 574.7,333.9 575.1,333.9 575.5,333.9 575.9,333.9 576.2,333.9 576.6,333.9 577.0,333.9 577.3,333.9 577.7,333.9 578.1,333.9 578.4,333.9 578.8,333.9 579.2,333.9 579.5,333.9 579.9,333.9 580.3,333.9 580.6,333.9 581.0,333.9 581.4,333.9 581.8,333.9 582.1,333.9 582.5,333.9 582.9,333.9 583.2,333.9 583.6,334.0 584.0,334.0 584.3,334.0 584.7,334.0 585.1,334.0 585.4,334.0 585.8,334.0 586.2,334.0 586.5,334.0 586.9,334.0 587.3,334.0 587.7,334.0 588.0,334.0 588.4,334.1 588.8,334.1 589.1,334.1 589.5,334.1 589.9,334.1 590.2,334.1 590.6,334.1 591.0,334.1 591.3,334.1 591.7,334.1 592.1,334.2 592.5,334.2 592.8,334.2 593.2,334.2 593.6,334.2 593.9,334.2 594.3,334.2 594.7,334.2 595.0,334.2 595.4,334.3 595.8,334.3 596.1,334.3 596.5,334.3 596.9,334.3 597.2,334.3 597.6,334.3 598.0,334.4 598.4,334.4 598.7,334.4 599.1,334.4 599.5,334.4 599.8,334.4 600.2,334.5 600.6,334.5 600.9,334.5 601.3,334.5 601.7,334.5 602.0,334.6 602.4,334.6 602.8,334.6 603.1,334.6 603.5,334.6 603.9,334.7 604.3,334.7 604.6,334.7 605.0,334.7 605.4,334.7 605.7,334.8 606.1,334.8 606.5,334.8 606.8,334.8 607.2,334.9 607.6,334.9 607.9,334.9 608.3,334.9 608.7,334.9 609.0,335.0 609.4,335.0 609.8,335.0 610.2,335.0 610.5,335.1 610.9,335.1 611.3,335.1 611.6,335.1 612.0,335.2 612.4,335.2 612.7,335.2 613.1,335.2 613.5,335.3 613.8,335.3 614.2,335.3 614.6,335.3 614.9,335.4 615.3,335.4 615.7,335.4 616.1,335.4 616.4,335.5 616.8,335.5 617.2,335.5 617.5,335.6 617.9,335.6 618.3,335.6 618.6,335.6 619.0,335.7 619.4,335.7 619.7,335.7 620.1,335.8 620.5,335.8 620.8,335.8 621.2,335.9 621.6,335.9 622.0,335.9 622.3,336.0 622.7,336.0 623.1,336.0 623.4,336.0 623.8,336.1 624.2,336.1 624.5,336.1 624.9,336.2 625.3,336.2 625.6,336.2 626.0,336.3 626.4,336.3 626.7,336.3 627.1,336.4 627.5,336.4 627.9,336.4 628.2,336.5 628.6,336.5 629.0,336.6 629.3,336.6 629.7,336.6 630.1,336.7 630.4,336.7 630.8,336.7 631.2,336.8 631.5,336.8 631.9,336.9 632.3,336.9 632.6,337.0 633.0,337.0 633.4,337.0 633.8,337.1 634.1,337.1 634.5,337.2 634.9,337.2 635.2,337.2 635.6,337.3 636.0,337.3 636.3,337.4 636.7,337.4 637.1,337.5 637.4,337.5 637.8,337.5 638.2,337.6 638.6,337.6 638.9,337.7 639.3,337.7 639.7,337.7 640.0,337.8 640.4,337.8 640.8,337.9 641.1,337.9 641.5,338.0 641.9,338.0 642.2,338.0 642.6,338.1 643.0,338.1 643.3,338.1 643.7,338.2 644.1,338.2 644.5,338.3 644.8,338.3 645.2,338.3 645.6,338.4 645.9,338.4 646.3,338.4 646.7,338.5 647.0,338.5 647.4,338.5 647.8,338.6 648.1,338.6 648.5,338.6 648.9,338.7 649.2,338.7 649.6,338.7 650.0,338.8 650.4,338.8 650.7,338.8 651.1,338.8 651.5,338.9 651.8,338.9 652.2,338.9 652.6,339.0 652.9,339.0 653.3,339.0 653.7,339.1 654.0,339.1 654.4,339.1 654.8,339.2 655.1,339.2 655.5,339.2 655.9,339.2 656.3,339.3 656.6,339.3 657.0,339.3 657.4,339.4 657.7,339.4 658.1,339.4 658.5,339.5 658.8,339.5 659.2,339.5 659.6,339.5 659.9,339.6 660.3,339.6 660.7,339.6 661.0,339.7 661.4,339.7 661.8,339.7 662.2,339.8 662.5,339.8 662.9,339.8 663.3,339.8 663.6,339.9 664.0,339.9 664.4,339.9 664.7,340.0 665.1,340.0 665.5,340.0 665.8,340.0 666.2,340.1 666.6,340.1 666.9,340.1 667.3,340.2 667.7,340.2 668.1,340.2 668.4,340.3 668.8,340.3 669.2,340.3 669.5,340.3 669.9,340.4 670.3,340.4 670.6,340.4 671.0,340.5 671.4,340.5 671.7,340.5 672.1,340.5 672.5,340.6 672.8,340.6 673.2,340.6 673.6,340.7 674.0,340.7 674.3,340.7 674.7,340.7 675.1,340.8 675.4,340.8 675.8,340.8 676.2,340.8 676.5,340.9 676.9,340.9 677.3,340.9 677.6,341.0 678.0,341.0 678.4,341.0 678.7,341.0 679.1,341.1 679.5,341.1 679.9,341.1 680.2,341.1 680.6,341.2 681.0,341.2 681.3,341.2 681.7,341.3" fill="none" stroke="#a66be0" stroke-width="2.4" stroke-linejoin="round"/>
<polyline points="497.3,446.6 497.7,446.6 498.0,446.6 498.4,446.6 498.8,446.6 499.1,446.6 499.5,446.6 499.9,446.6 500.3,446.6 500.6,446.6 501.0,439.0 501.4,421.9 501.7,404.2 502.1,386.1 502.5,367.1 502.8,354.7 503.2,348.8 503.6,344.6 503.9,342.0 504.3,340.3 504.7,338.9 505.0,337.8 505.4,337.0 505.8,336.3 506.2,335.7 506.5,335.2 506.9,334.8 507.3,334.4 507.6,334.1 508.0,333.8 508.4,333.5 508.7,333.2 509.1,333.0 509.5,332.8 509.8,332.6 510.2,332.4 510.6,332.3 510.9,332.1 511.3,332.0 511.7,331.8 512.1,331.6 512.4,331.5 512.8,331.3 513.2,331.1 513.5,330.9 513.9,330.7 514.3,330.5 514.6,330.3 515.0,330.1 515.4,329.8 515.7,329.6 516.1,329.4 516.5,329.2 516.8,329.0 517.2,328.8 517.6,328.6 518.0,328.5 518.3,328.3 518.7,328.1 519.1,328.0 519.4,327.8 519.8,327.7 520.2,327.5 520.5,327.4 520.9,327.3 521.3,327.2 521.6,327.0 522.0,326.9 522.4,326.8 522.7,326.7 523.1,326.5 523.5,326.4 523.9,326.3 524.2,326.2 524.6,326.1 525.0,326.0 525.3,325.9 525.7,325.8 526.1,325.7 526.4,325.6 526.8,325.5 527.2,325.4 527.5,325.3 527.9,325.2 528.3,325.1 528.6,325.0 529.0,324.9 529.4,324.9 529.8,324.8 530.1,324.7 530.5,324.6 530.9,324.5 531.2,324.4 531.6,324.4 532.0,324.3 532.3,324.2 532.7,324.1 533.1,324.0 533.4,324.0 533.8,323.9 534.2,323.8 534.5,323.7 534.9,323.6 535.3,323.6 535.7,323.5 536.0,323.4 536.4,323.4 536.8,323.3 537.1,323.2 537.5,323.1 537.9,323.1 538.2,323.0 538.6,322.9 539.0,322.9 539.3,322.8 539.7,322.7 540.1,322.7 540.4,322.6 540.8,322.5 541.2,322.5 541.6,322.4 541.9,322.3 542.3,322.3 542.7,322.2 543.0,322.2 543.4,322.1 543.8,322.0 544.1,322.0 544.5,321.9 544.9,321.9 545.2,321.8 545.6,321.7 546.0,321.7 546.4,321.6 546.7,321.6 547.1,321.5 547.5,321.5 547.8,321.4 548.2,321.4 548.6,321.3 548.9,321.2 549.3,321.2 549.7,321.1 550.0,321.1 550.4,321.0 550.8,321.0 551.1,320.9 551.5,320.9 551.9,320.8 552.3,320.8 552.6,320.7 553.0,320.7 553.4,320.6 553.7,320.6 554.1,320.6 554.5,320.5 554.8,320.5 555.2,320.4 555.6,320.4 555.9,320.3 556.3,320.3 556.7,320.2 557.0,320.2 557.4,320.2 557.8,320.1 558.2,320.1 558.5,320.0 558.9,320.0 559.3,319.9 559.6,319.9 560.0,319.8 560.4,319.8 560.7,319.8 561.1,319.7 561.5,319.7 561.8,319.6 562.2,319.6 562.6,319.6 562.9,319.5 563.3,319.5 563.7,319.4 564.1,319.4 564.4,319.3 564.8,319.3 565.2,319.3 565.5,319.2 565.9,319.2 566.3,319.1 566.6,319.1 567.0,319.0 567.4,319.0 567.7,319.0 568.1,318.9 568.5,318.9 568.8,318.8 569.2,318.8 569.6,318.7 570.0,318.7 570.3,318.6 570.7,318.6 571.1,318.6 571.4,318.5 571.8,318.5 572.2,318.4 572.5,318.4 572.9,318.4 573.3,318.3 573.6,318.3 574.0,318.2 574.4,318.2 574.7,318.2 575.1,318.1 575.5,318.1 575.9,318.0 576.2,318.0 576.6,318.0 577.0,317.9 577.3,317.9 577.7,317.9 578.1,317.8 578.4,317.8 578.8,317.8 579.2,317.7 579.5,317.7 579.9,317.7 580.3,317.6 580.6,317.6 581.0,317.6 581.4,317.6 581.8,317.5 582.1,317.5 582.5,317.5 582.9,317.5 583.2,317.4 583.6,317.4 584.0,317.4 584.3,317.3 584.7,317.3 585.1,317.3 585.4,317.3 585.8,317.2 586.2,317.2 586.5,317.2 586.9,317.2 587.3,317.2 587.7,317.1 588.0,317.1 588.4,317.1 588.8,317.1 589.1,317.0 589.5,317.0 589.9,317.0 590.2,317.0 590.6,316.9 591.0,316.9 591.3,316.9 591.7,316.9 592.1,316.9 592.5,316.8 592.8,316.8 593.2,316.8 593.6,316.8 593.9,316.8 594.3,316.7 594.7,316.7 595.0,316.7 595.4,316.7 595.8,316.7 596.1,316.6 596.5,316.6 596.9,316.6 597.2,316.6 597.6,316.6 598.0,316.5 598.4,316.5 598.7,316.5 599.1,316.5 599.5,316.5 599.8,316.4 600.2,316.4 600.6,316.4 600.9,316.4 601.3,316.4 601.7,316.4 602.0,316.3 602.4,316.3 602.8,316.3 603.1,316.3 603.5,316.3 603.9,316.3 604.3,316.2 604.6,316.2 605.0,316.2 605.4,316.2 605.7,316.2 606.1,316.2 606.5,316.1 606.8,316.1 607.2,316.1 607.6,316.1 607.9,316.1 608.3,316.1 608.7,316.1 609.0,316.0 609.4,316.0 609.8,316.0 610.2,316.0 610.5,316.0 610.9,316.0 611.3,316.0 611.6,315.9 612.0,315.9 612.4,315.9 612.7,315.9 613.1,315.9 613.5,315.9 613.8,315.9 614.2,315.8 614.6,315.8 614.9,315.8 615.3,315.8 615.7,315.8 616.1,315.8 616.4,315.8 616.8,315.8 617.2,315.7 617.5,315.7 617.9,315.7 618.3,315.7 618.6,315.7 619.0,315.7 619.4,315.7 619.7,315.7 620.1,315.6 620.5,315.6 620.8,315.6 621.2,315.6 621.6,315.6 622.0,315.6 622.3,315.6 622.7,315.6 623.1,315.5 623.4,315.5 623.8,315.5 624.2,315.5 624.5,315.5 624.9,315.5 625.3,315.5 625.6,315.5 626.0,315.5 626.4,315.4 626.7,315.4 627.1,315.4 627.5,315.4 627.9,315.4 628.2,315.4 628.6,315.4 629.0,315.4 629.3,315.4 629.7,315.3 630.1,315.3 630.4,315.3 630.8,315.3 631.2,315.3 631.5,315.3 631.9,315.3 632.3,315.3 632.6,315.3 633.0,315.3 633.4,315.2 633.8,315.2 634.1,315.2 634.5,315.2 634.9,315.2 635.2,315.2 635.6,315.2 636.0,315.2 636.3,315.2 636.7,315.2 637.1,315.1 637.4,315.1 637.8,315.1 638.2,315.1 638.6,315.1 638.9,315.1 639.3,315.1 639.7,315.1 640.0,315.1 640.4,315.1 640.8,315.1 641.1,315.0 641.5,315.0 641.9,315.0 642.2,315.0 642.6,315.0 643.0,315.0 643.3,315.0 643.7,315.0 644.1,315.0 644.5,315.0 644.8,315.0 645.2,314.9 645.6,314.9 645.9,314.9 646.3,314.9 646.7,314.9 647.0,314.9 647.4,314.9 647.8,314.9 648.1,314.9 648.5,314.9 648.9,314.9 649.2,314.9 649.6,314.8 650.0,314.8 650.4,314.8 650.7,314.8 651.1,314.8 651.5,314.8 651.8,314.8 652.2,314.8 652.6,314.8 652.9,314.8 653.3,314.8 653.7,314.8 654.0,314.7 654.4,314.7 654.8,314.7 655.1,314.7 655.5,314.7 655.9,314.7 656.3,314.7 656.6,314.7 657.0,314.7 657.4,314.7 657.7,314.7 658.1,314.7 658.5,314.7 658.8,314.6 659.2,314.6 659.6,314.6 659.9,314.6 660.3,314.6 660.7,314.6 661.0,314.6 661.4,314.6 661.8,314.6 662.2,314.6 662.5,314.6 662.9,314.6 663.3,314.6 663.6,314.5 664.0,314.5 664.4,314.5 664.7,314.5 665.1,314.5 665.5,314.5 665.8,314.5 666.2,314.5 666.6,314.5 666.9,314.5 667.3,314.5 667.7,314.5 668.1,314.5 668.4,314.5 668.8,314.5 669.2,314.4 669.5,314.4 669.9,314.4 670.3,314.4 670.6,314.4 671.0,314.4 671.4,314.4 671.7,314.4 672.1,314.4 672.5,314.4 672.8,314.4 673.2,314.4 673.6,314.4 674.0,314.4 674.3,314.4 674.7,314.4 675.1,314.3 675.4,314.3 675.8,314.3 676.2,314.3 676.5,314.3 676.9,314.3 677.3,314.3 677.6,314.3 678.0,314.3 678.4,314.3 678.7,314.3 679.1,314.3 679.5,314.3 679.9,314.3 680.2,314.3 680.6,314.3 681.0,314.3 681.3,314.3 681.7,314.2" fill="none" stroke="#4d4d4d" stroke-width="2.4" stroke-linejoin="round"/>
<rect x="497.3" y="304.4" width="183.59999999999997" height="149.0" fill="none" stroke="#000" stroke-width="1.7"/>
<line x1="494.3" y1="305.2" x2="497.3" y2="305.2" stroke="#000" stroke-width="1.2"/>
<text x="489.0" y="308.2" font-size="8.2" font-weight="bold" text-anchor="end" fill="#000" >100</text>
<line x1="494.3" y1="340.6" x2="497.3" y2="340.6" stroke="#000" stroke-width="1.2"/>
<text x="489.0" y="343.6" font-size="8.2" font-weight="bold" text-anchor="end" fill="#000" >75</text>
<line x1="494.3" y1="375.9" x2="497.3" y2="375.9" stroke="#000" stroke-width="1.2"/>
<text x="489.0" y="378.9" font-size="8.2" font-weight="bold" text-anchor="end" fill="#000" >50</text>
<line x1="494.3" y1="411.2" x2="497.3" y2="411.2" stroke="#000" stroke-width="1.2"/>
<text x="489.0" y="414.2" font-size="8.2" font-weight="bold" text-anchor="end" fill="#000" >25</text>
<line x1="494.3" y1="446.6" x2="497.3" y2="446.6" stroke="#000" stroke-width="1.2"/>
<text x="489.0" y="449.6" font-size="8.2" font-weight="bold" text-anchor="end" fill="#000" >0</text>
<line x1="497.3" y1="453.4" x2="497.3" y2="456.4" stroke="#000" stroke-width="1.2"/>
<text x="497.3" y="466.7" font-size="8.3" font-weight="bold" text-anchor="middle" fill="#000" >300</text>
<line x1="534.2" y1="453.4" x2="534.2" y2="456.4" stroke="#000" stroke-width="1.2"/>
<text x="534.2" y="466.7" font-size="8.3" font-weight="bold" text-anchor="middle" fill="#000" >400</text>
<line x1="571.1" y1="453.4" x2="571.1" y2="456.4" stroke="#000" stroke-width="1.2"/>
<text x="571.1" y="466.7" font-size="8.3" font-weight="bold" text-anchor="middle" fill="#000" >500</text>
<line x1="607.9" y1="453.4" x2="607.9" y2="456.4" stroke="#000" stroke-width="1.2"/>
<text x="607.9" y="466.7" font-size="8.3" font-weight="bold" text-anchor="middle" fill="#000" >600</text>
<line x1="644.8" y1="453.4" x2="644.8" y2="456.4" stroke="#000" stroke-width="1.2"/>
<text x="644.8" y="466.7" font-size="8.3" font-weight="bold" text-anchor="middle" fill="#000" >700</text>
<line x1="681.7" y1="453.4" x2="681.7" y2="456.4" stroke="#000" stroke-width="1.2"/>
<text x="677.4" y="466.7" font-size="8.3" font-weight="bold" text-anchor="middle" fill="#000" >800</text>
<text x="590.8" y="480.4" font-size="9.1" font-weight="bold" text-anchor="middle" fill="#000" >Wavelength (nm)</text>
<text x="0.0" y="0.0" font-size="9.15" font-weight="bold" text-anchor="middle" fill="#000" transform="translate(475.2,379) rotate(-90)">Transmittance (%)</text>
<line x1="599.9" y1="373.9" x2="618.5" y2="373.9" stroke="#4d4d4d" stroke-width="1.8"/>
<path d="M609.2 370.9L612.2 373.9L609.2 376.9L606.2 373.9Z" fill="#4d4d4d"/>
<text x="622.2" y="376.7" font-size="7.6" font-weight="bold" text-anchor="start" fill="#000" >PET</text>
<line x1="599.9" y1="386.9" x2="618.5" y2="386.9" stroke="#e84848" stroke-width="1.8"/>
<path d="M606.2 384.6L612.2 384.6L609.2 389.9Z" fill="#e84848"/>
<text x="622.2" y="389.8" font-size="7.6" font-weight="bold" text-anchor="start" fill="#000" >Pt</text>
<line x1="599.9" y1="400.0" x2="618.5" y2="400.0" stroke="#2f6fe0" stroke-width="1.8"/>
<path d="M606.2 402.4L612.2 402.4L609.2 397.0Z" fill="#2f6fe0"/>
<text x="622.2" y="402.8" font-size="7.6" font-weight="bold" text-anchor="start" fill="#000" >ITO</text>
<line x1="599.9" y1="413.0" x2="618.5" y2="413.0" stroke="#2fa062" stroke-width="1.8"/>
<circle cx="609.2" cy="413.0" r="2.7" fill="#2fa062"/>
<text x="622.2" y="415.8" font-size="7.6" font-weight="bold" text-anchor="start" fill="#000" >Graphene</text>
<line x1="599.9" y1="426.1" x2="618.5" y2="426.1" stroke="#a66be0" stroke-width="1.8"/>
<rect x="606.7" y="423.5" width="5.1" height="5.1" fill="#a66be0"/>
<text x="622.2" y="428.9" font-size="7.6" font-weight="bold" text-anchor="start" fill="#000" >Our work</text>
<text x="6.3" y="496.0" font-size="12.5" font-weight="bold" text-anchor="start" fill="#000" >f</text>
<polyline points="37.7,609.3 41.4,610.3 45.1,611.3 48.8,612.3 52.5,613.2 56.2,614.0 60.0,614.7 63.7,615.4 67.4,616.1 71.1,616.7 74.8,617.5 78.5,618.4 82.2,619.5 85.9,620.6 89.6,621.6 93.4,622.5 97.1,623.2 100.8,623.9 104.5,624.5 108.2,625.0 111.9,625.4 115.6,625.7 119.3,625.9 123.0,626.2 126.7,626.4 130.5,626.6 134.2,626.7 137.9,626.9 141.6,627.0 145.3,627.1 149.0,627.2 152.7,627.3 156.4,627.4 160.1,627.4 163.8,627.5 167.6,627.5 171.3,627.6 175.0,627.7 178.7,627.7 182.4,627.7 186.1,627.8 189.8,627.9 193.5,627.9 197.2,628.0 200.9,628.0 204.7,628.0 208.4,628.1 212.1,628.1 215.8,628.2 219.5,628.2 223.2,628.3" fill="none" stroke="#d4a010" stroke-width="3.4" />
<rect x="36.1" y="607.6" width="3.2" height="3.4" fill="#d4a010"/>
<rect x="39.8" y="608.6" width="3.2" height="3.4" fill="#d4a010"/>
<rect x="43.5" y="609.6" width="3.2" height="3.4" fill="#d4a010"/>
<rect x="47.2" y="610.6" width="3.2" height="3.4" fill="#d4a010"/>
<rect x="50.9" y="611.5" width="3.2" height="3.4" fill="#d4a010"/>
<rect x="54.6" y="612.3" width="3.2" height="3.4" fill="#d4a010"/>
<rect x="58.4" y="613.0" width="3.2" height="3.4" fill="#d4a010"/>
<rect x="62.1" y="613.7" width="3.2" height="3.4" fill="#d4a010"/>
<rect x="65.8" y="614.4" width="3.2" height="3.4" fill="#d4a010"/>
<rect x="69.5" y="615.0" width="3.2" height="3.4" fill="#d4a010"/>
<rect x="73.2" y="615.8" width="3.2" height="3.4" fill="#d4a010"/>
<rect x="76.9" y="616.7" width="3.2" height="3.4" fill="#d4a010"/>
<rect x="80.6" y="617.8" width="3.2" height="3.4" fill="#d4a010"/>
<rect x="84.3" y="618.9" width="3.2" height="3.4" fill="#d4a010"/>
<rect x="88.0" y="619.9" width="3.2" height="3.4" fill="#d4a010"/>
<rect x="91.8" y="620.8" width="3.2" height="3.4" fill="#d4a010"/>
<rect x="95.5" y="621.5" width="3.2" height="3.4" fill="#d4a010"/>
<rect x="99.2" y="622.2" width="3.2" height="3.4" fill="#d4a010"/>
<rect x="102.9" y="622.8" width="3.2" height="3.4" fill="#d4a010"/>
<rect x="106.6" y="623.3" width="3.2" height="3.4" fill="#d4a010"/>
<rect x="110.3" y="623.7" width="3.2" height="3.4" fill="#d4a010"/>
<rect x="114.0" y="624.0" width="3.2" height="3.4" fill="#d4a010"/>
<rect x="117.7" y="624.2" width="3.2" height="3.4" fill="#d4a010"/>
<rect x="121.4" y="624.5" width="3.2" height="3.4" fill="#d4a010"/>
<rect x="125.1" y="624.7" width="3.2" height="3.4" fill="#d4a010"/>
<rect x="128.9" y="624.9" width="3.2" height="3.4" fill="#d4a010"/>
<rect x="132.6" y="625.0" width="3.2" height="3.4" fill="#d4a010"/>
<rect x="136.3" y="625.2" width="3.2" height="3.4" fill="#d4a010"/>
<rect x="140.0" y="625.3" width="3.2" height="3.4" fill="#d4a010"/>
<rect x="143.7" y="625.4" width="3.2" height="3.4" fill="#d4a010"/>
<rect x="147.4" y="625.5" width="3.2" height="3.4" fill="#d4a010"/>
<rect x="151.1" y="625.6" width="3.2" height="3.4" fill="#d4a010"/>
<rect x="154.8" y="625.7" width="3.2" height="3.4" fill="#d4a010"/>
<rect x="158.5" y="625.7" width="3.2" height="3.4" fill="#d4a010"/>
<rect x="162.2" y="625.8" width="3.2" height="3.4" fill="#d4a010"/>
<rect x="166.0" y="625.8" width="3.2" height="3.4" fill="#d4a010"/>
<rect x="169.7" y="625.9" width="3.2" height="3.4" fill="#d4a010"/>
<rect x="173.4" y="626.0" width="3.2" height="3.4" fill="#d4a010"/>
<rect x="177.1" y="626.0" width="3.2" height="3.4" fill="#d4a010"/>
<rect x="180.8" y="626.0" width="3.2" height="3.4" fill="#d4a010"/>
<rect x="184.5" y="626.1" width="3.2" height="3.4" fill="#d4a010"/>
<rect x="188.2" y="626.2" width="3.2" height="3.4" fill="#d4a010"/>
<rect x="191.9" y="626.2" width="3.2" height="3.4" fill="#d4a010"/>
<rect x="195.6" y="626.3" width="3.2" height="3.4" fill="#d4a010"/>
<rect x="199.3" y="626.3" width="3.2" height="3.4" fill="#d4a010"/>
<rect x="203.1" y="626.3" width="3.2" height="3.4" fill="#d4a010"/>
<rect x="206.8" y="626.4" width="3.2" height="3.4" fill="#d4a010"/>
<rect x="210.5" y="626.4" width="3.2" height="3.4" fill="#d4a010"/>
<rect x="214.2" y="626.5" width="3.2" height="3.4" fill="#d4a010"/>
<rect x="217.9" y="626.5" width="3.2" height="3.4" fill="#d4a010"/>
<rect x="221.6" y="626.6" width="3.2" height="3.4" fill="#d4a010"/>
<polyline points="37.7,607.5 41.4,608.5 45.1,609.4 48.8,610.3 52.5,611.2 56.2,612.0 60.0,612.7 63.7,613.4 67.4,614.1 71.1,614.8 74.8,615.5 78.5,616.3 82.2,617.1 85.9,618.0 89.6,618.8 93.4,619.5 97.1,620.2 100.8,620.8 104.5,621.4 108.2,621.9 111.9,622.2 115.6,622.4 119.3,622.7 123.0,622.9 126.7,623.1 130.5,623.2 134.2,623.4 137.9,623.5 141.6,623.6 145.3,623.7 149.0,623.8 152.7,623.9 156.4,624.0 160.1,624.0 163.8,624.1 167.6,624.1 171.3,624.2 175.0,624.2 178.7,624.3 182.4,624.3 186.1,624.4 189.8,624.5 193.5,624.5 197.2,624.6 200.9,624.6 204.7,624.7 208.4,624.7 212.1,624.8 215.8,624.8 219.5,624.9 223.2,624.9" fill="none" stroke="#a874e4" stroke-width="3.0" />
<rect x="36.1" y="606.0" width="3.2" height="3.0" fill="#a874e4"/>
<rect x="39.8" y="607.0" width="3.2" height="3.0" fill="#a874e4"/>
<rect x="43.5" y="607.9" width="3.2" height="3.0" fill="#a874e4"/>
<rect x="47.2" y="608.8" width="3.2" height="3.0" fill="#a874e4"/>
<rect x="50.9" y="609.7" width="3.2" height="3.0" fill="#a874e4"/>
<rect x="54.6" y="610.5" width="3.2" height="3.0" fill="#a874e4"/>
<rect x="58.4" y="611.2" width="3.2" height="3.0" fill="#a874e4"/>
<rect x="62.1" y="611.9" width="3.2" height="3.0" fill="#a874e4"/>
<rect x="65.8" y="612.6" width="3.2" height="3.0" fill="#a874e4"/>
<rect x="69.5" y="613.3" width="3.2" height="3.0" fill="#a874e4"/>
<rect x="73.2" y="614.0" width="3.2" height="3.0" fill="#a874e4"/>
<rect x="76.9" y="614.8" width="3.2" height="3.0" fill="#a874e4"/>
<rect x="80.6" y="615.6" width="3.2" height="3.0" fill="#a874e4"/>
<rect x="84.3" y="616.5" width="3.2" height="3.0" fill="#a874e4"/>
<rect x="88.0" y="617.3" width="3.2" height="3.0" fill="#a874e4"/>
<rect x="91.8" y="618.0" width="3.2" height="3.0" fill="#a874e4"/>
<rect x="95.5" y="618.7" width="3.2" height="3.0" fill="#a874e4"/>
<rect x="99.2" y="619.3" width="3.2" height="3.0" fill="#a874e4"/>
<rect x="102.9" y="619.9" width="3.2" height="3.0" fill="#a874e4"/>
<rect x="106.6" y="620.4" width="3.2" height="3.0" fill="#a874e4"/>
<rect x="110.3" y="620.7" width="3.2" height="3.0" fill="#a874e4"/>
<rect x="114.0" y="620.9" width="3.2" height="3.0" fill="#a874e4"/>
<rect x="117.7" y="621.2" width="3.2" height="3.0" fill="#a874e4"/>
<rect x="121.4" y="621.4" width="3.2" height="3.0" fill="#a874e4"/>
<rect x="125.1" y="621.6" width="3.2" height="3.0" fill="#a874e4"/>
<rect x="128.9" y="621.7" width="3.2" height="3.0" fill="#a874e4"/>
<rect x="132.6" y="621.9" width="3.2" height="3.0" fill="#a874e4"/>
<rect x="136.3" y="622.0" width="3.2" height="3.0" fill="#a874e4"/>
<rect x="140.0" y="622.1" width="3.2" height="3.0" fill="#a874e4"/>
<rect x="143.7" y="622.2" width="3.2" height="3.0" fill="#a874e4"/>
<rect x="147.4" y="622.3" width="3.2" height="3.0" fill="#a874e4"/>
<rect x="151.1" y="622.4" width="3.2" height="3.0" fill="#a874e4"/>
<rect x="154.8" y="622.5" width="3.2" height="3.0" fill="#a874e4"/>
<rect x="158.5" y="622.5" width="3.2" height="3.0" fill="#a874e4"/>
<rect x="162.2" y="622.6" width="3.2" height="3.0" fill="#a874e4"/>
<rect x="166.0" y="622.6" width="3.2" height="3.0" fill="#a874e4"/>
<rect x="169.7" y="622.7" width="3.2" height="3.0" fill="#a874e4"/>
<rect x="173.4" y="622.7" width="3.2" height="3.0" fill="#a874e4"/>
<rect x="177.1" y="622.8" width="3.2" height="3.0" fill="#a874e4"/>
<rect x="180.8" y="622.8" width="3.2" height="3.0" fill="#a874e4"/>
<rect x="184.5" y="622.9" width="3.2" height="3.0" fill="#a874e4"/>
<rect x="188.2" y="623.0" width="3.2" height="3.0" fill="#a874e4"/>
<rect x="191.9" y="623.0" width="3.2" height="3.0" fill="#a874e4"/>
<rect x="195.6" y="623.1" width="3.2" height="3.0" fill="#a874e4"/>
<rect x="199.3" y="623.1" width="3.2" height="3.0" fill="#a874e4"/>
<rect x="203.1" y="623.2" width="3.2" height="3.0" fill="#a874e4"/>
<rect x="206.8" y="623.2" width="3.2" height="3.0" fill="#a874e4"/>
<rect x="210.5" y="623.3" width="3.2" height="3.0" fill="#a874e4"/>
<rect x="214.2" y="623.3" width="3.2" height="3.0" fill="#a874e4"/>
<rect x="217.9" y="623.4" width="3.2" height="3.0" fill="#a874e4"/>
<rect x="221.6" y="623.4" width="3.2" height="3.0" fill="#a874e4"/>
<polyline points="37.7,605.5 41.4,606.6 45.1,607.6 48.8,608.6 52.5,609.6 56.2,610.5 60.0,611.4 63.7,612.2 67.4,613.0 71.1,613.8 74.8,614.5 78.5,615.2 82.2,615.9 85.9,616.6 89.6,617.2 93.4,617.8 97.1,618.3 100.8,618.8 104.5,619.3 108.2,619.7 111.9,620.0 115.6,620.3 119.3,620.5 123.0,620.7 126.7,620.9 130.5,621.1 134.2,621.3 137.9,621.4 141.6,621.6 145.3,621.7 149.0,621.8 152.7,621.9 156.4,622.0 160.1,622.1 163.8,622.1 167.6,622.2 171.3,622.3 175.0,622.3 178.7,622.4 182.4,622.4 186.1,622.5 189.8,622.6 193.5,622.6 197.2,622.7 200.9,622.7 204.7,622.8 208.4,622.8 212.1,622.8 215.8,622.9 219.5,622.9 223.2,623.0" fill="none" stroke="#3aa060" stroke-width="1.6" />
<rect x="36.1" y="604.7" width="3.2" height="1.6" fill="#3aa060"/>
<rect x="39.8" y="605.8" width="3.2" height="1.6" fill="#3aa060"/>
<rect x="43.5" y="606.8" width="3.2" height="1.6" fill="#3aa060"/>
<rect x="47.2" y="607.8" width="3.2" height="1.6" fill="#3aa060"/>
<rect x="50.9" y="608.8" width="3.2" height="1.6" fill="#3aa060"/>
<rect x="54.6" y="609.7" width="3.2" height="1.6" fill="#3aa060"/>
<rect x="58.4" y="610.6" width="3.2" height="1.6" fill="#3aa060"/>
<rect x="62.1" y="611.4" width="3.2" height="1.6" fill="#3aa060"/>
<rect x="65.8" y="612.2" width="3.2" height="1.6" fill="#3aa060"/>
<rect x="69.5" y="613.0" width="3.2" height="1.6" fill="#3aa060"/>
<rect x="73.2" y="613.7" width="3.2" height="1.6" fill="#3aa060"/>
<rect x="76.9" y="614.4" width="3.2" height="1.6" fill="#3aa060"/>
<rect x="80.6" y="615.1" width="3.2" height="1.6" fill="#3aa060"/>
<rect x="84.3" y="615.8" width="3.2" height="1.6" fill="#3aa060"/>
<rect x="88.0" y="616.4" width="3.2" height="1.6" fill="#3aa060"/>
<rect x="91.8" y="617.0" width="3.2" height="1.6" fill="#3aa060"/>
<rect x="95.5" y="617.5" width="3.2" height="1.6" fill="#3aa060"/>
<rect x="99.2" y="618.0" width="3.2" height="1.6" fill="#3aa060"/>
<rect x="102.9" y="618.5" width="3.2" height="1.6" fill="#3aa060"/>
<rect x="106.6" y="618.9" width="3.2" height="1.6" fill="#3aa060"/>
<rect x="110.3" y="619.2" width="3.2" height="1.6" fill="#3aa060"/>
<rect x="114.0" y="619.5" width="3.2" height="1.6" fill="#3aa060"/>
<rect x="117.7" y="619.7" width="3.2" height="1.6" fill="#3aa060"/>
<rect x="121.4" y="619.9" width="3.2" height="1.6" fill="#3aa060"/>
<rect x="125.1" y="620.1" width="3.2" height="1.6" fill="#3aa060"/>
<rect x="128.9" y="620.3" width="3.2" height="1.6" fill="#3aa060"/>
<rect x="132.6" y="620.5" width="3.2" height="1.6" fill="#3aa060"/>
<rect x="136.3" y="620.6" width="3.2" height="1.6" fill="#3aa060"/>
<rect x="140.0" y="620.8" width="3.2" height="1.6" fill="#3aa060"/>
<rect x="143.7" y="620.9" width="3.2" height="1.6" fill="#3aa060"/>
<rect x="147.4" y="621.0" width="3.2" height="1.6" fill="#3aa060"/>
<rect x="151.1" y="621.1" width="3.2" height="1.6" fill="#3aa060"/>
<rect x="154.8" y="621.2" width="3.2" height="1.6" fill="#3aa060"/>
<rect x="158.5" y="621.3" width="3.2" height="1.6" fill="#3aa060"/>
<rect x="162.2" y="621.3" width="3.2" height="1.6" fill="#3aa060"/>
<rect x="166.0" y="621.4" width="3.2" height="1.6" fill="#3aa060"/>
<rect x="169.7" y="621.5" width="3.2" height="1.6" fill="#3aa060"/>
<rect x="173.4" y="621.5" width="3.2" height="1.6" fill="#3aa060"/>
<rect x="177.1" y="621.6" width="3.2" height="1.6" fill="#3aa060"/>
<rect x="180.8" y="621.6" width="3.2" height="1.6" fill="#3aa060"/>
<rect x="184.5" y="621.7" width="3.2" height="1.6" fill="#3aa060"/>
<rect x="188.2" y="621.8" width="3.2" height="1.6" fill="#3aa060"/>
<rect x="191.9" y="621.8" width="3.2" height="1.6" fill="#3aa060"/>
<rect x="195.6" y="621.9" width="3.2" height="1.6" fill="#3aa060"/>
<rect x="199.3" y="621.9" width="3.2" height="1.6" fill="#3aa060"/>
<rect x="203.1" y="622.0" width="3.2" height="1.6" fill="#3aa060"/>
<rect x="206.8" y="622.0" width="3.2" height="1.6" fill="#3aa060"/>
<rect x="210.5" y="622.0" width="3.2" height="1.6" fill="#3aa060"/>
<rect x="214.2" y="622.1" width="3.2" height="1.6" fill="#3aa060"/>
<rect x="217.9" y="622.1" width="3.2" height="1.6" fill="#3aa060"/>
<rect x="221.6" y="622.2" width="3.2" height="1.6" fill="#3aa060"/>
<polyline points="37.7,604.0 41.4,605.1 45.1,606.1 48.8,607.1 52.5,608.1 56.2,609.0 60.0,609.9 63.7,610.7 67.4,611.5 71.1,612.2 74.8,612.9 78.5,613.6 82.2,614.2 85.9,614.9 89.6,615.5 93.4,616.0 97.1,616.5 100.8,617.0 104.5,617.4 108.2,617.8 111.9,618.1 115.6,618.3 119.3,618.6 123.0,618.8 126.7,619.0 130.5,619.1 134.2,619.3 137.9,619.4 141.6,619.6 145.3,619.7 149.0,619.8 152.7,619.9 156.4,620.0 160.1,620.1 163.8,620.1 167.6,620.2 171.3,620.3 175.0,620.3 178.7,620.4 182.4,620.4 186.1,620.5 189.8,620.6 193.5,620.6 197.2,620.7 200.9,620.7 204.7,620.8 208.4,620.8 212.1,620.8 215.8,620.9 219.5,620.9 223.2,621.0" fill="none" stroke="#505050" stroke-width="1.4" />
<rect x="36.1" y="603.3" width="3.2" height="1.4" fill="#505050"/>
<rect x="39.8" y="604.4" width="3.2" height="1.4" fill="#505050"/>
<rect x="43.5" y="605.4" width="3.2" height="1.4" fill="#505050"/>
<rect x="47.2" y="606.4" width="3.2" height="1.4" fill="#505050"/>
<rect x="50.9" y="607.4" width="3.2" height="1.4" fill="#505050"/>
<rect x="54.6" y="608.3" width="3.2" height="1.4" fill="#505050"/>
<rect x="58.4" y="609.2" width="3.2" height="1.4" fill="#505050"/>
<rect x="62.1" y="610.0" width="3.2" height="1.4" fill="#505050"/>
<rect x="65.8" y="610.8" width="3.2" height="1.4" fill="#505050"/>
<rect x="69.5" y="611.5" width="3.2" height="1.4" fill="#505050"/>
<rect x="73.2" y="612.2" width="3.2" height="1.4" fill="#505050"/>
<rect x="76.9" y="612.9" width="3.2" height="1.4" fill="#505050"/>
<rect x="80.6" y="613.5" width="3.2" height="1.4" fill="#505050"/>
<rect x="84.3" y="614.2" width="3.2" height="1.4" fill="#505050"/>
<rect x="88.0" y="614.8" width="3.2" height="1.4" fill="#505050"/>
<rect x="91.8" y="615.3" width="3.2" height="1.4" fill="#505050"/>
<rect x="95.5" y="615.8" width="3.2" height="1.4" fill="#505050"/>
<rect x="99.2" y="616.3" width="3.2" height="1.4" fill="#505050"/>
<rect x="102.9" y="616.7" width="3.2" height="1.4" fill="#505050"/>
<rect x="106.6" y="617.1" width="3.2" height="1.4" fill="#505050"/>
<rect x="110.3" y="617.4" width="3.2" height="1.4" fill="#505050"/>
<rect x="114.0" y="617.6" width="3.2" height="1.4" fill="#505050"/>
<rect x="117.7" y="617.9" width="3.2" height="1.4" fill="#505050"/>
<rect x="121.4" y="618.1" width="3.2" height="1.4" fill="#505050"/>
<rect x="125.1" y="618.3" width="3.2" height="1.4" fill="#505050"/>
<rect x="128.9" y="618.4" width="3.2" height="1.4" fill="#505050"/>
<rect x="132.6" y="618.6" width="3.2" height="1.4" fill="#505050"/>
<rect x="136.3" y="618.7" width="3.2" height="1.4" fill="#505050"/>
<rect x="140.0" y="618.9" width="3.2" height="1.4" fill="#505050"/>
<rect x="143.7" y="619.0" width="3.2" height="1.4" fill="#505050"/>
<rect x="147.4" y="619.1" width="3.2" height="1.4" fill="#505050"/>
<rect x="151.1" y="619.2" width="3.2" height="1.4" fill="#505050"/>
<rect x="154.8" y="619.3" width="3.2" height="1.4" fill="#505050"/>
<rect x="158.5" y="619.4" width="3.2" height="1.4" fill="#505050"/>
<rect x="162.2" y="619.4" width="3.2" height="1.4" fill="#505050"/>
<rect x="166.0" y="619.5" width="3.2" height="1.4" fill="#505050"/>
<rect x="169.7" y="619.6" width="3.2" height="1.4" fill="#505050"/>
<rect x="173.4" y="619.6" width="3.2" height="1.4" fill="#505050"/>
<rect x="177.1" y="619.7" width="3.2" height="1.4" fill="#505050"/>
<rect x="180.8" y="619.7" width="3.2" height="1.4" fill="#505050"/>
<rect x="184.5" y="619.8" width="3.2" height="1.4" fill="#505050"/>
<rect x="188.2" y="619.9" width="3.2" height="1.4" fill="#505050"/>
<rect x="191.9" y="619.9" width="3.2" height="1.4" fill="#505050"/>
<rect x="195.6" y="620.0" width="3.2" height="1.4" fill="#505050"/>
<rect x="199.3" y="620.0" width="3.2" height="1.4" fill="#505050"/>
<rect x="203.1" y="620.1" width="3.2" height="1.4" fill="#505050"/>
<rect x="206.8" y="620.1" width="3.2" height="1.4" fill="#505050"/>
<rect x="210.5" y="620.1" width="3.2" height="1.4" fill="#505050"/>
<rect x="214.2" y="620.2" width="3.2" height="1.4" fill="#505050"/>
<rect x="217.9" y="620.2" width="3.2" height="1.4" fill="#505050"/>
<rect x="221.6" y="620.3" width="3.2" height="1.4" fill="#505050"/>
<polyline points="37.7,604.5 41.4,605.6 45.1,606.6 48.8,607.6 52.5,608.6 56.2,609.5 60.0,610.4 63.7,611.2 67.4,612.0 71.1,612.7 74.8,613.4 78.5,614.1 82.2,614.7 85.9,615.4 89.6,616.0 93.4,616.5 97.1,617.0 100.8,617.5 104.5,617.9 108.2,618.3 111.9,618.6 115.6,618.8 119.3,619.1 123.0,619.3 126.7,619.5 130.5,619.6 134.2,619.8 137.9,619.9 141.6,620.1 145.3,620.2 149.0,620.3 152.7,620.4 156.4,620.5 160.1,620.6 163.8,620.6 167.6,620.7 171.3,620.8 175.0,620.8 178.7,620.9 182.4,620.9 186.1,621.0 189.8,621.1 193.5,621.1 197.2,621.2 200.9,621.2 204.7,621.3 208.4,621.3 212.1,621.3 215.8,621.4 219.5,621.4 223.2,621.5" fill="none" stroke="#e04a40" stroke-width="1.6" />
<rect x="36.1" y="603.7" width="3.2" height="1.6" fill="#e04a40"/>
<rect x="39.8" y="604.8" width="3.2" height="1.6" fill="#e04a40"/>
<rect x="43.5" y="605.8" width="3.2" height="1.6" fill="#e04a40"/>
<rect x="47.2" y="606.8" width="3.2" height="1.6" fill="#e04a40"/>
<rect x="50.9" y="607.8" width="3.2" height="1.6" fill="#e04a40"/>
<rect x="54.6" y="608.7" width="3.2" height="1.6" fill="#e04a40"/>
<rect x="58.4" y="609.6" width="3.2" height="1.6" fill="#e04a40"/>
<rect x="62.1" y="610.4" width="3.2" height="1.6" fill="#e04a40"/>
<rect x="65.8" y="611.2" width="3.2" height="1.6" fill="#e04a40"/>
<rect x="69.5" y="611.9" width="3.2" height="1.6" fill="#e04a40"/>
<rect x="73.2" y="612.6" width="3.2" height="1.6" fill="#e04a40"/>
<rect x="76.9" y="613.3" width="3.2" height="1.6" fill="#e04a40"/>
<rect x="80.6" y="613.9" width="3.2" height="1.6" fill="#e04a40"/>
<rect x="84.3" y="614.6" width="3.2" height="1.6" fill="#e04a40"/>
<rect x="88.0" y="615.2" width="3.2" height="1.6" fill="#e04a40"/>
<rect x="91.8" y="615.7" width="3.2" height="1.6" fill="#e04a40"/>
<rect x="95.5" y="616.2" width="3.2" height="1.6" fill="#e04a40"/>
<rect x="99.2" y="616.7" width="3.2" height="1.6" fill="#e04a40"/>
<rect x="102.9" y="617.1" width="3.2" height="1.6" fill="#e04a40"/>
<rect x="106.6" y="617.5" width="3.2" height="1.6" fill="#e04a40"/>
<rect x="110.3" y="617.8" width="3.2" height="1.6" fill="#e04a40"/>
<rect x="114.0" y="618.0" width="3.2" height="1.6" fill="#e04a40"/>
<rect x="117.7" y="618.3" width="3.2" height="1.6" fill="#e04a40"/>
<rect x="121.4" y="618.5" width="3.2" height="1.6" fill="#e04a40"/>
<rect x="125.1" y="618.7" width="3.2" height="1.6" fill="#e04a40"/>
<rect x="128.9" y="618.8" width="3.2" height="1.6" fill="#e04a40"/>
<rect x="132.6" y="619.0" width="3.2" height="1.6" fill="#e04a40"/>
<rect x="136.3" y="619.1" width="3.2" height="1.6" fill="#e04a40"/>
<rect x="140.0" y="619.3" width="3.2" height="1.6" fill="#e04a40"/>
<rect x="143.7" y="619.4" width="3.2" height="1.6" fill="#e04a40"/>
<rect x="147.4" y="619.5" width="3.2" height="1.6" fill="#e04a40"/>
<rect x="151.1" y="619.6" width="3.2" height="1.6" fill="#e04a40"/>
<rect x="154.8" y="619.7" width="3.2" height="1.6" fill="#e04a40"/>
<rect x="158.5" y="619.8" width="3.2" height="1.6" fill="#e04a40"/>
<rect x="162.2" y="619.8" width="3.2" height="1.6" fill="#e04a40"/>
<rect x="166.0" y="619.9" width="3.2" height="1.6" fill="#e04a40"/>
<rect x="169.7" y="620.0" width="3.2" height="1.6" fill="#e04a40"/>
<rect x="173.4" y="620.0" width="3.2" height="1.6" fill="#e04a40"/>
<rect x="177.1" y="620.1" width="3.2" height="1.6" fill="#e04a40"/>
<rect x="180.8" y="620.1" width="3.2" height="1.6" fill="#e04a40"/>
<rect x="184.5" y="620.2" width="3.2" height="1.6" fill="#e04a40"/>
<rect x="188.2" y="620.3" width="3.2" height="1.6" fill="#e04a40"/>
<rect x="191.9" y="620.3" width="3.2" height="1.6" fill="#e04a40"/>
<rect x="195.6" y="620.4" width="3.2" height="1.6" fill="#e04a40"/>
<rect x="199.3" y="620.4" width="3.2" height="1.6" fill="#e04a40"/>
<rect x="203.1" y="620.5" width="3.2" height="1.6" fill="#e04a40"/>
<rect x="206.8" y="620.5" width="3.2" height="1.6" fill="#e04a40"/>
<rect x="210.5" y="620.5" width="3.2" height="1.6" fill="#e04a40"/>
<rect x="214.2" y="620.6" width="3.2" height="1.6" fill="#e04a40"/>
<rect x="217.9" y="620.6" width="3.2" height="1.6" fill="#e04a40"/>
<rect x="221.6" y="620.7" width="3.2" height="1.6" fill="#e04a40"/>
<polyline points="37.7,601.0 41.4,602.1 45.1,603.1 48.8,604.1 52.5,605.1 56.2,606.0 60.0,606.9 63.7,607.7 67.4,608.6 71.1,609.3 74.8,609.9 78.5,610.4 82.2,610.9 85.9,611.3 89.6,611.7 93.4,612.0 97.1,612.2 100.8,612.4 104.5,612.6 108.2,612.8 111.9,612.9 115.6,613.0 119.3,613.1 123.0,613.2 126.7,613.3 130.5,613.3 134.2,613.4 137.9,613.4 141.6,613.5 145.3,613.5 149.0,613.6 152.7,613.6 156.4,613.7 160.1,613.7 163.8,613.8 167.6,613.8 171.3,613.8 175.0,613.9 178.7,613.9 182.4,614.0 186.1,614.0 189.8,614.0 193.5,614.1 197.2,614.1 200.9,614.2 204.7,614.2 208.4,614.3 212.1,614.3 215.8,614.4 219.5,614.4 223.2,614.5" fill="none" stroke="#22c6c8" stroke-width="4.0" />
<rect x="36.1" y="599.0" width="3.2" height="4.0" fill="#22c6c8"/>
<rect x="39.8" y="600.1" width="3.2" height="4.0" fill="#22c6c8"/>
<rect x="43.5" y="601.1" width="3.2" height="4.0" fill="#22c6c8"/>
<rect x="47.2" y="602.1" width="3.2" height="4.0" fill="#22c6c8"/>
<rect x="50.9" y="603.1" width="3.2" height="4.0" fill="#22c6c8"/>
<rect x="54.6" y="604.0" width="3.2" height="4.0" fill="#22c6c8"/>
<rect x="58.4" y="604.9" width="3.2" height="4.0" fill="#22c6c8"/>
<rect x="62.1" y="605.7" width="3.2" height="4.0" fill="#22c6c8"/>
<rect x="65.8" y="606.6" width="3.2" height="4.0" fill="#22c6c8"/>
<rect x="69.5" y="607.3" width="3.2" height="4.0" fill="#22c6c8"/>
<rect x="73.2" y="607.9" width="3.2" height="4.0" fill="#22c6c8"/>
<rect x="76.9" y="608.4" width="3.2" height="4.0" fill="#22c6c8"/>
<rect x="80.6" y="608.9" width="3.2" height="4.0" fill="#22c6c8"/>
<rect x="84.3" y="609.3" width="3.2" height="4.0" fill="#22c6c8"/>
<rect x="88.0" y="609.7" width="3.2" height="4.0" fill="#22c6c8"/>
<rect x="91.8" y="610.0" width="3.2" height="4.0" fill="#22c6c8"/>
<rect x="95.5" y="610.2" width="3.2" height="4.0" fill="#22c6c8"/>
<rect x="99.2" y="610.4" width="3.2" height="4.0" fill="#22c6c8"/>
<rect x="102.9" y="610.6" width="3.2" height="4.0" fill="#22c6c8"/>
<rect x="106.6" y="610.8" width="3.2" height="4.0" fill="#22c6c8"/>
<rect x="110.3" y="610.9" width="3.2" height="4.0" fill="#22c6c8"/>
<rect x="114.0" y="611.0" width="3.2" height="4.0" fill="#22c6c8"/>
<rect x="117.7" y="611.1" width="3.2" height="4.0" fill="#22c6c8"/>
<rect x="121.4" y="611.2" width="3.2" height="4.0" fill="#22c6c8"/>
<rect x="125.1" y="611.3" width="3.2" height="4.0" fill="#22c6c8"/>
<rect x="128.9" y="611.3" width="3.2" height="4.0" fill="#22c6c8"/>
<rect x="132.6" y="611.4" width="3.2" height="4.0" fill="#22c6c8"/>
<rect x="136.3" y="611.4" width="3.2" height="4.0" fill="#22c6c8"/>
<rect x="140.0" y="611.5" width="3.2" height="4.0" fill="#22c6c8"/>
<rect x="143.7" y="611.5" width="3.2" height="4.0" fill="#22c6c8"/>
<rect x="147.4" y="611.6" width="3.2" height="4.0" fill="#22c6c8"/>
<rect x="151.1" y="611.6" width="3.2" height="4.0" fill="#22c6c8"/>
<rect x="154.8" y="611.7" width="3.2" height="4.0" fill="#22c6c8"/>
<rect x="158.5" y="611.7" width="3.2" height="4.0" fill="#22c6c8"/>
<rect x="162.2" y="611.8" width="3.2" height="4.0" fill="#22c6c8"/>
<rect x="166.0" y="611.8" width="3.2" height="4.0" fill="#22c6c8"/>
<rect x="169.7" y="611.8" width="3.2" height="4.0" fill="#22c6c8"/>
<rect x="173.4" y="611.9" width="3.2" height="4.0" fill="#22c6c8"/>
<rect x="177.1" y="611.9" width="3.2" height="4.0" fill="#22c6c8"/>
<rect x="180.8" y="612.0" width="3.2" height="4.0" fill="#22c6c8"/>
<rect x="184.5" y="612.0" width="3.2" height="4.0" fill="#22c6c8"/>
<rect x="188.2" y="612.0" width="3.2" height="4.0" fill="#22c6c8"/>
<rect x="191.9" y="612.1" width="3.2" height="4.0" fill="#22c6c8"/>
<rect x="195.6" y="612.1" width="3.2" height="4.0" fill="#22c6c8"/>
<rect x="199.3" y="612.2" width="3.2" height="4.0" fill="#22c6c8"/>
<rect x="203.1" y="612.2" width="3.2" height="4.0" fill="#22c6c8"/>
<rect x="206.8" y="612.3" width="3.2" height="4.0" fill="#22c6c8"/>
<rect x="210.5" y="612.3" width="3.2" height="4.0" fill="#22c6c8"/>
<rect x="214.2" y="612.4" width="3.2" height="4.0" fill="#22c6c8"/>
<rect x="217.9" y="612.4" width="3.2" height="4.0" fill="#22c6c8"/>
<rect x="221.6" y="612.5" width="3.2" height="4.0" fill="#22c6c8"/>
<line x1="37.7" y1="523.5" x2="37.7" y2="542.0" stroke="#8a8a8a" stroke-width="0.5"/>
<line x1="41.4" y1="523.9" x2="41.4" y2="542.4" stroke="#8a8a8a" stroke-width="0.5"/>
<line x1="45.1" y1="524.3" x2="45.1" y2="542.8" stroke="#8a8a8a" stroke-width="0.5"/>
<line x1="48.8" y1="524.7" x2="48.8" y2="543.2" stroke="#8a8a8a" stroke-width="0.5"/>
<line x1="52.5" y1="525.1" x2="52.5" y2="543.6" stroke="#8a8a8a" stroke-width="0.5"/>
<line x1="56.2" y1="525.5" x2="56.2" y2="544.0" stroke="#8a8a8a" stroke-width="0.5"/>
<line x1="60.0" y1="525.8" x2="60.0" y2="544.3" stroke="#8a8a8a" stroke-width="0.5"/>
<line x1="63.7" y1="526.1" x2="63.7" y2="544.6" stroke="#8a8a8a" stroke-width="0.5"/>
<line x1="67.4" y1="526.3" x2="67.4" y2="544.8" stroke="#8a8a8a" stroke-width="0.5"/>
<line x1="71.1" y1="526.6" x2="71.1" y2="545.1" stroke="#8a8a8a" stroke-width="0.5"/>
<line x1="74.8" y1="526.9" x2="74.8" y2="545.4" stroke="#8a8a8a" stroke-width="0.5"/>
<line x1="78.5" y1="527.0" x2="78.5" y2="545.5" stroke="#8a8a8a" stroke-width="0.5"/>
<line x1="82.2" y1="527.2" x2="82.2" y2="545.7" stroke="#8a8a8a" stroke-width="0.5"/>
<line x1="85.9" y1="527.3" x2="85.9" y2="545.8" stroke="#8a8a8a" stroke-width="0.5"/>
<line x1="89.6" y1="527.4" x2="89.6" y2="545.9" stroke="#8a8a8a" stroke-width="0.5"/>
<line x1="93.4" y1="527.6" x2="93.4" y2="546.1" stroke="#8a8a8a" stroke-width="0.5"/>
<line x1="97.1" y1="527.7" x2="97.1" y2="546.2" stroke="#8a8a8a" stroke-width="0.5"/>
<line x1="100.8" y1="527.8" x2="100.8" y2="546.3" stroke="#8a8a8a" stroke-width="0.5"/>
<line x1="104.5" y1="527.9" x2="104.5" y2="546.4" stroke="#8a8a8a" stroke-width="0.5"/>
<line x1="108.2" y1="528.1" x2="108.2" y2="546.6" stroke="#8a8a8a" stroke-width="0.5"/>
<line x1="111.9" y1="528.2" x2="111.9" y2="546.7" stroke="#8a8a8a" stroke-width="0.5"/>
<line x1="115.6" y1="528.3" x2="115.6" y2="546.8" stroke="#8a8a8a" stroke-width="0.5"/>
<line x1="119.3" y1="528.4" x2="119.3" y2="546.9" stroke="#8a8a8a" stroke-width="0.5"/>
<line x1="123.0" y1="528.5" x2="123.0" y2="547.0" stroke="#8a8a8a" stroke-width="0.5"/>
<line x1="126.7" y1="528.6" x2="126.7" y2="547.1" stroke="#8a8a8a" stroke-width="0.5"/>
<line x1="130.5" y1="528.7" x2="130.5" y2="547.2" stroke="#8a8a8a" stroke-width="0.5"/>
<line x1="134.2" y1="528.8" x2="134.2" y2="547.3" stroke="#8a8a8a" stroke-width="0.5"/>
<line x1="137.9" y1="528.9" x2="137.9" y2="547.4" stroke="#8a8a8a" stroke-width="0.5"/>
<line x1="141.6" y1="529.0" x2="141.6" y2="547.5" stroke="#8a8a8a" stroke-width="0.5"/>
<line x1="145.3" y1="529.1" x2="145.3" y2="547.6" stroke="#8a8a8a" stroke-width="0.5"/>
<line x1="149.0" y1="528.1" x2="149.0" y2="546.6" stroke="#8a8a8a" stroke-width="0.5"/>
<line x1="152.7" y1="529.1" x2="152.7" y2="546.8" stroke="#8a8a8a" stroke-width="0.5"/>
<line x1="156.4" y1="530.4" x2="156.4" y2="547.2" stroke="#8a8a8a" stroke-width="0.5"/>
<line x1="160.1" y1="531.7" x2="160.1" y2="547.7" stroke="#8a8a8a" stroke-width="0.5"/>
<line x1="163.8" y1="533.0" x2="163.8" y2="548.2" stroke="#8a8a8a" stroke-width="0.5"/>
<line x1="167.6" y1="534.4" x2="167.6" y2="548.7" stroke="#8a8a8a" stroke-width="0.5"/>
<line x1="171.3" y1="535.7" x2="171.3" y2="549.3" stroke="#8a8a8a" stroke-width="0.5"/>
<line x1="175.0" y1="537.1" x2="175.0" y2="549.8" stroke="#8a8a8a" stroke-width="0.5"/>
<line x1="178.7" y1="538.6" x2="178.7" y2="550.4" stroke="#8a8a8a" stroke-width="0.5"/>
<line x1="182.4" y1="541.0" x2="182.4" y2="552.1" stroke="#8a8a8a" stroke-width="0.5"/>
<line x1="186.1" y1="543.5" x2="186.1" y2="553.7" stroke="#8a8a8a" stroke-width="0.5"/>
<line x1="189.8" y1="546.7" x2="189.8" y2="556.1" stroke="#8a8a8a" stroke-width="0.5"/>
<line x1="193.5" y1="550.0" x2="193.5" y2="558.5" stroke="#8a8a8a" stroke-width="0.5"/>
<line x1="197.2" y1="553.5" x2="197.2" y2="561.2" stroke="#8a8a8a" stroke-width="0.5"/>
<line x1="200.9" y1="557.1" x2="200.9" y2="564.0" stroke="#8a8a8a" stroke-width="0.5"/>
<line x1="204.7" y1="560.8" x2="204.7" y2="566.8" stroke="#8a8a8a" stroke-width="0.5"/>
<line x1="208.4" y1="564.3" x2="208.4" y2="569.4" stroke="#8a8a8a" stroke-width="0.5"/>
<line x1="212.1" y1="567.7" x2="212.1" y2="572.0" stroke="#8a8a8a" stroke-width="0.5"/>
<line x1="215.8" y1="571.0" x2="215.8" y2="574.5" stroke="#8a8a8a" stroke-width="0.5"/>
<line x1="219.5" y1="574.2" x2="219.5" y2="577.0" stroke="#8a8a8a" stroke-width="0.5"/>
<line x1="223.2" y1="577.1" x2="223.2" y2="579.9" stroke="#8a8a8a" stroke-width="0.5"/>
<polyline points="37.7,532.0 41.4,532.4 45.1,532.8 48.8,533.2 52.5,533.6 56.2,534.0 60.0,534.3 63.7,534.6 67.4,534.8 71.1,535.1 74.8,535.4 78.5,535.5 82.2,535.7 85.9,535.8 89.6,535.9 93.4,536.1 97.1,536.2 100.8,536.3 104.5,536.4 108.2,536.6 111.9,536.7 115.6,536.8 119.3,536.9 123.0,537.0 126.7,537.1 130.5,537.2 134.2,537.3 137.9,537.4 141.6,537.5 145.3,537.6 149.0,536.6 152.7,537.2 156.4,538.1 160.1,539.1 163.8,540.0 167.6,541.0 171.3,542.0 175.0,542.9 178.7,544.0 182.4,546.1 186.1,548.2 189.8,551.0 193.5,553.9 197.2,557.0 200.9,560.3 204.7,563.6 208.4,566.6 212.1,569.7 215.8,572.6 219.5,575.5 223.2,578.4" fill="none" stroke="#000" stroke-width="1.5" />
<circle cx="37.7" cy="532.0" r="1.8" fill="#000"/>
<circle cx="41.4" cy="532.4" r="1.8" fill="#000"/>
<circle cx="45.1" cy="532.8" r="1.8" fill="#000"/>
<circle cx="48.8" cy="533.2" r="1.8" fill="#000"/>
<circle cx="52.5" cy="533.6" r="1.8" fill="#000"/>
<circle cx="56.2" cy="534.0" r="1.8" fill="#000"/>
<circle cx="60.0" cy="534.3" r="1.8" fill="#000"/>
<circle cx="63.7" cy="534.6" r="1.8" fill="#000"/>
<circle cx="67.4" cy="534.8" r="1.8" fill="#000"/>
<circle cx="71.1" cy="535.1" r="1.8" fill="#000"/>
<circle cx="74.8" cy="535.4" r="1.8" fill="#000"/>
<circle cx="78.5" cy="535.5" r="1.8" fill="#000"/>
<circle cx="82.2" cy="535.7" r="1.8" fill="#000"/>
<circle cx="85.9" cy="535.8" r="1.8" fill="#000"/>
<circle cx="89.6" cy="535.9" r="1.8" fill="#000"/>
<circle cx="93.4" cy="536.1" r="1.8" fill="#000"/>
<circle cx="97.1" cy="536.2" r="1.8" fill="#000"/>
<circle cx="100.8" cy="536.3" r="1.8" fill="#000"/>
<circle cx="104.5" cy="536.4" r="1.8" fill="#000"/>
<circle cx="108.2" cy="536.6" r="1.8" fill="#000"/>
<circle cx="111.9" cy="536.7" r="1.8" fill="#000"/>
<circle cx="115.6" cy="536.8" r="1.8" fill="#000"/>
<circle cx="119.3" cy="536.9" r="1.8" fill="#000"/>
<circle cx="123.0" cy="537.0" r="1.8" fill="#000"/>
<circle cx="126.7" cy="537.1" r="1.8" fill="#000"/>
<circle cx="130.5" cy="537.2" r="1.8" fill="#000"/>
<circle cx="134.2" cy="537.3" r="1.8" fill="#000"/>
<circle cx="137.9" cy="537.4" r="1.8" fill="#000"/>
<circle cx="141.6" cy="537.5" r="1.8" fill="#000"/>
<circle cx="145.3" cy="537.6" r="1.8" fill="#000"/>
<circle cx="149.0" cy="536.6" r="1.8" fill="#000"/>
<circle cx="152.7" cy="537.2" r="1.8" fill="#000"/>
<circle cx="156.4" cy="538.1" r="1.8" fill="#000"/>
<circle cx="160.1" cy="539.1" r="1.8" fill="#000"/>
<circle cx="163.8" cy="540.0" r="1.8" fill="#000"/>
<circle cx="167.6" cy="541.0" r="1.8" fill="#000"/>
<circle cx="171.3" cy="542.0" r="1.8" fill="#000"/>
<circle cx="175.0" cy="542.9" r="1.8" fill="#000"/>
<circle cx="178.7" cy="544.0" r="1.8" fill="#000"/>
<circle cx="182.4" cy="546.1" r="1.8" fill="#000"/>
<circle cx="186.1" cy="548.2" r="1.8" fill="#000"/>
<circle cx="189.8" cy="551.0" r="1.8" fill="#000"/>
<circle cx="193.5" cy="553.9" r="1.8" fill="#000"/>
<circle cx="197.2" cy="557.0" r="1.8" fill="#000"/>
<circle cx="200.9" cy="560.3" r="1.8" fill="#000"/>
<circle cx="204.7" cy="563.6" r="1.8" fill="#000"/>
<circle cx="208.4" cy="566.6" r="1.8" fill="#000"/>
<circle cx="212.1" cy="569.7" r="1.8" fill="#000"/>
<circle cx="215.8" cy="572.6" r="1.8" fill="#000"/>
<circle cx="219.5" cy="575.5" r="1.8" fill="#000"/>
<circle cx="223.2" cy="578.4" r="1.8" fill="#000"/>
<text x="187.6" y="514.0" font-size="8" font-weight="bold" text-anchor="middle" fill="#000" >Pristine</text>
<text x="187.6" y="522.8" font-size="8" font-weight="bold" text-anchor="middle" fill="#000" >PEDOT:PSS</text>
<line x1="183.9" y1="525.6" x2="180.2" y2="533.5" stroke="#000" stroke-width="1"/>
<path d="M178.6 536.2 L178.3 531.6 L182.3 533.3 Z" fill="#000"/>
<line x1="122.4" y1="556" x2="122.4" y2="599" stroke="#2a5aa0" stroke-width="1.2" stroke-dasharray="3,2"/>
<path d="M119.6 598 L125.2 598 L122.4 603.5 Z" fill="#2a5aa0"/>
<text x="150.1" y="576.1" font-size="8.5" font-weight="bold" text-anchor="middle" fill="#2a5aa0" >FPE</text>
<text x="150.1" y="585.3" font-size="8.5" font-weight="bold" text-anchor="middle" fill="#2a5aa0" >Treatment</text>
<rect x="37.7" y="504.8" width="187.3" height="150.99999999999994" fill="none" stroke="#000" stroke-width="1.7"/>
<line x1="34.7" y1="505.1" x2="37.7" y2="505.1" stroke="#000" stroke-width="1.2"/>
<text x="31.2" y="508.1" font-size="8.2" font-weight="bold" text-anchor="end" fill="#000" >10M</text>
<line x1="36.2" y1="540.4" x2="37.7" y2="540.4" stroke="#000" stroke-width="0.6"/>
<line x1="36.2" y1="531.5" x2="37.7" y2="531.5" stroke="#000" stroke-width="0.6"/>
<line x1="36.2" y1="525.2" x2="37.7" y2="525.2" stroke="#000" stroke-width="0.6"/>
<line x1="36.2" y1="520.3" x2="37.7" y2="520.3" stroke="#000" stroke-width="0.6"/>
<line x1="36.2" y1="516.3" x2="37.7" y2="516.3" stroke="#000" stroke-width="0.6"/>
<line x1="36.2" y1="512.9" x2="37.7" y2="512.9" stroke="#000" stroke-width="0.6"/>
<line x1="36.2" y1="510.0" x2="37.7" y2="510.0" stroke="#000" stroke-width="0.6"/>
<line x1="36.2" y1="507.4" x2="37.7" y2="507.4" stroke="#000" stroke-width="0.6"/>
<line x1="34.7" y1="555.6" x2="37.7" y2="555.6" stroke="#000" stroke-width="1.2"/>
<text x="31.2" y="558.6" font-size="8.2" font-weight="bold" text-anchor="end" fill="#000" >1M</text>
<line x1="36.2" y1="590.9" x2="37.7" y2="590.9" stroke="#000" stroke-width="0.6"/>
<line x1="36.2" y1="582.0" x2="37.7" y2="582.0" stroke="#000" stroke-width="0.6"/>
<line x1="36.2" y1="575.7" x2="37.7" y2="575.7" stroke="#000" stroke-width="0.6"/>
<line x1="36.2" y1="570.8" x2="37.7" y2="570.8" stroke="#000" stroke-width="0.6"/>
<line x1="36.2" y1="566.8" x2="37.7" y2="566.8" stroke="#000" stroke-width="0.6"/>
<line x1="36.2" y1="563.4" x2="37.7" y2="563.4" stroke="#000" stroke-width="0.6"/>
<line x1="36.2" y1="560.5" x2="37.7" y2="560.5" stroke="#000" stroke-width="0.6"/>
<line x1="36.2" y1="557.9" x2="37.7" y2="557.9" stroke="#000" stroke-width="0.6"/>
<line x1="34.7" y1="606.1" x2="37.7" y2="606.1" stroke="#000" stroke-width="1.2"/>
<text x="31.2" y="609.1" font-size="8.2" font-weight="bold" text-anchor="end" fill="#000" >100k</text>
<line x1="36.2" y1="641.4" x2="37.7" y2="641.4" stroke="#000" stroke-width="0.6"/>
<line x1="36.2" y1="632.5" x2="37.7" y2="632.5" stroke="#000" stroke-width="0.6"/>
<line x1="36.2" y1="626.2" x2="37.7" y2="626.2" stroke="#000" stroke-width="0.6"/>
<line x1="36.2" y1="621.3" x2="37.7" y2="621.3" stroke="#000" stroke-width="0.6"/>
<line x1="36.2" y1="617.3" x2="37.7" y2="617.3" stroke="#000" stroke-width="0.6"/>
<line x1="36.2" y1="613.9" x2="37.7" y2="613.9" stroke="#000" stroke-width="0.6"/>
<line x1="36.2" y1="611.0" x2="37.7" y2="611.0" stroke="#000" stroke-width="0.6"/>
<line x1="36.2" y1="608.4" x2="37.7" y2="608.4" stroke="#000" stroke-width="0.6"/>
<line x1="34.7" y1="656.6" x2="37.7" y2="656.6" stroke="#000" stroke-width="1.2"/>
<text x="31.2" y="659.6" font-size="8.2" font-weight="bold" text-anchor="end" fill="#000" >10k</text>
<line x1="37.7" y1="655.8" x2="37.7" y2="658.8" stroke="#000" stroke-width="1.2"/>
<text x="37.7" y="667.6" font-size="8.2" font-weight="bold" text-anchor="middle" fill="#000" >1</text>
<line x1="48.9" y1="655.8" x2="48.9" y2="657.3" stroke="#000" stroke-width="0.6"/>
<line x1="55.4" y1="655.8" x2="55.4" y2="657.3" stroke="#000" stroke-width="0.6"/>
<line x1="60.0" y1="655.8" x2="60.0" y2="657.3" stroke="#000" stroke-width="0.6"/>
<line x1="63.6" y1="655.8" x2="63.6" y2="657.3" stroke="#000" stroke-width="0.6"/>
<line x1="66.6" y1="655.8" x2="66.6" y2="657.3" stroke="#000" stroke-width="0.6"/>
<line x1="69.1" y1="655.8" x2="69.1" y2="657.3" stroke="#000" stroke-width="0.6"/>
<line x1="71.2" y1="655.8" x2="71.2" y2="657.3" stroke="#000" stroke-width="0.6"/>
<line x1="73.1" y1="655.8" x2="73.1" y2="657.3" stroke="#000" stroke-width="0.6"/>
<line x1="74.8" y1="655.8" x2="74.8" y2="658.8" stroke="#000" stroke-width="1.2"/>
<text x="74.8" y="667.6" font-size="8.2" font-weight="bold" text-anchor="middle" fill="#000" >10</text>
<line x1="86.0" y1="655.8" x2="86.0" y2="657.3" stroke="#000" stroke-width="0.6"/>
<line x1="92.5" y1="655.8" x2="92.5" y2="657.3" stroke="#000" stroke-width="0.6"/>
<line x1="97.1" y1="655.8" x2="97.1" y2="657.3" stroke="#000" stroke-width="0.6"/>
<line x1="100.7" y1="655.8" x2="100.7" y2="657.3" stroke="#000" stroke-width="0.6"/>
<line x1="103.7" y1="655.8" x2="103.7" y2="657.3" stroke="#000" stroke-width="0.6"/>
<line x1="106.2" y1="655.8" x2="106.2" y2="657.3" stroke="#000" stroke-width="0.6"/>
<line x1="108.3" y1="655.8" x2="108.3" y2="657.3" stroke="#000" stroke-width="0.6"/>
<line x1="110.2" y1="655.8" x2="110.2" y2="657.3" stroke="#000" stroke-width="0.6"/>
<line x1="111.9" y1="655.8" x2="111.9" y2="658.8" stroke="#000" stroke-width="1.2"/>
<text x="111.9" y="667.6" font-size="8.2" font-weight="bold" text-anchor="middle" fill="#000" >100</text>
<line x1="123.1" y1="655.8" x2="123.1" y2="657.3" stroke="#000" stroke-width="0.6"/>
<line x1="129.6" y1="655.8" x2="129.6" y2="657.3" stroke="#000" stroke-width="0.6"/>
<line x1="134.2" y1="655.8" x2="134.2" y2="657.3" stroke="#000" stroke-width="0.6"/>
<line x1="137.8" y1="655.8" x2="137.8" y2="657.3" stroke="#000" stroke-width="0.6"/>
<line x1="140.8" y1="655.8" x2="140.8" y2="657.3" stroke="#000" stroke-width="0.6"/>
<line x1="143.3" y1="655.8" x2="143.3" y2="657.3" stroke="#000" stroke-width="0.6"/>
<line x1="145.4" y1="655.8" x2="145.4" y2="657.3" stroke="#000" stroke-width="0.6"/>
<line x1="147.3" y1="655.8" x2="147.3" y2="657.3" stroke="#000" stroke-width="0.6"/>
<line x1="149.0" y1="655.8" x2="149.0" y2="658.8" stroke="#000" stroke-width="1.2"/>
<text x="149.0" y="667.6" font-size="8.2" font-weight="bold" text-anchor="middle" fill="#000" >1k</text>
<line x1="160.2" y1="655.8" x2="160.2" y2="657.3" stroke="#000" stroke-width="0.6"/>
<line x1="166.7" y1="655.8" x2="166.7" y2="657.3" stroke="#000" stroke-width="0.6"/>
<line x1="171.3" y1="655.8" x2="171.3" y2="657.3" stroke="#000" stroke-width="0.6"/>
<line x1="174.9" y1="655.8" x2="174.9" y2="657.3" stroke="#000" stroke-width="0.6"/>
<line x1="177.9" y1="655.8" x2="177.9" y2="657.3" stroke="#000" stroke-width="0.6"/>
<line x1="180.4" y1="655.8" x2="180.4" y2="657.3" stroke="#000" stroke-width="0.6"/>
<line x1="182.5" y1="655.8" x2="182.5" y2="657.3" stroke="#000" stroke-width="0.6"/>
<line x1="184.4" y1="655.8" x2="184.4" y2="657.3" stroke="#000" stroke-width="0.6"/>
<line x1="186.1" y1="655.8" x2="186.1" y2="658.8" stroke="#000" stroke-width="1.2"/>
<text x="186.1" y="667.6" font-size="8.2" font-weight="bold" text-anchor="middle" fill="#000" >10k</text>
<line x1="197.3" y1="655.8" x2="197.3" y2="657.3" stroke="#000" stroke-width="0.6"/>
<line x1="203.8" y1="655.8" x2="203.8" y2="657.3" stroke="#000" stroke-width="0.6"/>
<line x1="208.4" y1="655.8" x2="208.4" y2="657.3" stroke="#000" stroke-width="0.6"/>
<line x1="212.0" y1="655.8" x2="212.0" y2="657.3" stroke="#000" stroke-width="0.6"/>
<line x1="215.0" y1="655.8" x2="215.0" y2="657.3" stroke="#000" stroke-width="0.6"/>
<line x1="217.5" y1="655.8" x2="217.5" y2="657.3" stroke="#000" stroke-width="0.6"/>
<line x1="219.6" y1="655.8" x2="219.6" y2="657.3" stroke="#000" stroke-width="0.6"/>
<line x1="221.5" y1="655.8" x2="221.5" y2="657.3" stroke="#000" stroke-width="0.6"/>
<text x="126.7" y="682.3" font-size="8.9" font-weight="bold" text-anchor="middle" fill="#000" >Frequency (Hz)</text>
<text x="0.0" y="0.0" font-size="8.8" font-weight="bold" text-anchor="middle" fill="#000" transform="translate(7.9,580.6) rotate(-90)">Impedance (Ω)</text>
<text x="233.6" y="492.3" font-size="12.5" font-weight="bold" text-anchor="start" fill="#000" >g</text>
<polyline points="269.3,508.0 275.8,511.0 282.0,515.7 288.0,520.0 294.0,524.4 300.0,527.0 306.0,531.0 313.0,535.5 319.0,542.6 325.0,543.2 331.0,546.8 338.0,553.2 343.6,550.2 350.0,557.2 356.6,564.6 362.6,563.2 368.7,568.6 375.0,572.7 381.0,576.5 387.6,580.0 394.0,583.0 400.0,586.5 406.0,590.0 412.0,593.0 418.6,597.3 425.0,601.0 431.0,604.5 437.0,608.5 443.0,612.0 450.0,616.0 456.5,619.8" fill="none" stroke="#4d4d4d" stroke-width="1.1" />
<path d="M269.3 505.7L271.6 508.0L269.3 510.3L267.0 508.0Z" fill="#4d4d4d"/>
<path d="M275.8 508.7L278.1 511.0L275.8 513.3L273.5 511.0Z" fill="#4d4d4d"/>
<path d="M282.0 513.4L284.3 515.7L282.0 518.0L279.7 515.7Z" fill="#4d4d4d"/>
<path d="M288.0 517.7L290.3 520.0L288.0 522.3L285.7 520.0Z" fill="#4d4d4d"/>
<path d="M294.0 522.1L296.3 524.4L294.0 526.7L291.7 524.4Z" fill="#4d4d4d"/>
<path d="M300.0 524.7L302.3 527.0L300.0 529.3L297.7 527.0Z" fill="#4d4d4d"/>
<path d="M306.0 528.7L308.3 531.0L306.0 533.3L303.7 531.0Z" fill="#4d4d4d"/>
<path d="M313.0 533.2L315.3 535.5L313.0 537.8L310.7 535.5Z" fill="#4d4d4d"/>
<path d="M319.0 540.3L321.3 542.6L319.0 544.9L316.7 542.6Z" fill="#4d4d4d"/>
<path d="M325.0 540.9L327.3 543.2L325.0 545.5L322.7 543.2Z" fill="#4d4d4d"/>
<path d="M331.0 544.5L333.3 546.8L331.0 549.1L328.7 546.8Z" fill="#4d4d4d"/>
<path d="M338.0 550.9L340.3 553.2L338.0 555.5L335.7 553.2Z" fill="#4d4d4d"/>
<path d="M343.6 547.9L345.9 550.2L343.6 552.5L341.3 550.2Z" fill="#4d4d4d"/>
<path d="M350.0 554.9L352.3 557.2L350.0 559.5L347.7 557.2Z" fill="#4d4d4d"/>
<path d="M356.6 562.3L358.9 564.6L356.6 566.9L354.3 564.6Z" fill="#4d4d4d"/>
<path d="M362.6 560.9L364.9 563.2L362.6 565.5L360.3 563.2Z" fill="#4d4d4d"/>
<path d="M368.7 566.3L371.0 568.6L368.7 570.9L366.4 568.6Z" fill="#4d4d4d"/>
<path d="M375.0 570.4L377.3 572.7L375.0 575.0L372.7 572.7Z" fill="#4d4d4d"/>
<path d="M381.0 574.2L383.3 576.5L381.0 578.8L378.7 576.5Z" fill="#4d4d4d"/>
<path d="M387.6 577.7L389.9 580.0L387.6 582.3L385.3 580.0Z" fill="#4d4d4d"/>
<path d="M394.0 580.7L396.3 583.0L394.0 585.3L391.7 583.0Z" fill="#4d4d4d"/>
<path d="M400.0 584.2L402.3 586.5L400.0 588.8L397.7 586.5Z" fill="#4d4d4d"/>
<path d="M406.0 587.7L408.3 590.0L406.0 592.3L403.7 590.0Z" fill="#4d4d4d"/>
<path d="M412.0 590.7L414.3 593.0L412.0 595.3L409.7 593.0Z" fill="#4d4d4d"/>
<path d="M418.6 595.0L420.9 597.3L418.6 599.6L416.3 597.3Z" fill="#4d4d4d"/>
<path d="M425.0 598.7L427.3 601.0L425.0 603.3L422.7 601.0Z" fill="#4d4d4d"/>
<path d="M431.0 602.2L433.3 604.5L431.0 606.8L428.7 604.5Z" fill="#4d4d4d"/>
<path d="M437.0 606.2L439.3 608.5L437.0 610.8L434.7 608.5Z" fill="#4d4d4d"/>
<path d="M443.0 609.7L445.3 612.0L443.0 614.3L440.7 612.0Z" fill="#4d4d4d"/>
<path d="M450.0 613.7L452.3 616.0L450.0 618.3L447.7 616.0Z" fill="#4d4d4d"/>
<path d="M456.5 617.5L458.8 619.8L456.5 622.1L454.2 619.8Z" fill="#4d4d4d"/>
<polyline points="269.3,574.6 275.5,575.1 281.8,575.7 288.0,576.2 294.3,576.8 300.5,577.3 306.7,578.0 313.0,578.6 319.2,579.2 325.5,579.8 331.7,580.4 337.9,581.0 344.2,582.1 350.4,583.4 356.7,584.7 362.9,586.0 369.1,587.3 375.4,588.6 381.6,589.8 387.9,591.1 394.1,592.4 400.3,594.3 406.6,596.2 412.8,598.2 419.1,600.3 425.3,603.5 431.5,606.7 437.8,610.3 444.0,613.8 450.3,616.8 456.5,619.8" fill="none" stroke="#2f6fe0" stroke-width="1.2" />
<path d="M267.2 576.3L271.4 576.3L269.3 572.5Z" fill="#2f6fe0"/>
<path d="M273.4 576.8L277.6 576.8L275.5 573.0Z" fill="#2f6fe0"/>
<path d="M279.7 577.4L283.9 577.4L281.8 573.6Z" fill="#2f6fe0"/>
<path d="M285.9 577.9L290.1 577.9L288.0 574.1Z" fill="#2f6fe0"/>
<path d="M292.2 578.5L296.4 578.5L294.3 574.7Z" fill="#2f6fe0"/>
<path d="M298.4 579.0L302.6 579.0L300.5 575.2Z" fill="#2f6fe0"/>
<path d="M304.6 579.6L308.8 579.6L306.7 575.9Z" fill="#2f6fe0"/>
<path d="M310.9 580.2L315.1 580.2L313.0 576.5Z" fill="#2f6fe0"/>
<path d="M317.1 580.9L321.3 580.9L319.2 577.1Z" fill="#2f6fe0"/>
<path d="M323.4 581.5L327.6 581.5L325.5 577.7Z" fill="#2f6fe0"/>
<path d="M329.6 582.1L333.8 582.1L331.7 578.3Z" fill="#2f6fe0"/>
<path d="M335.8 582.7L340.0 582.7L337.9 578.9Z" fill="#2f6fe0"/>
<path d="M342.1 583.8L346.3 583.8L344.2 580.0Z" fill="#2f6fe0"/>
<path d="M348.3 585.1L352.5 585.1L350.4 581.3Z" fill="#2f6fe0"/>
<path d="M354.6 586.4L358.8 586.4L356.7 582.6Z" fill="#2f6fe0"/>
<path d="M360.8 587.7L365.0 587.7L362.9 583.9Z" fill="#2f6fe0"/>
<path d="M367.0 589.0L371.2 589.0L369.1 585.2Z" fill="#2f6fe0"/>
<path d="M373.3 590.2L377.5 590.2L375.4 586.5Z" fill="#2f6fe0"/>
<path d="M379.5 591.5L383.7 591.5L381.6 587.7Z" fill="#2f6fe0"/>
<path d="M385.8 592.8L390.0 592.8L387.9 589.0Z" fill="#2f6fe0"/>
<path d="M392.0 594.1L396.2 594.1L394.1 590.3Z" fill="#2f6fe0"/>
<path d="M398.2 596.0L402.4 596.0L400.3 592.2Z" fill="#2f6fe0"/>
<path d="M404.5 597.9L408.7 597.9L406.6 594.1Z" fill="#2f6fe0"/>
<path d="M410.7 599.9L414.9 599.9L412.8 596.1Z" fill="#2f6fe0"/>
<path d="M417.0 602.0L421.2 602.0L419.1 598.2Z" fill="#2f6fe0"/>
<path d="M423.2 605.2L427.4 605.2L425.3 601.4Z" fill="#2f6fe0"/>
<path d="M429.4 608.4L433.6 608.4L431.5 604.6Z" fill="#2f6fe0"/>
<path d="M435.7 611.9L439.9 611.9L437.8 608.2Z" fill="#2f6fe0"/>
<path d="M441.9 615.5L446.1 615.5L444.0 611.7Z" fill="#2f6fe0"/>
<path d="M448.2 618.5L452.4 618.5L450.3 614.7Z" fill="#2f6fe0"/>
<path d="M454.4 621.5L458.6 621.5L456.5 617.7Z" fill="#2f6fe0"/>
<polyline points="269.3,539.2 275.5,542.7 281.8,546.2 288.0,549.7 294.3,553.3 300.5,556.8 306.7,560.3 313.0,563.8 319.2,567.3 325.5,570.9 331.7,574.4 337.9,577.9 344.2,581.4 350.4,583.8 356.7,586.9 362.9,590.1 369.1,593.4 375.4,596.7 381.6,599.9 387.9,603.0 394.1,606.1 400.3,609.3 406.6,611.9 412.8,614.6 419.1,616.8 425.3,619.0 431.5,621.7 437.8,624.4 444.0,626.9 450.3,629.5 456.5,632.0" fill="none" stroke="#2fa062" stroke-width="1.2" />
<circle cx="269.3" cy="539.2" r="1.9" fill="#2fa062"/>
<circle cx="275.5" cy="542.7" r="1.9" fill="#2fa062"/>
<circle cx="281.8" cy="546.2" r="1.9" fill="#2fa062"/>
<circle cx="288.0" cy="549.7" r="1.9" fill="#2fa062"/>
<circle cx="294.3" cy="553.3" r="1.9" fill="#2fa062"/>
<circle cx="300.5" cy="556.8" r="1.9" fill="#2fa062"/>
<circle cx="306.7" cy="560.3" r="1.9" fill="#2fa062"/>
<circle cx="313.0" cy="563.8" r="1.9" fill="#2fa062"/>
<circle cx="319.2" cy="567.3" r="1.9" fill="#2fa062"/>
<circle cx="325.5" cy="570.9" r="1.9" fill="#2fa062"/>
<circle cx="331.7" cy="574.4" r="1.9" fill="#2fa062"/>
<circle cx="337.9" cy="577.9" r="1.9" fill="#2fa062"/>
<circle cx="344.2" cy="581.4" r="1.9" fill="#2fa062"/>
<circle cx="350.4" cy="583.8" r="1.9" fill="#2fa062"/>
<circle cx="356.7" cy="586.9" r="1.9" fill="#2fa062"/>
<circle cx="362.9" cy="590.1" r="1.9" fill="#2fa062"/>
<circle cx="369.1" cy="593.4" r="1.9" fill="#2fa062"/>
<circle cx="375.4" cy="596.7" r="1.9" fill="#2fa062"/>
<circle cx="381.6" cy="599.9" r="1.9" fill="#2fa062"/>
<circle cx="387.9" cy="603.0" r="1.9" fill="#2fa062"/>
<circle cx="394.1" cy="606.1" r="1.9" fill="#2fa062"/>
<circle cx="400.3" cy="609.3" r="1.9" fill="#2fa062"/>
<circle cx="406.6" cy="611.9" r="1.9" fill="#2fa062"/>
<circle cx="412.8" cy="614.6" r="1.9" fill="#2fa062"/>
<circle cx="419.1" cy="616.8" r="1.9" fill="#2fa062"/>
<circle cx="425.3" cy="619.0" r="1.9" fill="#2fa062"/>
<circle cx="431.5" cy="621.7" r="1.9" fill="#2fa062"/>
<circle cx="437.8" cy="624.4" r="1.9" fill="#2fa062"/>
<circle cx="444.0" cy="626.9" r="1.9" fill="#2fa062"/>
<circle cx="450.3" cy="629.5" r="1.9" fill="#2fa062"/>
<circle cx="456.5" cy="632.0" r="1.9" fill="#2fa062"/>
<polyline points="269.3,619.4 275.5,622.8 281.8,625.5 288.0,628.2 294.3,630.0 300.5,631.8 306.7,633.8 313.0,635.8 319.2,637.1 325.5,638.4 331.7,639.4 337.9,640.3 344.2,641.3 350.4,641.9 356.7,642.5 362.9,643.0 369.1,643.6 375.4,644.1 381.6,644.4 387.9,644.7 394.1,645.0 400.3,645.2 406.6,645.5 412.8,645.7 419.1,646.0 425.3,646.1 431.5,646.2 437.8,646.3 444.0,646.4 450.3,646.5 456.5,646.6" fill="none" stroke="#e84040" stroke-width="1.2" />
<path d="M267.2 617.7L271.4 617.7L269.3 621.5Z" fill="#e84040"/>
<path d="M273.4 621.1L277.6 621.1L275.5 624.9Z" fill="#e84040"/>
<path d="M279.7 623.8L283.9 623.8L281.8 627.6Z" fill="#e84040"/>
<path d="M285.9 626.5L290.1 626.5L288.0 630.3Z" fill="#e84040"/>
<path d="M292.2 628.3L296.4 628.3L294.3 632.1Z" fill="#e84040"/>
<path d="M298.4 630.1L302.6 630.1L300.5 633.9Z" fill="#e84040"/>
<path d="M304.6 632.1L308.8 632.1L306.7 635.9Z" fill="#e84040"/>
<path d="M310.9 634.1L315.1 634.1L313.0 637.9Z" fill="#e84040"/>
<path d="M317.1 635.4L321.3 635.4L319.2 639.2Z" fill="#e84040"/>
<path d="M323.4 636.7L327.6 636.7L325.5 640.5Z" fill="#e84040"/>
<path d="M329.6 637.7L333.8 637.7L331.7 641.5Z" fill="#e84040"/>
<path d="M335.8 638.7L340.0 638.7L337.9 642.4Z" fill="#e84040"/>
<path d="M342.1 639.6L346.3 639.6L344.2 643.4Z" fill="#e84040"/>
<path d="M348.3 640.2L352.5 640.2L350.4 644.0Z" fill="#e84040"/>
<path d="M354.6 640.8L358.8 640.8L356.7 644.6Z" fill="#e84040"/>
<path d="M360.8 641.3L365.0 641.3L362.9 645.1Z" fill="#e84040"/>
<path d="M367.0 641.9L371.2 641.9L369.1 645.7Z" fill="#e84040"/>
<path d="M373.3 642.4L377.5 642.4L375.4 646.2Z" fill="#e84040"/>
<path d="M379.5 642.7L383.7 642.7L381.6 646.5Z" fill="#e84040"/>
<path d="M385.8 643.0L390.0 643.0L387.9 646.8Z" fill="#e84040"/>
<path d="M392.0 643.3L396.2 643.3L394.1 647.1Z" fill="#e84040"/>
<path d="M398.2 643.5L402.4 643.5L400.3 647.3Z" fill="#e84040"/>
<path d="M404.5 643.8L408.7 643.8L406.6 647.6Z" fill="#e84040"/>
<path d="M410.7 644.0L414.9 644.0L412.8 647.8Z" fill="#e84040"/>
<path d="M417.0 644.3L421.2 644.3L419.1 648.1Z" fill="#e84040"/>
<path d="M423.2 644.4L427.4 644.4L425.3 648.2Z" fill="#e84040"/>
<path d="M429.4 644.5L433.6 644.5L431.5 648.3Z" fill="#e84040"/>
<path d="M435.7 644.6L439.9 644.6L437.8 648.4Z" fill="#e84040"/>
<path d="M441.9 644.7L446.1 644.7L444.0 648.5Z" fill="#e84040"/>
<path d="M448.2 644.8L452.4 644.8L450.3 648.6Z" fill="#e84040"/>
<path d="M454.4 644.9L458.6 644.9L456.5 648.7Z" fill="#e84040"/>
<polyline points="269.3,649.6 275.5,649.6 281.8,649.6 288.0,649.6 294.3,649.6 300.5,649.6 306.7,649.6 313.0,649.6 319.2,649.7 325.5,649.7 331.7,649.7 337.9,649.7 344.2,649.7 350.4,649.7 356.7,649.7 362.9,649.7 369.1,649.7 375.4,649.7 381.6,649.7 387.9,649.7 394.1,649.7 400.3,649.7 406.6,649.7 412.8,649.8 419.1,649.8 425.3,649.8 431.5,649.8 437.8,649.8 444.0,649.8 450.3,649.8 456.5,649.8" fill="none" stroke="#a66be0" stroke-width="1.2" />
<rect x="267.5" y="647.8" width="3.6" height="3.6" fill="#a66be0"/>
<rect x="273.8" y="647.8" width="3.6" height="3.6" fill="#a66be0"/>
<rect x="280.0" y="647.8" width="3.6" height="3.6" fill="#a66be0"/>
<rect x="286.2" y="647.8" width="3.6" height="3.6" fill="#a66be0"/>
<rect x="292.5" y="647.8" width="3.6" height="3.6" fill="#a66be0"/>
<rect x="298.7" y="647.8" width="3.6" height="3.6" fill="#a66be0"/>
<rect x="305.0" y="647.9" width="3.6" height="3.6" fill="#a66be0"/>
<rect x="311.2" y="647.9" width="3.6" height="3.6" fill="#a66be0"/>
<rect x="317.4" y="647.9" width="3.6" height="3.6" fill="#a66be0"/>
<rect x="323.7" y="647.9" width="3.6" height="3.6" fill="#a66be0"/>
<rect x="329.9" y="647.9" width="3.6" height="3.6" fill="#a66be0"/>
<rect x="336.2" y="647.9" width="3.6" height="3.6" fill="#a66be0"/>
<rect x="342.4" y="647.9" width="3.6" height="3.6" fill="#a66be0"/>
<rect x="348.6" y="647.9" width="3.6" height="3.6" fill="#a66be0"/>
<rect x="354.9" y="647.9" width="3.6" height="3.6" fill="#a66be0"/>
<rect x="361.1" y="647.9" width="3.6" height="3.6" fill="#a66be0"/>
<rect x="367.4" y="647.9" width="3.6" height="3.6" fill="#a66be0"/>
<rect x="373.6" y="647.9" width="3.6" height="3.6" fill="#a66be0"/>
<rect x="379.8" y="647.9" width="3.6" height="3.6" fill="#a66be0"/>
<rect x="386.1" y="647.9" width="3.6" height="3.6" fill="#a66be0"/>
<rect x="392.3" y="647.9" width="3.6" height="3.6" fill="#a66be0"/>
<rect x="398.6" y="648.0" width="3.6" height="3.6" fill="#a66be0"/>
<rect x="404.8" y="648.0" width="3.6" height="3.6" fill="#a66be0"/>
<rect x="411.0" y="648.0" width="3.6" height="3.6" fill="#a66be0"/>
<rect x="417.3" y="648.0" width="3.6" height="3.6" fill="#a66be0"/>
<rect x="423.5" y="648.0" width="3.6" height="3.6" fill="#a66be0"/>
<rect x="429.8" y="648.0" width="3.6" height="3.6" fill="#a66be0"/>
<rect x="436.0" y="648.0" width="3.6" height="3.6" fill="#a66be0"/>
<rect x="442.2" y="648.0" width="3.6" height="3.6" fill="#a66be0"/>
<rect x="448.5" y="648.0" width="3.6" height="3.6" fill="#a66be0"/>
<rect x="454.7" y="648.0" width="3.6" height="3.6" fill="#a66be0"/>
<line x1="387.8" y1="513.4" x2="404.8" y2="513.4" stroke="#4d4d4d" stroke-width="1.4"/>
<path d="M396.4 510.7L399.1 513.4L396.4 516.1L393.7 513.4Z" fill="#4d4d4d"/>
<text x="413.5" y="516.2" font-size="7.6" font-weight="bold" text-anchor="start" fill="#000" >Pt</text>
<line x1="387.8" y1="523.9" x2="404.8" y2="523.9" stroke="#e84040" stroke-width="1.4"/>
<path d="M393.7 521.7L399.1 521.7L396.4 526.6Z" fill="#e84040"/>
<text x="413.5" y="526.7" font-size="7.6" font-weight="bold" text-anchor="start" fill="#000" >Pt-black</text>
<line x1="387.8" y1="534.4" x2="404.8" y2="534.4" stroke="#2f6fe0" stroke-width="1.4"/>
<path d="M393.7 536.6L399.1 536.6L396.4 531.7Z" fill="#2f6fe0"/>
<text x="413.5" y="537.2" font-size="7.6" font-weight="bold" text-anchor="start" fill="#000" >ITO</text>
<line x1="387.8" y1="544.9" x2="404.8" y2="544.9" stroke="#2fa062" stroke-width="1.4"/>
<circle cx="396.4" cy="544.9" r="2.4" fill="#2fa062"/>
<text x="413.5" y="547.7" font-size="7.6" font-weight="bold" text-anchor="start" fill="#000" >Graphene</text>
<line x1="387.8" y1="555.4" x2="404.8" y2="555.4" stroke="#a66be0" stroke-width="1.4"/>
<rect x="394.1" y="553.1" width="4.6" height="4.6" fill="#a66be0"/>
<text x="413.5" y="558.2" font-size="7.6" font-weight="bold" text-anchor="start" fill="#000" >Our Work</text>
<rect x="269.2" y="506.4" width="188.3" height="149.30000000000007" fill="none" stroke="#000" stroke-width="1.7"/>
<line x1="266.2" y1="509.6" x2="269.2" y2="509.6" stroke="#000" stroke-width="1.2"/>
<text x="261.5" y="512.0" font-size="8.2" font-weight="bold" text-anchor="end" fill="#000" >100M</text>
<line x1="266.2" y1="545.8" x2="269.2" y2="545.8" stroke="#000" stroke-width="1.2"/>
<text x="261.5" y="548.2" font-size="8.2" font-weight="bold" text-anchor="end" fill="#000" >10M</text>
<line x1="266.2" y1="582.0" x2="269.2" y2="582.0" stroke="#000" stroke-width="1.2"/>
<text x="261.5" y="584.4" font-size="8.2" font-weight="bold" text-anchor="end" fill="#000" >1M</text>
<line x1="266.2" y1="618.2" x2="269.2" y2="618.2" stroke="#000" stroke-width="1.2"/>
<text x="261.5" y="620.6" font-size="8.2" font-weight="bold" text-anchor="end" fill="#000" >100k</text>
<line x1="266.2" y1="654.4" x2="269.2" y2="654.4" stroke="#000" stroke-width="1.2"/>
<text x="261.5" y="656.8" font-size="8.2" font-weight="bold" text-anchor="end" fill="#000" >10k</text>
<line x1="267.0" y1="523.4" x2="269.2" y2="523.4" stroke="#000" stroke-width="1"/>
<line x1="267.0" y1="561.4" x2="269.2" y2="561.4" stroke="#000" stroke-width="1"/>
<line x1="267.0" y1="598.4" x2="269.2" y2="598.4" stroke="#000" stroke-width="1"/>
<line x1="267.0" y1="635.9" x2="269.2" y2="635.9" stroke="#000" stroke-width="1"/>
<line x1="269.2" y1="655.7" x2="269.2" y2="658.7" stroke="#000" stroke-width="1.2"/>
<text x="269.2" y="667.6" font-size="8.2" font-weight="bold" text-anchor="middle" fill="#000" >100</text>
<line x1="288.0" y1="655.7" x2="288.0" y2="657.2" stroke="#000" stroke-width="0.6"/>
<line x1="299.0" y1="655.7" x2="299.0" y2="657.2" stroke="#000" stroke-width="0.6"/>
<line x1="306.8" y1="655.7" x2="306.8" y2="657.2" stroke="#000" stroke-width="0.6"/>
<line x1="312.9" y1="655.7" x2="312.9" y2="657.2" stroke="#000" stroke-width="0.6"/>
<line x1="317.8" y1="655.7" x2="317.8" y2="657.2" stroke="#000" stroke-width="0.6"/>
<line x1="322.0" y1="655.7" x2="322.0" y2="657.2" stroke="#000" stroke-width="0.6"/>
<line x1="325.6" y1="655.7" x2="325.6" y2="657.2" stroke="#000" stroke-width="0.6"/>
<line x1="328.8" y1="655.7" x2="328.8" y2="657.2" stroke="#000" stroke-width="0.6"/>
<line x1="331.7" y1="655.7" x2="331.7" y2="658.7" stroke="#000" stroke-width="1.2"/>
<text x="331.7" y="667.6" font-size="8.2" font-weight="bold" text-anchor="middle" fill="#000" >1k</text>
<line x1="350.5" y1="655.7" x2="350.5" y2="657.2" stroke="#000" stroke-width="0.6"/>
<line x1="361.5" y1="655.7" x2="361.5" y2="657.2" stroke="#000" stroke-width="0.6"/>
<line x1="369.3" y1="655.7" x2="369.3" y2="657.2" stroke="#000" stroke-width="0.6"/>
<line x1="375.4" y1="655.7" x2="375.4" y2="657.2" stroke="#000" stroke-width="0.6"/>
<line x1="380.3" y1="655.7" x2="380.3" y2="657.2" stroke="#000" stroke-width="0.6"/>
<line x1="384.5" y1="655.7" x2="384.5" y2="657.2" stroke="#000" stroke-width="0.6"/>
<line x1="388.1" y1="655.7" x2="388.1" y2="657.2" stroke="#000" stroke-width="0.6"/>
<line x1="391.3" y1="655.7" x2="391.3" y2="657.2" stroke="#000" stroke-width="0.6"/>
<line x1="394.2" y1="655.7" x2="394.2" y2="658.7" stroke="#000" stroke-width="1.2"/>
<text x="394.2" y="667.6" font-size="8.2" font-weight="bold" text-anchor="middle" fill="#000" >10k</text>
<line x1="413.0" y1="655.7" x2="413.0" y2="657.2" stroke="#000" stroke-width="0.6"/>
<line x1="424.0" y1="655.7" x2="424.0" y2="657.2" stroke="#000" stroke-width="0.6"/>
<line x1="431.8" y1="655.7" x2="431.8" y2="657.2" stroke="#000" stroke-width="0.6"/>
<line x1="437.9" y1="655.7" x2="437.9" y2="657.2" stroke="#000" stroke-width="0.6"/>
<line x1="442.8" y1="655.7" x2="442.8" y2="657.2" stroke="#000" stroke-width="0.6"/>
<line x1="447.0" y1="655.7" x2="447.0" y2="657.2" stroke="#000" stroke-width="0.6"/>
<line x1="450.6" y1="655.7" x2="450.6" y2="657.2" stroke="#000" stroke-width="0.6"/>
<line x1="453.8" y1="655.7" x2="453.8" y2="657.2" stroke="#000" stroke-width="0.6"/>
<line x1="456.7" y1="655.7" x2="456.7" y2="658.7" stroke="#000" stroke-width="1.2"/>
<text x="453.7" y="667.6" font-size="8.2" font-weight="bold" text-anchor="middle" fill="#000" >100k</text>
<text x="368.7" y="682.3" font-size="8.9" font-weight="bold" text-anchor="middle" fill="#000" >Frequency (Hz)</text>
<text x="0.0" y="0.0" font-size="8.9" font-weight="bold" text-anchor="middle" fill="#000" transform="translate(237.6,579.8) rotate(-90)">Impedance (Ω)</text>
<text x="463.6" y="492.6" font-size="12.5" font-weight="bold" text-anchor="start" fill="#000" >h</text>
<path d="M498.5 509.6 L677.5 656.5 L498.5 656.5 Z" fill="#f3f8fc"/>
<line x1="500.5" y1="510.6" x2="677.5" y2="655.5" stroke="#aaa" stroke-width="0.8" stroke-dasharray="1.2,1.2"/>
<rect x="498.5" y="506.6" width="181.0" height="149.89999999999998" fill="none" stroke="#000" stroke-width="1.7"/>
<line x1="494.5" y1="524.2" x2="498.5" y2="524.2" stroke="#000" stroke-width="1.2"/>
<text x="493.3" y="527.2" font-size="8.2" font-weight="bold" text-anchor="end" fill="#000" >541k</text>
<line x1="494.5" y1="542.5" x2="498.5" y2="542.5" stroke="#000" stroke-width="1.2"/>
<text x="493.3" y="545.5" font-size="8.2" font-weight="bold" text-anchor="end" fill="#000" >369k</text>
<line x1="494.5" y1="594.2" x2="498.5" y2="594.2" stroke="#000" stroke-width="1.2"/>
<text x="493.3" y="597.2" font-size="8.2" font-weight="bold" text-anchor="end" fill="#000" >200k</text>
<line x1="494.5" y1="605.6" x2="498.5" y2="605.6" stroke="#000" stroke-width="1.2"/>
<text x="493.3" y="608.6" font-size="8.2" font-weight="bold" text-anchor="end" fill="#000" >170k</text>
<line x1="494.5" y1="616.7" x2="498.5" y2="616.7" stroke="#000" stroke-width="1.2"/>
<text x="493.3" y="619.7" font-size="8.2" font-weight="bold" text-anchor="end" fill="#000" >130k</text>
<line x1="494.5" y1="643.6" x2="498.5" y2="643.6" stroke="#000" stroke-width="1.2"/>
<text x="493.3" y="646.6" font-size="8.2" font-weight="bold" text-anchor="end" fill="#000" >45k</text>
<line x1="494.5" y1="653.0" x2="498.5" y2="653.0" stroke="#000" stroke-width="1.2"/>
<text x="493.3" y="656.0" font-size="8.2" font-weight="bold" text-anchor="end" fill="#000" >10k</text>
<rect x="495.5" y="527.5" width="6" height="4.5" fill="#fff"/>
<line x1="494.5" y1="529.8" x2="502.5" y2="526.4" stroke="#000" stroke-width="1.3"/>
<line x1="494.5" y1="534.2" x2="502.5" y2="530.8" stroke="#000" stroke-width="1.3"/>
<line x1="496.7" y1="566.7" x2="498.5" y2="566.7" stroke="#000" stroke-width="0.8"/>
<line x1="496.7" y1="630.1" x2="498.5" y2="630.1" stroke="#000" stroke-width="0.8"/>
<line x1="498.5" y1="656.5" x2="498.5" y2="659.5" stroke="#000" stroke-width="1.2"/>
<text x="499.2" y="670.6" font-size="8.4" font-weight="bold" text-anchor="middle">10<tspan font-size="6" dy="-3.3">2</tspan></text>
<line x1="516.5" y1="656.5" x2="516.5" y2="658.1" stroke="#000" stroke-width="0.6"/>
<line x1="527.0" y1="656.5" x2="527.0" y2="658.1" stroke="#000" stroke-width="0.6"/>
<line x1="534.4" y1="656.5" x2="534.4" y2="658.1" stroke="#000" stroke-width="0.6"/>
<line x1="540.2" y1="656.5" x2="540.2" y2="658.1" stroke="#000" stroke-width="0.6"/>
<line x1="545.0" y1="656.5" x2="545.0" y2="658.1" stroke="#000" stroke-width="0.6"/>
<line x1="549.0" y1="656.5" x2="549.0" y2="658.1" stroke="#000" stroke-width="0.6"/>
<line x1="552.4" y1="656.5" x2="552.4" y2="658.1" stroke="#000" stroke-width="0.6"/>
<line x1="555.5" y1="656.5" x2="555.5" y2="658.1" stroke="#000" stroke-width="0.6"/>
<line x1="558.2" y1="656.5" x2="558.2" y2="659.5" stroke="#000" stroke-width="1.2"/>
<text x="558.9" y="670.6" font-size="8.4" font-weight="bold" text-anchor="middle">10<tspan font-size="6" dy="-3.3">3</tspan></text>
<line x1="576.2" y1="656.5" x2="576.2" y2="658.1" stroke="#000" stroke-width="0.6"/>
<line x1="586.7" y1="656.5" x2="586.7" y2="658.1" stroke="#000" stroke-width="0.6"/>
<line x1="594.1" y1="656.5" x2="594.1" y2="658.1" stroke="#000" stroke-width="0.6"/>
<line x1="599.9" y1="656.5" x2="599.9" y2="658.1" stroke="#000" stroke-width="0.6"/>
<line x1="604.7" y1="656.5" x2="604.7" y2="658.1" stroke="#000" stroke-width="0.6"/>
<line x1="608.7" y1="656.5" x2="608.7" y2="658.1" stroke="#000" stroke-width="0.6"/>
<line x1="612.1" y1="656.5" x2="612.1" y2="658.1" stroke="#000" stroke-width="0.6"/>
<line x1="615.2" y1="656.5" x2="615.2" y2="658.1" stroke="#000" stroke-width="0.6"/>
<line x1="617.9" y1="656.5" x2="617.9" y2="659.5" stroke="#000" stroke-width="1.2"/>
<text x="618.6" y="670.6" font-size="8.4" font-weight="bold" text-anchor="middle">10<tspan font-size="6" dy="-3.3">4</tspan></text>
<line x1="635.9" y1="656.5" x2="635.9" y2="658.1" stroke="#000" stroke-width="0.6"/>
<line x1="646.4" y1="656.5" x2="646.4" y2="658.1" stroke="#000" stroke-width="0.6"/>
<line x1="653.8" y1="656.5" x2="653.8" y2="658.1" stroke="#000" stroke-width="0.6"/>
<line x1="659.6" y1="656.5" x2="659.6" y2="658.1" stroke="#000" stroke-width="0.6"/>
<line x1="664.4" y1="656.5" x2="664.4" y2="658.1" stroke="#000" stroke-width="0.6"/>
<line x1="668.4" y1="656.5" x2="668.4" y2="658.1" stroke="#000" stroke-width="0.6"/>
<line x1="671.8" y1="656.5" x2="671.8" y2="658.1" stroke="#000" stroke-width="0.6"/>
<line x1="674.9" y1="656.5" x2="674.9" y2="658.1" stroke="#000" stroke-width="0.6"/>
<line x1="677.6" y1="656.5" x2="677.6" y2="659.5" stroke="#000" stroke-width="1.2"/>
<text x="677.2" y="670.6" font-size="8.4" font-weight="bold" text-anchor="middle">10<tspan font-size="6" dy="-3.3">5</tspan></text>
<text x="588.6" y="682" font-size="9" font-weight="bold" text-anchor="middle">Electrode Area  (μm<tspan font-size="6.3" dy="-3.3">2</tspan><tspan dy="3.3">)</tspan></text>
<text x="0.0" y="0.0" font-size="9.0" font-weight="bold" text-anchor="middle" fill="#000" transform="translate(469.6,591.6) rotate(-90)">Impedance @ 1kHz</text>
<path d="M571.8000000000001 524.7L577.9200000000001 521.3000000000001L577.9200000000001 528.1Z" fill="#d4a017"/>
<path d="M637.1 543.1L630.98 539.7L630.98 546.5Z" fill="#b8860b"/>
<path d="M644.6 590.3L650.72 586.9L650.72 593.6999999999999Z" fill="#d4a017"/>
<path d="M549 609.6L545.8 603.84L552.2 603.84Z" fill="#ff6600"/>
<path d="M630.8 649.0L627.1999999999999 655.48L634.4 655.48Z" fill="#5cb82a"/>
<path d="M618.3 591.8L621.8 595.3L618.3 598.8L614.8 595.3Z" fill="#b070e0"/>
<circle cx="527.7" cy="617" r="2.6" fill="#5b8fd0"/>
<circle cx="564.3" cy="643.9" r="2.6" fill="#5b8fd0"/>
<polygon points="534.20,638.80 535.32,641.66 538.38,641.84 536.01,643.79 536.79,646.76 534.20,645.10 531.61,646.76 532.39,643.79 530.02,641.84 533.08,641.66" fill="#ee3040"/>
<text x="603.5" y="518.9" font-size="7.6" font-weight="bold" text-anchor="end" fill="#000" font-style="italic" >Graphene (14)</text>
<text x="624.9" y="536.0" font-size="7.6" font-weight="bold" text-anchor="start" fill="#000" font-style="italic" >ITO (44)</text>
<text x="677.1" y="576.0" font-size="7.6" font-weight="bold" text-anchor="end" fill="#000" font-style="italic" >Graphene (12)</text>
<text x="603.9" y="588.6" font-size="7.6" font-weight="bold" text-anchor="start" fill="#000" font-style="italic" >CNT (26)</text>
<text x="549.3" y="588.4" font-size="7.6" font-weight="bold" text-anchor="middle" fill="#000" font-style="italic" >PEDOT:PSS/</text>
<text x="549.3" y="597.5" font-size="7.6" font-weight="bold" text-anchor="middle" fill="#000" font-style="italic" >Graphene (24)</text>
<text x="534.2" y="618.9" font-size="7.6" font-weight="bold" text-anchor="start" fill="#000" font-style="italic" >Au Nano-mesh (28)</text>
<text x="515.8" y="634.8" font-size="9.5" font-weight="normal" text-anchor="start" fill="#ee3040" font-style="italic" >Our Work</text>
<text x="628.5" y="635.8" font-size="7.6" font-weight="bold" text-anchor="middle" fill="#000" font-style="italic" >Ag/Au</text>
<text x="629.1" y="645.3" font-size="7.6" font-weight="bold" text-anchor="middle" fill="#000" font-style="italic" >Core Shell (30)</text>
</svg>
</body></html>
